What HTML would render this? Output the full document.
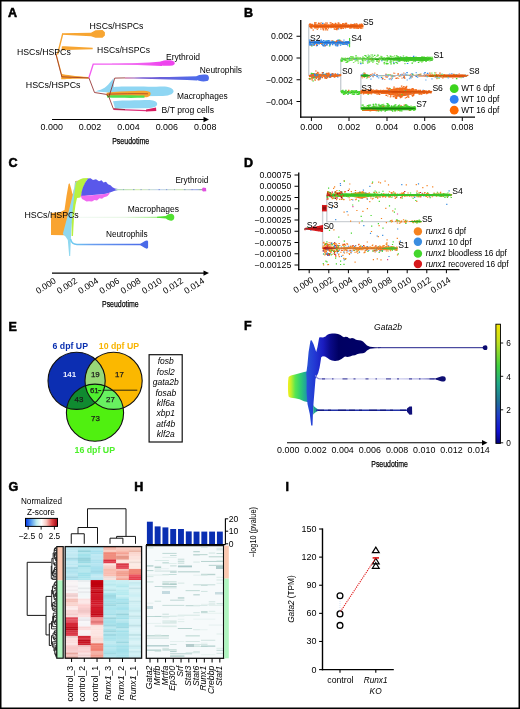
<!DOCTYPE html>
<html><head><meta charset="utf-8"><style>
html,body{margin:0;padding:0;background:#fff;overflow:hidden;}
svg{display:block;font-family:"Liberation Sans", sans-serif;will-change:transform;}
</style></head><body>
<svg width="520" height="709" viewBox="0 0 520 709">
<rect x="0" y="0" width="520" height="709" fill="#fff"/>
<defs><linearGradient id="gNeu" x1="0" x2="1" y1="0" y2="0"><stop offset="0" stop-color="#c0407a"/><stop offset="0.2" stop-color="#7a5ad0"/><stop offset="1" stop-color="#4e6bea"/></linearGradient><linearGradient id="gEry" x1="0" x2="1"><stop offset="0" stop-color="#f48af4"/><stop offset="1" stop-color="#ee44ee"/></linearGradient></defs>
<path d="M57.5,54.5 L62.7,33.8" fill="none" stroke="#f7a531" stroke-width="1.4"/>
<path d="M62,33.2 L91,32.8 L95.5,30.2 L102.5,30 L104.9,32.2 L104.9,35.6 L102.5,37.8 L95.5,37.8 L91,36.2 L62,34.8 Z" fill="#f7a531" stroke="none" stroke-width="1"/>
<path d="M61.8,46.6 C62.5,46.2 63.5,46.2 65,46.3 L92.7,47.8 L92.7,49.2 L65,49.9 C63.5,50.1 62.3,50.3 61.6,50.6 Z" fill="#f7a531" stroke="none" stroke-width="1"/>
<path d="M56,54 L62,76.5 L89,77.8" fill="none" stroke="#f7a531" stroke-width="1.1"/>
<path d="M61.2,73.8 C66,75 75,76.3 88,77.1 L88,78.5 L75,78.7 C68,79 64,79.2 61.2,79.2 Z" fill="#f7a531" stroke="none" stroke-width="1"/>
<path d="M55.5,52.5 L61.8,76.8 L88.9,78" fill="none" stroke="#8b2020" stroke-width="0.7"/>
<path d="M88.9,77.8 L93.2,64.2 L162,64.2" fill="none" stroke="#f25cf2" stroke-width="1.3"/>
<path d="M112,63.6 C130,63.5 145,63 162,61.6 L162,66 C145,65.2 130,64.8 112,64.8 Z" fill="url(#gEry)" stroke="none" stroke-width="1"/>
<path d="M160,62 C163,60.2 169,60.1 172.5,60.7 C175.5,61.4 175.5,64.8 172.5,65.4 C169,66 163,65.9 160,65.2 Z" fill="#ee44ee" stroke="none" stroke-width="1"/>
<path d="M125,77.5 C150,77.3 170,76.9 197,76.2 L197,80.4 C170,79.6 150,79 125,78.6 Z" fill="url(#gNeu)" stroke="none" stroke-width="1"/>
<path d="M196,77 C198,74.6 203,74.2 207,74.8 C209.6,75.5 209.6,80.6 207,81.1 C203,81.8 198,81.2 196,79.6 Z" fill="#4e6bea" stroke="none" stroke-width="1"/>
<path d="M94.5,91.2 C100,90.6 106,88 109.5,83 L113.5,78.3 L114,93 Z" fill="#8fd6f3" stroke="none" stroke-width="1"/>
<path d="M108,90.5 C110,87.2 115,86.6 125,86.6 C140,86.1 150,87.1 160,86.5 C168,86 173.3,88 173.6,91.2 C173.6,94.3 168,96.1 160,96.1 L120,96.6 C115,97 110,95.3 108,93.5 Z" fill="#8fd6f3" stroke="none" stroke-width="1"/>
<path d="M106.5,92.8 C115,91.8 125,91.2 135,91 C142,90.6 148,90.8 150,92 C151.5,94 150.5,96.5 147,97.2 C135,97 120,96.8 106.5,96 Z" fill="#f7a531" stroke="none" stroke-width="1"/>
<path d="M107,95.4 C120,95 130,95.2 144.5,95.6 L144.5,97.8 C130,98.1 120,97.9 107,97.6 Z" fill="#4ee04e" stroke="none" stroke-width="1"/>
<path d="M107,94.2 C120,93.8 135,93.5 148,93.8" fill="none" stroke="#8b2020" stroke-width="0.6"/>
<path d="M113,101.2 C120,100.6 130,100.6 145,100.1 C152,99.7 157.2,101 157.2,104 C157.2,107 152,108.2 145,108.2 L115,108.6 Z" fill="#8fd6f3" stroke="none" stroke-width="1"/>
<path d="M113.3,109.4 L146,110.6 L155.5,109.4" fill="none" stroke="#e0307a" stroke-width="1.3"/>
<path d="M146,109.5 L156,107.4 L156.3,111.1 L146,111.5 Z" fill="#d81b60" stroke="none" stroke-width="1"/>
<path d="M88.9,77.8 L94.5,92.5 L106.4,94.4 L108.9,96.9 L113.25,108.6 L125,109.6" fill="none" stroke="#8b2020" stroke-width="0.8"/>
<path d="M108.9,96.9 L114.75,78.1 L125,77.9" fill="none" stroke="#8b2020" stroke-width="0.8"/>
<text x="8" y="17.05" font-size="12.5" text-anchor="start" fill="#000" font-weight="bold" stroke="#000" stroke-width="0.55">A</text>
<text x="89.5" y="28.8" font-size="8.8" text-anchor="start" fill="#000" textLength="54" lengthAdjust="spacingAndGlyphs">HSCs/HSPCs</text>
<text x="97" y="53" font-size="8.8" text-anchor="start" fill="#000" textLength="53" lengthAdjust="spacingAndGlyphs">HSCs/HSPCs</text>
<text x="17" y="55" font-size="8.8" text-anchor="start" fill="#000" textLength="53.75" lengthAdjust="spacingAndGlyphs">HSCs/HSPCs</text>
<text x="25.75" y="88" font-size="8.8" text-anchor="start" fill="#000" textLength="54.75" lengthAdjust="spacingAndGlyphs">HSCs/HSPCs</text>
<text x="166" y="59.5" font-size="8.5" text-anchor="start" fill="#000" textLength="34" lengthAdjust="spacingAndGlyphs">Erythroid</text>
<text x="199.7" y="72.8" font-size="8.5" text-anchor="start" fill="#000" textLength="42.3" lengthAdjust="spacingAndGlyphs">Neutrophils</text>
<text x="177" y="99.3" font-size="8.5" text-anchor="start" fill="#000" textLength="50.8" lengthAdjust="spacingAndGlyphs">Macrophages</text>
<text x="161.6" y="112.8" font-size="8.5" text-anchor="start" fill="#000" textLength="52.4" lengthAdjust="spacingAndGlyphs">B/T prog cells</text>
<line x1="52" y1="119.5" x2="206" y2="119.5" stroke="#000" stroke-width="1.1"/>
<path d="M209,119.5 L203.5,116.8 L203.5,122.2 Z" fill="#000" stroke="none" stroke-width="1"/>
<text x="51.7" y="130.1" font-size="8.8" text-anchor="middle" fill="#000" textLength="22.3" lengthAdjust="spacingAndGlyphs">0.000</text>
<text x="90" y="130.1" font-size="8.8" text-anchor="middle" fill="#000" textLength="22.3" lengthAdjust="spacingAndGlyphs">0.002</text>
<text x="128.5" y="130.1" font-size="8.8" text-anchor="middle" fill="#000" textLength="22.3" lengthAdjust="spacingAndGlyphs">0.004</text>
<text x="166.8" y="130.1" font-size="8.8" text-anchor="middle" fill="#000" textLength="22.3" lengthAdjust="spacingAndGlyphs">0.006</text>
<text x="205.2" y="130.1" font-size="8.8" text-anchor="middle" fill="#000" textLength="22.3" lengthAdjust="spacingAndGlyphs">0.008</text>
<text x="112.2" y="143.6" font-size="9.6" text-anchor="start" fill="#000" textLength="37" lengthAdjust="spacingAndGlyphs" stroke="#000" stroke-width="0.25">Pseudotime</text>
<line x1="308.8" y1="25" x2="308.8" y2="76" stroke="#aab4bc" stroke-width="0.9"/>
<line x1="340.8" y1="58.9" x2="340.8" y2="92.2" stroke="#aab4bc" stroke-width="0.9"/>
<line x1="360.9" y1="75.5" x2="360.9" y2="108.3" stroke="#aab4bc" stroke-width="0.9"/>
<path d="M309.2,25.3 L311.4,25.0 L313.7,24.7 L315.9,24.6 L318.2,24.6 L320.4,24.6 L322.6,24.6 L324.9,24.6 L327.1,24.6 L329.4,24.6 L331.6,24.6 L333.9,24.6 L336.1,24.6 L338.3,24.5 L340.6,24.5 L342.8,24.5 L345.1,24.5 L347.3,24.5 L349.6,24.5 L351.8,24.5 L354.0,24.5 L356.3,24.5 L358.5,24.7 L360.8,25.1 L363.0,25.6 L363.0,26.6 L360.8,27.1 L358.5,27.6 L356.3,27.8 L354.0,27.8 L351.8,27.8 L349.6,27.8 L347.3,27.8 L345.1,27.8 L342.8,27.8 L340.6,27.8 L338.3,27.8 L336.1,27.8 L333.9,27.7 L331.6,27.7 L329.4,27.7 L327.1,27.7 L324.9,27.7 L322.6,27.7 L320.4,27.7 L318.2,27.7 L315.9,27.7 L313.7,27.6 L311.4,27.2 L309.2,26.9Z" fill="#f26a1b"/>
<path d="M309.2,41.4 L310.9,41.4 L312.6,41.4 L314.2,41.4 L315.9,41.4 L317.6,41.4 L319.3,41.5 L321.0,41.5 L322.6,41.5 L324.3,41.5 L326.0,41.5 L327.7,41.5 L329.4,41.5 L331.0,41.5 L332.7,41.5 L334.4,41.5 L336.1,41.5 L337.7,41.5 L339.4,41.6 L341.1,41.6 L342.8,41.6 L344.5,41.6 L346.1,41.6 L347.8,41.6 L349.5,41.6 L349.5,43.7 L347.8,43.7 L346.1,43.7 L344.5,43.7 L342.8,43.7 L341.1,43.7 L339.4,43.8 L337.7,43.8 L336.1,43.8 L334.4,43.8 L332.7,43.8 L331.0,43.8 L329.4,43.8 L327.7,43.8 L326.0,43.8 L324.3,43.8 L322.6,43.8 L321.0,43.8 L319.3,43.9 L317.6,43.9 L315.9,43.9 L314.2,43.9 L312.6,43.9 L310.9,43.9 L309.2,43.9Z" fill="#2f86e8"/>
<line x1="349.6" y1="38" x2="349.6" y2="47.3" stroke="#44d62c" stroke-width="1.1"/>
<path d="M309.2,75.1 L310.5,74.4 L311.8,73.7 L313.1,73.1 L314.5,73.3 L315.8,73.5 L317.1,73.7 L318.4,73.9 L319.7,74.1 L321.1,74.3 L322.4,74.4 L323.7,74.5 L325.0,74.5 L326.3,74.6 L327.6,74.6 L328.9,74.7 L330.3,74.8 L331.6,74.8 L332.9,74.9 L334.2,74.9 L335.5,75.0 L336.9,75.0 L338.2,75.1 L339.5,75.1 L340.8,75.2 L340.8,76.0 L339.5,76.1 L338.2,76.1 L336.9,76.2 L335.5,76.2 L334.2,76.3 L332.9,76.3 L331.6,76.4 L330.3,76.4 L328.9,76.5 L327.6,76.6 L326.3,76.6 L325.0,76.7 L323.7,76.7 L322.4,76.8 L321.1,76.9 L319.7,77.2 L318.4,77.4 L317.1,77.7 L315.8,77.9 L314.5,78.1 L313.1,78.4 L311.8,77.7 L310.5,76.9 L309.2,76.1Z" fill="#f26a1b"/>
<path d="M341.2,58.6 L345.0,58.6 L348.8,58.5 L352.6,58.5 L356.4,58.5 L360.3,58.5 L364.1,58.4 L367.9,58.4 L371.7,58.4 L375.5,58.4 L379.3,58.4 L383.1,58.3 L386.9,58.3 L390.8,58.1 L394.6,58.0 L398.4,57.8 L402.2,57.7 L406.0,57.7 L409.8,57.7 L413.6,57.7 L417.4,57.6 L421.3,57.6 L425.1,57.6 L428.9,57.6 L432.7,57.6 L432.7,60.7 L428.9,60.7 L425.1,60.7 L421.3,60.7 L417.4,60.7 L413.6,60.7 L409.8,60.7 L406.0,60.7 L402.2,60.7 L398.4,60.6 L394.6,60.4 L390.8,60.3 L386.9,60.1 L383.1,60.0 L379.3,59.9 L375.5,59.9 L371.7,59.8 L367.9,59.7 L364.1,59.6 L360.3,59.6 L356.4,59.5 L352.6,59.4 L348.8,59.4 L345.0,59.3 L341.2,59.2Z" fill="#2aa818"/>
<path d="M380.0,58.2 L382.2,58.1 L384.4,58.1 L386.6,58.0 L388.8,58.0 L391.0,57.9 L393.2,57.8 L395.4,57.8 L397.6,57.7 L399.8,57.6 L402.0,57.6 L404.2,57.5 L406.4,57.5 L408.5,57.4 L410.7,57.3 L412.9,57.3 L415.1,57.2 L417.3,57.1 L419.5,57.1 L421.7,57.0 L423.9,57.0 L426.1,56.9 L428.3,56.8 L430.5,56.8 L432.7,56.7 L432.7,60.3 L430.5,60.3 L428.3,60.2 L426.1,60.2 L423.9,60.2 L421.7,60.1 L419.5,60.1 L417.3,60.1 L415.1,60.0 L412.9,60.0 L410.7,60.0 L408.5,59.9 L406.4,59.9 L404.2,59.9 L402.0,59.8 L399.8,59.8 L397.6,59.8 L395.4,59.7 L393.2,59.7 L391.0,59.7 L388.8,59.6 L386.6,59.6 L384.4,59.6 L382.2,59.5 L380.0,59.5Z" fill="#44d62c"/>
<line x1="360.9" y1="75.5" x2="420" y2="75.5" stroke="#aab4bc" stroke-width="0.7"/>
<path d="M361.0,75.3 L361.5,75.1 L361.9,75.0 L362.4,74.8 L362.8,74.6 L363.3,74.5 L363.8,74.3 L364.2,74.1 L364.7,74.2 L365.1,74.2 L365.6,74.3 L366.0,74.3 L366.5,74.4 L367.0,74.5 L367.4,74.5 L367.9,74.6 L368.3,74.7 L368.8,74.7 L369.2,74.8 L369.7,74.9 L370.2,74.9 L370.6,75.0 L371.1,75.1 L371.5,75.1 L372.0,75.2 L372.0,76.0 L371.5,76.1 L371.1,76.1 L370.6,76.2 L370.2,76.3 L369.7,76.3 L369.2,76.4 L368.8,76.5 L368.3,76.5 L367.9,76.6 L367.4,76.7 L367.0,76.7 L366.5,76.8 L366.0,76.9 L365.6,76.9 L365.1,77.0 L364.7,77.0 L364.2,77.1 L363.8,76.9 L363.3,76.7 L362.8,76.6 L362.4,76.4 L361.9,76.2 L361.5,76.1 L361.0,75.9Z" fill="#2aa818"/>
<path d="M415.0,75.4 L417.2,75.3 L419.4,75.3 L421.6,75.2 L423.8,75.1 L426.0,75.1 L428.2,75.0 L430.4,74.9 L432.6,74.9 L434.8,74.8 L437.0,74.7 L439.2,74.7 L441.4,74.6 L443.5,74.6 L445.7,74.6 L447.9,74.5 L450.1,74.5 L452.3,74.5 L454.5,74.5 L456.7,74.5 L458.9,74.4 L461.1,74.4 L463.3,74.6 L465.5,75.0 L467.7,75.5 L467.7,76.1 L465.5,76.7 L463.3,77.3 L461.1,77.6 L458.9,77.6 L456.7,77.5 L454.5,77.5 L452.3,77.5 L450.1,77.5 L447.9,77.5 L445.7,77.4 L443.5,77.4 L441.4,77.4 L439.2,77.3 L437.0,77.2 L434.8,77.1 L432.6,77.0 L430.4,76.9 L428.2,76.8 L426.0,76.7 L423.8,76.6 L421.6,76.5 L419.4,76.4 L417.2,76.3 L415.0,76.2Z" fill="#e0560c"/>
<path d="M430.0,75.5 L431.0,75.4 L432.1,75.3 L433.1,75.2 L434.2,75.2 L435.2,75.1 L436.2,75.0 L437.3,74.9 L438.3,74.8 L439.4,74.8 L440.4,74.7 L441.5,74.6 L442.5,74.5 L443.5,74.6 L444.6,74.6 L445.6,74.7 L446.7,74.8 L447.7,74.8 L448.8,74.9 L449.8,75.0 L450.8,75.0 L451.9,75.1 L452.9,75.2 L454.0,75.2 L455.0,75.3 L455.0,76.3 L454.0,76.4 L452.9,76.4 L451.9,76.5 L450.8,76.6 L449.8,76.6 L448.8,76.7 L447.7,76.8 L446.7,76.8 L445.6,76.9 L444.6,77.0 L443.5,77.0 L442.5,77.1 L441.5,77.0 L440.4,76.9 L439.4,76.8 L438.3,76.8 L437.3,76.7 L436.2,76.6 L435.2,76.5 L434.2,76.4 L433.1,76.3 L432.1,76.3 L431.0,76.2 L430.0,76.1Z" fill="#2aa818"/>
<path d="M341.0,91.7 L341.8,91.6 L342.6,91.5 L343.4,91.4 L344.2,91.3 L345.0,91.1 L345.8,91.0 L346.6,90.9 L347.4,90.9 L348.2,90.9 L349.0,91.0 L349.8,91.0 L350.6,91.0 L351.4,91.0 L352.2,91.1 L353.0,91.1 L353.8,91.1 L354.6,91.1 L355.4,91.2 L356.2,91.2 L357.0,91.2 L357.8,91.2 L358.6,91.3 L359.4,91.3 L360.2,91.3 L360.2,92.9 L359.4,92.9 L358.6,92.9 L357.8,93.0 L357.0,93.0 L356.2,93.0 L355.4,93.0 L354.6,93.1 L353.8,93.1 L353.0,93.1 L352.2,93.1 L351.4,93.2 L350.6,93.2 L349.8,93.2 L349.0,93.2 L348.2,93.3 L347.4,93.3 L346.6,93.3 L345.8,93.2 L345.0,93.1 L344.2,92.9 L343.4,92.8 L342.6,92.7 L341.8,92.6 L341.0,92.5Z" fill="#2aa818"/>
<path d="M361.0,91.3 L363.9,91.2 L366.9,91.1 L369.8,91.0 L372.8,90.9 L375.7,90.8 L378.6,90.7 L381.6,90.4 L384.5,90.1 L387.4,89.7 L390.4,89.4 L393.3,88.7 L396.2,88.0 L399.2,87.8 L402.1,88.0 L405.1,88.2 L408.0,88.8 L410.9,89.5 L413.9,90.0 L416.8,90.4 L419.8,90.7 L422.7,91.0 L425.6,91.2 L428.6,91.3 L431.5,91.5 L431.5,92.3 L428.6,92.5 L425.6,92.6 L422.7,92.8 L419.8,93.1 L416.8,93.6 L413.9,94.1 L410.9,94.6 L408.0,95.3 L405.1,96.0 L402.1,96.3 L399.2,96.6 L396.2,96.3 L393.3,95.5 L390.4,94.7 L387.4,94.3 L384.5,93.9 L381.6,93.5 L378.6,93.1 L375.7,93.0 L372.8,92.9 L369.8,92.8 L366.9,92.7 L363.9,92.6 L361.0,92.5Z" fill="#f26a1b"/>
<path d="M361.0,91.5 L363.9,91.5 L366.9,91.5 L369.8,91.5 L372.8,91.5 L375.7,91.5 L378.6,91.5 L381.6,91.5 L384.5,91.5 L387.4,91.5 L390.4,91.5 L393.3,91.5 L396.2,91.5 L399.2,91.5 L402.1,91.5 L405.1,91.5 L408.0,91.5 L410.9,91.5 L413.9,91.5 L416.8,91.5 L419.8,91.5 L422.7,91.5 L425.6,91.5 L428.6,91.5 L431.5,91.5 L431.5,92.4 L428.6,92.4 L425.6,92.4 L422.7,92.4 L419.8,92.4 L416.8,92.4 L413.9,92.4 L410.9,92.4 L408.0,92.4 L405.1,92.4 L402.1,92.4 L399.2,92.4 L396.2,92.4 L393.3,92.4 L390.4,92.4 L387.4,92.4 L384.5,92.4 L381.6,92.4 L378.6,92.4 L375.7,92.4 L372.8,92.4 L369.8,92.4 L366.9,92.4 L363.9,92.4 L361.0,92.4Z" fill="#c84a08"/>
<path d="M361.0,91.7 L361.3,91.6 L361.6,91.5 L361.9,91.4 L362.2,91.3 L362.5,91.2 L362.8,91.2 L363.0,91.1 L363.3,91.0 L363.6,90.9 L363.9,90.8 L364.2,90.7 L364.5,90.6 L364.8,90.7 L365.1,90.8 L365.4,90.9 L365.7,90.9 L366.0,91.0 L366.2,91.1 L366.5,91.2 L366.8,91.3 L367.1,91.4 L367.4,91.4 L367.7,91.5 L368.0,91.6 L368.0,92.2 L367.7,92.3 L367.4,92.4 L367.1,92.5 L366.8,92.5 L366.5,92.6 L366.2,92.7 L366.0,92.8 L365.7,92.9 L365.4,93.0 L365.1,93.0 L364.8,93.1 L364.5,93.2 L364.2,93.1 L363.9,93.0 L363.6,92.9 L363.3,92.8 L363.0,92.7 L362.8,92.7 L362.5,92.6 L362.2,92.5 L361.9,92.4 L361.6,92.3 L361.3,92.2 L361.0,92.1Z" fill="#2aa818"/>
<path d="M361.3,107.5 L363.6,107.3 L365.8,107.2 L368.1,107.0 L370.3,106.8 L372.6,106.7 L374.8,106.7 L377.1,106.7 L379.3,106.7 L381.6,106.7 L383.8,106.7 L386.1,106.7 L388.4,106.7 L390.6,106.7 L392.9,106.6 L395.1,106.6 L397.4,106.6 L399.6,106.6 L401.9,106.6 L404.1,106.6 L406.4,106.6 L408.6,106.6 L410.9,106.7 L413.1,107.0 L415.4,107.3 L415.4,109.3 L413.1,109.7 L410.9,110.0 L408.6,110.2 L406.4,110.2 L404.1,110.2 L401.9,110.2 L399.6,110.2 L397.4,110.2 L395.1,110.2 L392.9,110.2 L390.6,110.3 L388.4,110.3 L386.1,110.3 L383.8,110.3 L381.6,110.3 L379.3,110.3 L377.1,110.3 L374.8,110.3 L372.6,110.3 L370.3,110.2 L368.1,110.0 L365.8,109.8 L363.6,109.7 L361.3,109.5Z" fill="#2aa818"/>
<path d="M362.0,109.3 L362.8,109.3 L363.7,109.2 L364.5,109.2 L365.3,109.2 L366.2,109.2 L367.0,109.1 L367.8,109.1 L368.7,109.1 L369.5,109.1 L370.3,109.0 L371.2,109.0 L372.0,109.0 L372.8,109.0 L373.7,109.1 L374.5,109.1 L375.3,109.1 L376.2,109.2 L377.0,109.2 L377.8,109.2 L378.7,109.3 L379.5,109.3 L380.3,109.3 L381.2,109.4 L382.0,109.4 L382.0,109.9 L381.2,110.0 L380.3,110.0 L379.5,110.1 L378.7,110.2 L377.8,110.3 L377.0,110.3 L376.2,110.4 L375.3,110.5 L374.5,110.6 L373.7,110.6 L372.8,110.7 L372.0,110.8 L371.2,110.7 L370.3,110.7 L369.5,110.6 L368.7,110.6 L367.8,110.5 L367.0,110.4 L366.2,110.4 L365.3,110.3 L364.5,110.3 L363.7,110.2 L362.8,110.2 L362.0,110.1Z" fill="#f26a1b"/>
<path d="M339.4,24.7h1.5v1.2h-1.5z" fill="#44d62c"/>
<path d="M344.9,24.6h1.5v1.2h-1.5zM359.5,26.4h1.5v1.2h-1.5zM317.3,25.4h1.5v1.2h-1.5zM337.8,28.3h1.5v1.2h-1.5zM353.4,23.8h1.5v1.2h-1.5zM322.0,22.8h1.5v1.2h-1.5zM352.2,24.3h1.5v1.2h-1.5zM312.2,24.7h1.5v1.2h-1.5z" fill="#2f86e8"/>
<path d="M320.8,25.5h1.5v1.2h-1.5zM361.8,25.0h1.5v1.2h-1.5zM355.9,24.6h1.5v1.2h-1.5zM311.5,25.2h1.5v1.2h-1.5zM311.6,24.1h1.5v1.2h-1.5zM324.9,29.2h1.5v1.2h-1.5zM355.7,27.6h1.5v1.2h-1.5zM324.4,24.0h1.5v1.2h-1.5zM359.8,27.6h1.5v1.2h-1.5zM312.4,25.2h1.5v1.2h-1.5zM344.5,26.1h1.5v1.2h-1.5zM314.0,27.1h1.5v1.2h-1.5zM357.4,26.5h1.5v1.2h-1.5zM351.7,25.7h1.5v1.2h-1.5zM357.2,26.7h1.5v1.2h-1.5zM336.0,25.1h1.5v1.2h-1.5zM345.7,22.8h1.5v1.2h-1.5zM354.5,23.7h1.5v1.2h-1.5zM343.9,25.0h1.5v1.2h-1.5zM315.2,26.0h1.5v1.2h-1.5zM360.8,24.3h1.5v1.2h-1.5zM346.5,24.7h1.5v1.2h-1.5zM320.4,22.2h1.5v1.2h-1.5zM346.5,25.7h1.5v1.2h-1.5zM340.6,26.1h1.5v1.2h-1.5zM340.4,28.0h1.5v1.2h-1.5zM361.9,27.2h1.5v1.2h-1.5zM339.7,26.9h1.5v1.2h-1.5zM315.4,22.3h1.5v1.2h-1.5zM342.7,25.4h1.5v1.2h-1.5zM311.7,25.0h1.5v1.2h-1.5zM327.5,24.6h1.5v1.2h-1.5zM316.6,28.8h1.5v1.2h-1.5zM351.9,26.1h1.5v1.2h-1.5zM337.3,22.6h1.5v1.2h-1.5zM334.3,28.9h1.5v1.2h-1.5zM352.3,24.0h1.5v1.2h-1.5zM323.7,27.4h1.5v1.2h-1.5zM352.5,25.0h1.5v1.2h-1.5zM338.9,24.5h1.5v1.2h-1.5zM322.5,25.7h1.5v1.2h-1.5z" fill="#f58a40"/>
<path d="M315.7,27.4h1.5v1.2h-1.5zM335.1,23.3h1.5v1.2h-1.5zM343.5,25.7h1.5v1.2h-1.5zM353.4,25.0h1.5v1.2h-1.5zM349.5,27.0h1.5v1.2h-1.5zM356.9,25.8h1.5v1.2h-1.5zM359.0,25.5h1.5v1.2h-1.5zM320.1,25.1h1.5v1.2h-1.5zM332.0,25.7h1.5v1.2h-1.5zM321.0,25.7h1.5v1.2h-1.5zM324.0,26.8h1.5v1.2h-1.5zM353.5,23.9h1.5v1.2h-1.5zM315.0,24.1h1.5v1.2h-1.5zM358.8,27.0h1.5v1.2h-1.5zM353.1,25.0h1.5v1.2h-1.5zM335.6,25.1h1.5v1.2h-1.5zM351.4,25.3h1.5v1.2h-1.5zM317.8,23.0h1.5v1.2h-1.5zM328.6,24.7h1.5v1.2h-1.5zM335.8,25.9h1.5v1.2h-1.5zM334.8,23.6h1.5v1.2h-1.5zM310.8,24.1h1.5v1.2h-1.5zM329.6,22.2h1.5v1.2h-1.5zM335.5,28.5h1.5v1.2h-1.5zM354.7,25.3h1.5v1.2h-1.5zM336.1,27.7h1.5v1.2h-1.5zM322.9,24.9h1.5v1.2h-1.5zM359.9,27.4h1.5v1.2h-1.5zM356.1,25.6h1.5v1.2h-1.5zM352.0,23.9h1.5v1.2h-1.5zM339.1,26.1h1.5v1.2h-1.5zM327.6,27.6h1.5v1.2h-1.5zM337.4,24.0h1.5v1.2h-1.5zM310.0,23.8h1.5v1.2h-1.5zM318.0,22.6h1.5v1.2h-1.5zM351.3,24.2h1.5v1.2h-1.5zM322.2,27.0h1.5v1.2h-1.5zM309.3,23.3h1.5v1.2h-1.5zM349.1,25.5h1.5v1.2h-1.5zM327.0,26.4h1.5v1.2h-1.5zM317.0,24.5h1.5v1.2h-1.5zM346.7,25.4h1.5v1.2h-1.5zM325.8,25.1h1.5v1.2h-1.5zM331.1,25.6h1.5v1.2h-1.5zM314.3,27.4h1.5v1.2h-1.5zM341.0,24.5h1.5v1.2h-1.5zM309.6,26.6h1.5v1.2h-1.5zM317.1,25.6h1.5v1.2h-1.5zM351.4,25.3h1.5v1.2h-1.5zM320.5,24.5h1.5v1.2h-1.5zM325.7,24.2h1.5v1.2h-1.5zM325.1,28.3h1.5v1.2h-1.5zM322.0,24.5h1.5v1.2h-1.5zM339.1,26.2h1.5v1.2h-1.5zM355.1,27.3h1.5v1.2h-1.5zM328.8,25.1h1.5v1.2h-1.5zM319.5,24.7h1.5v1.2h-1.5zM314.1,23.9h1.5v1.2h-1.5zM356.9,25.5h1.5v1.2h-1.5zM319.3,23.2h1.5v1.2h-1.5zM326.7,29.2h1.5v1.2h-1.5zM344.7,27.3h1.5v1.2h-1.5zM355.9,23.2h1.5v1.2h-1.5zM334.5,26.8h1.5v1.2h-1.5zM313.0,25.4h1.5v1.2h-1.5zM357.5,25.9h1.5v1.2h-1.5zM353.7,27.5h1.5v1.2h-1.5zM326.8,24.7h1.5v1.2h-1.5zM315.7,24.7h1.5v1.2h-1.5zM350.9,26.1h1.5v1.2h-1.5zM350.5,24.5h1.5v1.2h-1.5zM339.2,25.6h1.5v1.2h-1.5zM356.4,26.0h1.5v1.2h-1.5zM358.2,24.7h1.5v1.2h-1.5zM353.0,25.8h1.5v1.2h-1.5zM310.6,26.0h1.5v1.2h-1.5zM361.6,25.1h1.5v1.2h-1.5zM321.4,25.9h1.5v1.2h-1.5zM357.4,24.9h1.5v1.2h-1.5zM322.1,24.7h1.5v1.2h-1.5zM310.6,25.6h1.5v1.2h-1.5zM361.3,25.1h1.5v1.2h-1.5zM325.3,27.9h1.5v1.2h-1.5zM357.6,27.8h1.5v1.2h-1.5zM320.0,24.7h1.5v1.2h-1.5zM361.2,24.0h1.5v1.2h-1.5zM322.4,24.8h1.5v1.2h-1.5zM325.0,25.5h1.5v1.2h-1.5zM361.4,25.9h1.5v1.2h-1.5zM343.5,23.4h1.5v1.2h-1.5zM325.0,22.4h1.5v1.2h-1.5zM325.5,27.7h1.5v1.2h-1.5zM326.4,22.6h1.5v1.2h-1.5zM339.6,24.6h1.5v1.2h-1.5zM321.6,24.8h1.5v1.2h-1.5zM338.1,26.1h1.5v1.2h-1.5zM324.1,25.8h1.5v1.2h-1.5zM335.0,26.2h1.5v1.2h-1.5zM351.2,25.0h1.5v1.2h-1.5zM352.6,27.4h1.5v1.2h-1.5zM314.2,22.1h1.5v1.2h-1.5zM356.5,25.3h1.5v1.2h-1.5zM353.7,25.5h1.5v1.2h-1.5zM331.7,23.0h1.5v1.2h-1.5zM346.9,25.0h1.5v1.2h-1.5zM360.3,24.8h1.5v1.2h-1.5zM338.0,22.6h1.5v1.2h-1.5zM329.7,24.7h1.5v1.2h-1.5zM322.3,28.2h1.5v1.2h-1.5zM339.1,25.9h1.5v1.2h-1.5zM327.5,26.1h1.5v1.2h-1.5zM353.0,26.0h1.5v1.2h-1.5zM330.0,24.6h1.5v1.2h-1.5zM336.9,24.8h1.5v1.2h-1.5zM343.4,23.5h1.5v1.2h-1.5zM321.3,26.6h1.5v1.2h-1.5zM334.2,25.8h1.5v1.2h-1.5zM323.3,25.2h1.5v1.2h-1.5zM317.0,25.9h1.5v1.2h-1.5zM328.4,24.7h1.5v1.2h-1.5zM360.1,24.9h1.5v1.2h-1.5zM320.2,25.0h1.5v1.2h-1.5zM349.2,27.5h1.5v1.2h-1.5zM327.2,26.4h1.5v1.2h-1.5zM351.9,25.1h1.5v1.2h-1.5zM322.8,29.2h1.5v1.2h-1.5zM350.2,23.8h1.5v1.2h-1.5zM360.7,24.4h1.5v1.2h-1.5zM351.6,24.8h1.5v1.2h-1.5zM360.1,26.6h1.5v1.2h-1.5zM314.8,27.3h1.5v1.2h-1.5zM321.8,25.5h1.5v1.2h-1.5zM332.1,25.4h1.5v1.2h-1.5zM342.2,23.3h1.5v1.2h-1.5zM323.8,23.6h1.5v1.2h-1.5zM323.1,24.4h1.5v1.2h-1.5zM351.0,25.0h1.5v1.2h-1.5zM349.8,25.1h1.5v1.2h-1.5zM329.1,25.3h1.5v1.2h-1.5zM314.8,26.4h1.5v1.2h-1.5zM315.8,24.9h1.5v1.2h-1.5zM339.3,24.8h1.5v1.2h-1.5zM336.9,27.4h1.5v1.2h-1.5zM332.2,24.2h1.5v1.2h-1.5zM350.6,25.9h1.5v1.2h-1.5zM334.9,24.6h1.5v1.2h-1.5zM308.7,24.1h1.5v1.2h-1.5zM340.6,27.7h1.5v1.2h-1.5zM361.6,24.2h1.5v1.2h-1.5zM324.9,27.2h1.5v1.2h-1.5zM341.8,24.2h1.5v1.2h-1.5zM329.4,25.2h1.5v1.2h-1.5zM330.3,27.0h1.5v1.2h-1.5zM356.8,24.4h1.5v1.2h-1.5zM335.0,25.4h1.5v1.2h-1.5zM342.3,23.4h1.5v1.2h-1.5zM342.3,23.2h1.5v1.2h-1.5zM354.0,23.4h1.5v1.2h-1.5zM352.3,24.6h1.5v1.2h-1.5zM337.7,27.3h1.5v1.2h-1.5zM333.6,28.2h1.5v1.2h-1.5zM335.9,25.4h1.5v1.2h-1.5zM343.8,24.0h1.5v1.2h-1.5zM335.7,28.0h1.5v1.2h-1.5zM345.5,24.8h1.5v1.2h-1.5zM319.7,26.5h1.5v1.2h-1.5zM312.5,29.4h1.5v1.2h-1.5zM336.6,24.2h1.5v1.2h-1.5zM317.5,27.2h1.5v1.2h-1.5zM346.8,26.0h1.5v1.2h-1.5zM320.9,24.3h1.5v1.2h-1.5zM317.7,26.5h1.5v1.2h-1.5zM341.9,25.2h1.5v1.2h-1.5zM331.7,25.7h1.5v1.2h-1.5zM342.1,23.0h1.5v1.2h-1.5zM360.8,23.4h1.5v1.2h-1.5zM341.1,26.7h1.5v1.2h-1.5zM336.8,26.1h1.5v1.2h-1.5zM327.9,26.3h1.5v1.2h-1.5zM321.4,25.0h1.5v1.2h-1.5zM314.2,22.8h1.5v1.2h-1.5zM334.9,26.4h1.5v1.2h-1.5zM320.1,28.4h1.5v1.2h-1.5zM360.3,25.9h1.5v1.2h-1.5zM326.9,26.0h1.5v1.2h-1.5zM313.6,24.8h1.5v1.2h-1.5zM335.1,24.8h1.5v1.2h-1.5zM352.6,26.0h1.5v1.2h-1.5zM339.7,26.1h1.5v1.2h-1.5zM325.6,26.4h1.5v1.2h-1.5zM349.3,24.9h1.5v1.2h-1.5zM357.6,26.1h1.5v1.2h-1.5zM311.5,25.6h1.5v1.2h-1.5zM310.4,26.4h1.5v1.2h-1.5zM353.7,26.5h1.5v1.2h-1.5zM313.3,25.9h1.5v1.2h-1.5zM344.1,23.4h1.5v1.2h-1.5zM342.4,27.7h1.5v1.2h-1.5zM340.2,24.3h1.5v1.2h-1.5zM336.5,27.4h1.5v1.2h-1.5zM331.3,26.1h1.5v1.2h-1.5zM346.8,25.4h1.5v1.2h-1.5zM311.3,23.8h1.5v1.2h-1.5zM310.6,25.9h1.5v1.2h-1.5zM332.3,26.7h1.5v1.2h-1.5zM355.9,26.4h1.5v1.2h-1.5zM336.7,28.1h1.5v1.2h-1.5zM310.3,27.4h1.5v1.2h-1.5zM347.9,25.2h1.5v1.2h-1.5zM324.8,24.4h1.5v1.2h-1.5zM326.2,26.1h1.5v1.2h-1.5zM350.6,27.2h1.5v1.2h-1.5zM343.6,25.0h1.5v1.2h-1.5zM361.6,25.1h1.5v1.2h-1.5zM353.2,25.3h1.5v1.2h-1.5zM336.5,26.5h1.5v1.2h-1.5zM327.0,25.1h1.5v1.2h-1.5zM343.5,25.3h1.5v1.2h-1.5zM324.5,24.6h1.5v1.2h-1.5zM335.4,26.7h1.5v1.2h-1.5zM316.5,27.0h1.5v1.2h-1.5zM358.1,25.7h1.5v1.2h-1.5zM350.6,24.9h1.5v1.2h-1.5zM359.1,23.8h1.5v1.2h-1.5zM330.1,22.2h1.5v1.2h-1.5zM317.5,26.7h1.5v1.2h-1.5zM345.4,22.7h1.5v1.2h-1.5zM330.6,24.1h1.5v1.2h-1.5zM311.1,27.5h1.5v1.2h-1.5zM314.2,26.9h1.5v1.2h-1.5zM342.5,24.9h1.5v1.2h-1.5zM354.2,25.4h1.5v1.2h-1.5zM317.8,25.8h1.5v1.2h-1.5zM354.1,25.3h1.5v1.2h-1.5zM356.5,24.5h1.5v1.2h-1.5zM344.8,22.7h1.5v1.2h-1.5zM347.5,24.6h1.5v1.2h-1.5zM362.2,25.5h1.5v1.2h-1.5zM349.9,26.4h1.5v1.2h-1.5zM334.7,22.8h1.5v1.2h-1.5zM339.9,27.4h1.5v1.2h-1.5zM354.2,24.8h1.5v1.2h-1.5zM345.6,25.7h1.5v1.2h-1.5zM314.9,24.3h1.5v1.2h-1.5zM360.7,27.6h1.5v1.2h-1.5zM339.2,23.7h1.5v1.2h-1.5zM330.4,24.5h1.5v1.2h-1.5zM335.7,24.5h1.5v1.2h-1.5zM338.0,26.5h1.5v1.2h-1.5zM362.0,25.4h1.5v1.2h-1.5zM356.6,26.4h1.5v1.2h-1.5zM356.8,27.5h1.5v1.2h-1.5zM333.4,24.1h1.5v1.2h-1.5zM328.5,25.5h1.5v1.2h-1.5zM333.0,23.7h1.5v1.2h-1.5zM327.5,25.2h1.5v1.2h-1.5zM340.2,24.3h1.5v1.2h-1.5zM336.1,29.0h1.5v1.2h-1.5zM345.6,23.3h1.5v1.2h-1.5zM346.9,26.5h1.5v1.2h-1.5zM360.7,25.4h1.5v1.2h-1.5zM360.4,25.1h1.5v1.2h-1.5z" fill="#f26a1b"/>
<path d="M325.8,40.5h1.5v1.2h-1.5zM321.6,43.4h1.5v1.2h-1.5zM328.9,45.3h1.5v1.2h-1.5zM341.4,43.3h1.5v1.2h-1.5zM311.1,45.3h1.5v1.2h-1.5zM338.8,39.6h1.5v1.2h-1.5zM332.5,40.8h1.5v1.2h-1.5zM312.8,43.2h1.5v1.2h-1.5z" fill="#44d62c"/>
<path d="M342.1,42.0h1.5v1.2h-1.5zM335.4,41.5h1.5v1.2h-1.5zM338.8,41.7h1.5v1.2h-1.5zM347.0,45.1h1.5v1.2h-1.5zM341.5,41.4h1.5v1.2h-1.5zM316.9,43.4h1.5v1.2h-1.5zM309.5,41.6h1.5v1.2h-1.5zM315.9,45.2h1.5v1.2h-1.5zM339.3,41.9h1.5v1.2h-1.5zM343.2,39.6h1.5v1.2h-1.5zM312.3,42.3h1.5v1.2h-1.5zM329.4,41.1h1.5v1.2h-1.5zM342.3,41.6h1.5v1.2h-1.5zM311.5,43.7h1.5v1.2h-1.5zM328.1,42.0h1.5v1.2h-1.5zM320.4,42.4h1.5v1.2h-1.5zM313.0,39.6h1.5v1.2h-1.5zM317.5,40.3h1.5v1.2h-1.5zM324.7,40.4h1.5v1.2h-1.5zM335.0,42.2h1.5v1.2h-1.5zM328.7,42.8h1.5v1.2h-1.5zM315.5,42.2h1.5v1.2h-1.5zM344.5,43.6h1.5v1.2h-1.5zM312.5,42.2h1.5v1.2h-1.5zM340.5,42.4h1.5v1.2h-1.5zM348.6,41.0h1.5v1.2h-1.5zM335.4,45.3h1.5v1.2h-1.5zM310.6,42.5h1.5v1.2h-1.5zM339.3,43.2h1.5v1.2h-1.5zM336.6,42.0h1.5v1.2h-1.5zM331.8,41.8h1.5v1.2h-1.5z" fill="#7ab4ee"/>
<path d="M344.5,42.8h1.5v1.2h-1.5zM339.2,40.2h1.5v1.2h-1.5zM327.0,40.7h1.5v1.2h-1.5zM328.6,41.8h1.5v1.2h-1.5zM331.3,40.3h1.5v1.2h-1.5zM315.4,41.9h1.5v1.2h-1.5zM318.6,40.6h1.5v1.2h-1.5zM317.0,42.4h1.5v1.2h-1.5zM311.4,41.8h1.5v1.2h-1.5zM313.4,42.6h1.5v1.2h-1.5zM334.3,42.6h1.5v1.2h-1.5zM336.4,44.4h1.5v1.2h-1.5zM346.9,43.3h1.5v1.2h-1.5zM338.5,40.9h1.5v1.2h-1.5zM337.1,43.8h1.5v1.2h-1.5zM309.1,40.9h1.5v1.2h-1.5zM337.8,40.0h1.5v1.2h-1.5zM312.5,40.4h1.5v1.2h-1.5zM316.2,44.8h1.5v1.2h-1.5zM328.0,42.0h1.5v1.2h-1.5zM340.1,40.6h1.5v1.2h-1.5zM326.3,43.6h1.5v1.2h-1.5zM341.7,41.5h1.5v1.2h-1.5zM329.8,43.4h1.5v1.2h-1.5zM319.6,42.9h1.5v1.2h-1.5zM324.6,45.1h1.5v1.2h-1.5zM336.3,40.1h1.5v1.2h-1.5zM338.4,42.1h1.5v1.2h-1.5zM347.0,41.2h1.5v1.2h-1.5zM316.0,43.6h1.5v1.2h-1.5zM345.4,42.3h1.5v1.2h-1.5zM323.5,44.4h1.5v1.2h-1.5zM329.5,42.9h1.5v1.2h-1.5zM321.2,43.3h1.5v1.2h-1.5zM348.3,41.3h1.5v1.2h-1.5zM313.6,44.5h1.5v1.2h-1.5zM310.5,44.6h1.5v1.2h-1.5zM335.9,41.0h1.5v1.2h-1.5zM343.1,43.6h1.5v1.2h-1.5zM312.7,42.0h1.5v1.2h-1.5zM310.4,40.2h1.5v1.2h-1.5zM334.1,41.3h1.5v1.2h-1.5zM347.9,41.9h1.5v1.2h-1.5zM327.1,41.9h1.5v1.2h-1.5z" fill="#f26a1b"/>
<path d="M347.0,42.6h1.5v1.2h-1.5zM331.9,44.1h1.5v1.2h-1.5zM346.7,43.6h1.5v1.2h-1.5zM326.4,42.1h1.5v1.2h-1.5zM327.2,42.5h1.5v1.2h-1.5zM323.8,43.7h1.5v1.2h-1.5zM318.0,41.1h1.5v1.2h-1.5zM335.6,43.5h1.5v1.2h-1.5zM322.7,45.4h1.5v1.2h-1.5zM322.7,44.7h1.5v1.2h-1.5zM337.6,41.2h1.5v1.2h-1.5zM336.6,42.2h1.5v1.2h-1.5zM345.0,41.8h1.5v1.2h-1.5zM328.8,40.3h1.5v1.2h-1.5zM321.0,41.9h1.5v1.2h-1.5zM329.1,44.2h1.5v1.2h-1.5zM345.0,43.0h1.5v1.2h-1.5zM334.8,44.5h1.5v1.2h-1.5zM317.6,42.7h1.5v1.2h-1.5zM342.9,41.7h1.5v1.2h-1.5zM309.7,41.2h1.5v1.2h-1.5zM309.3,42.0h1.5v1.2h-1.5zM324.0,45.4h1.5v1.2h-1.5zM309.9,43.5h1.5v1.2h-1.5zM333.2,42.1h1.5v1.2h-1.5zM309.7,41.5h1.5v1.2h-1.5zM327.5,42.5h1.5v1.2h-1.5zM312.6,44.6h1.5v1.2h-1.5zM343.7,43.5h1.5v1.2h-1.5zM329.2,43.6h1.5v1.2h-1.5zM347.1,42.0h1.5v1.2h-1.5zM309.2,44.5h1.5v1.2h-1.5zM314.1,42.5h1.5v1.2h-1.5zM317.8,41.8h1.5v1.2h-1.5zM337.0,41.2h1.5v1.2h-1.5zM325.5,42.0h1.5v1.2h-1.5zM324.9,42.1h1.5v1.2h-1.5zM337.6,42.1h1.5v1.2h-1.5zM317.8,42.9h1.5v1.2h-1.5zM347.3,41.9h1.5v1.2h-1.5zM331.9,40.8h1.5v1.2h-1.5zM325.3,41.3h1.5v1.2h-1.5zM340.8,42.0h1.5v1.2h-1.5zM329.4,44.1h1.5v1.2h-1.5zM348.1,41.3h1.5v1.2h-1.5zM309.2,41.9h1.5v1.2h-1.5zM309.1,40.9h1.5v1.2h-1.5zM316.8,42.6h1.5v1.2h-1.5zM316.2,41.0h1.5v1.2h-1.5zM338.8,41.6h1.5v1.2h-1.5zM337.6,42.5h1.5v1.2h-1.5zM322.9,39.9h1.5v1.2h-1.5zM329.7,42.9h1.5v1.2h-1.5zM320.4,39.6h1.5v1.2h-1.5zM345.5,43.7h1.5v1.2h-1.5zM314.4,43.0h1.5v1.2h-1.5zM334.6,43.8h1.5v1.2h-1.5zM326.1,44.5h1.5v1.2h-1.5zM312.3,41.3h1.5v1.2h-1.5zM337.3,42.0h1.5v1.2h-1.5zM336.8,45.2h1.5v1.2h-1.5zM348.6,42.5h1.5v1.2h-1.5zM326.2,40.5h1.5v1.2h-1.5zM332.4,42.8h1.5v1.2h-1.5zM327.9,41.6h1.5v1.2h-1.5zM337.1,44.4h1.5v1.2h-1.5zM347.2,41.3h1.5v1.2h-1.5zM308.9,39.6h1.5v1.2h-1.5zM339.4,42.9h1.5v1.2h-1.5zM314.0,41.1h1.5v1.2h-1.5zM331.3,41.2h1.5v1.2h-1.5zM316.7,42.7h1.5v1.2h-1.5zM321.9,40.7h1.5v1.2h-1.5zM343.3,43.4h1.5v1.2h-1.5zM315.0,41.1h1.5v1.2h-1.5zM308.9,43.4h1.5v1.2h-1.5zM347.4,41.1h1.5v1.2h-1.5zM320.9,41.2h1.5v1.2h-1.5zM345.3,40.9h1.5v1.2h-1.5zM334.8,44.3h1.5v1.2h-1.5zM342.3,43.9h1.5v1.2h-1.5zM340.6,41.4h1.5v1.2h-1.5zM326.9,41.3h1.5v1.2h-1.5zM323.7,41.9h1.5v1.2h-1.5zM321.3,43.7h1.5v1.2h-1.5zM326.3,42.9h1.5v1.2h-1.5zM345.9,41.5h1.5v1.2h-1.5zM323.5,43.2h1.5v1.2h-1.5zM322.2,44.8h1.5v1.2h-1.5zM320.2,40.8h1.5v1.2h-1.5zM324.4,40.8h1.5v1.2h-1.5zM313.6,43.7h1.5v1.2h-1.5zM339.1,40.7h1.5v1.2h-1.5zM342.0,42.8h1.5v1.2h-1.5zM319.9,41.6h1.5v1.2h-1.5zM345.8,41.6h1.5v1.2h-1.5zM314.2,42.5h1.5v1.2h-1.5zM318.5,43.3h1.5v1.2h-1.5zM318.4,42.2h1.5v1.2h-1.5zM310.9,44.2h1.5v1.2h-1.5zM339.8,44.5h1.5v1.2h-1.5zM333.0,41.2h1.5v1.2h-1.5zM326.8,40.8h1.5v1.2h-1.5zM311.6,41.4h1.5v1.2h-1.5zM340.6,42.8h1.5v1.2h-1.5zM315.4,42.1h1.5v1.2h-1.5zM318.2,40.5h1.5v1.2h-1.5zM328.7,42.3h1.5v1.2h-1.5zM316.5,44.9h1.5v1.2h-1.5zM314.1,41.4h1.5v1.2h-1.5zM312.8,42.1h1.5v1.2h-1.5zM337.4,39.6h1.5v1.2h-1.5zM333.7,42.5h1.5v1.2h-1.5zM325.8,43.6h1.5v1.2h-1.5zM324.5,43.0h1.5v1.2h-1.5zM327.5,39.9h1.5v1.2h-1.5zM309.7,41.3h1.5v1.2h-1.5zM333.7,42.0h1.5v1.2h-1.5zM341.6,43.2h1.5v1.2h-1.5zM316.3,40.6h1.5v1.2h-1.5zM336.7,43.1h1.5v1.2h-1.5z" fill="#2f86e8"/>
<path d="M322.5,74.3h1.5v1.2h-1.5zM326.9,76.6h1.5v1.2h-1.5zM335.5,74.3h1.5v1.2h-1.5zM329.7,76.2h1.5v1.2h-1.5zM331.2,73.9h1.5v1.2h-1.5zM324.4,77.5h1.5v1.2h-1.5zM318.4,75.5h1.5v1.2h-1.5zM309.2,78.5h1.5v1.2h-1.5zM308.6,78.0h1.5v1.2h-1.5zM336.3,75.8h1.5v1.2h-1.5zM313.0,76.9h1.5v1.2h-1.5zM331.6,73.0h1.5v1.2h-1.5zM329.8,75.8h1.5v1.2h-1.5z" fill="#e0560c"/>
<path d="M328.5,75.3h1.5v1.2h-1.5zM331.2,75.4h1.5v1.2h-1.5zM331.0,75.9h1.5v1.2h-1.5zM335.4,75.4h1.5v1.2h-1.5zM327.7,75.2h1.5v1.2h-1.5zM333.9,75.8h1.5v1.2h-1.5zM337.0,74.4h1.5v1.2h-1.5zM316.4,73.9h1.5v1.2h-1.5zM325.3,73.8h1.5v1.2h-1.5zM313.9,76.6h1.5v1.2h-1.5zM312.4,80.4h1.5v1.2h-1.5zM310.7,72.8h1.5v1.2h-1.5zM312.3,73.1h1.5v1.2h-1.5zM309.2,78.1h1.5v1.2h-1.5zM312.3,77.3h1.5v1.2h-1.5zM326.3,74.8h1.5v1.2h-1.5zM321.5,74.6h1.5v1.2h-1.5zM323.6,73.7h1.5v1.2h-1.5zM335.6,75.5h1.5v1.2h-1.5zM331.5,75.4h1.5v1.2h-1.5zM317.1,74.5h1.5v1.2h-1.5zM314.1,78.4h1.5v1.2h-1.5z" fill="#44d62c"/>
<path d="M316.0,73.0h1.5v1.2h-1.5zM332.4,73.5h1.5v1.2h-1.5zM319.5,77.2h1.5v1.2h-1.5zM337.0,76.3h1.5v1.2h-1.5zM331.0,75.5h1.5v1.2h-1.5zM328.8,75.9h1.5v1.2h-1.5zM322.1,72.5h1.5v1.2h-1.5zM321.6,74.7h1.5v1.2h-1.5zM330.8,75.3h1.5v1.2h-1.5zM320.1,76.6h1.5v1.2h-1.5zM326.4,76.6h1.5v1.2h-1.5zM335.5,75.4h1.5v1.2h-1.5zM314.3,74.2h1.5v1.2h-1.5zM336.9,73.5h1.5v1.2h-1.5zM329.4,74.3h1.5v1.2h-1.5zM316.9,74.5h1.5v1.2h-1.5zM318.4,74.3h1.5v1.2h-1.5zM314.5,74.4h1.5v1.2h-1.5zM311.0,76.1h1.5v1.2h-1.5zM324.1,73.9h1.5v1.2h-1.5zM325.4,73.6h1.5v1.2h-1.5zM329.4,76.6h1.5v1.2h-1.5zM331.6,73.8h1.5v1.2h-1.5zM338.5,74.2h1.5v1.2h-1.5zM316.1,75.8h1.5v1.2h-1.5zM330.3,76.0h1.5v1.2h-1.5zM329.7,73.7h1.5v1.2h-1.5zM322.5,72.0h1.5v1.2h-1.5zM314.3,74.8h1.5v1.2h-1.5zM330.3,75.9h1.5v1.2h-1.5zM313.9,73.6h1.5v1.2h-1.5zM334.4,74.4h1.5v1.2h-1.5zM323.2,75.1h1.5v1.2h-1.5zM314.4,76.7h1.5v1.2h-1.5zM338.2,74.2h1.5v1.2h-1.5zM317.8,77.6h1.5v1.2h-1.5zM329.1,75.3h1.5v1.2h-1.5zM338.8,74.5h1.5v1.2h-1.5zM331.1,75.8h1.5v1.2h-1.5zM326.3,75.8h1.5v1.2h-1.5zM318.9,78.2h1.5v1.2h-1.5zM310.6,74.2h1.5v1.2h-1.5zM325.6,76.0h1.5v1.2h-1.5zM321.6,74.0h1.5v1.2h-1.5z" fill="#2f86e8"/>
<path d="M328.2,74.7h1.5v1.2h-1.5zM308.9,76.0h1.5v1.2h-1.5zM339.9,74.6h1.5v1.2h-1.5zM334.9,73.8h1.5v1.2h-1.5zM325.0,74.9h1.5v1.2h-1.5zM318.0,79.2h1.5v1.2h-1.5zM336.2,75.4h1.5v1.2h-1.5zM339.0,75.2h1.5v1.2h-1.5zM328.3,74.5h1.5v1.2h-1.5zM317.5,79.0h1.5v1.2h-1.5zM321.4,75.0h1.5v1.2h-1.5zM317.7,75.5h1.5v1.2h-1.5zM327.9,72.5h1.5v1.2h-1.5zM318.2,77.5h1.5v1.2h-1.5zM314.7,76.6h1.5v1.2h-1.5zM336.8,74.4h1.5v1.2h-1.5zM326.1,72.7h1.5v1.2h-1.5zM316.0,73.1h1.5v1.2h-1.5zM325.8,77.7h1.5v1.2h-1.5zM328.4,74.9h1.5v1.2h-1.5zM328.3,73.2h1.5v1.2h-1.5zM316.4,76.3h1.5v1.2h-1.5zM327.2,74.5h1.5v1.2h-1.5zM317.9,72.5h1.5v1.2h-1.5zM318.2,75.6h1.5v1.2h-1.5zM314.4,79.6h1.5v1.2h-1.5zM330.5,75.8h1.5v1.2h-1.5zM334.8,75.5h1.5v1.2h-1.5zM336.4,75.6h1.5v1.2h-1.5zM315.6,77.2h1.5v1.2h-1.5zM333.9,76.6h1.5v1.2h-1.5zM312.5,73.9h1.5v1.2h-1.5zM319.4,78.3h1.5v1.2h-1.5zM321.7,72.0h1.5v1.2h-1.5zM337.8,74.9h1.5v1.2h-1.5zM332.0,75.8h1.5v1.2h-1.5zM317.6,72.4h1.5v1.2h-1.5zM315.6,77.9h1.5v1.2h-1.5zM334.1,75.5h1.5v1.2h-1.5zM308.9,75.0h1.5v1.2h-1.5zM321.5,77.1h1.5v1.2h-1.5zM323.5,75.3h1.5v1.2h-1.5zM334.5,73.2h1.5v1.2h-1.5zM328.3,75.3h1.5v1.2h-1.5zM321.8,72.3h1.5v1.2h-1.5zM310.2,75.8h1.5v1.2h-1.5zM311.2,78.0h1.5v1.2h-1.5zM327.0,76.1h1.5v1.2h-1.5zM331.1,75.5h1.5v1.2h-1.5zM333.2,75.8h1.5v1.2h-1.5zM333.8,74.3h1.5v1.2h-1.5zM321.7,74.4h1.5v1.2h-1.5zM338.0,75.3h1.5v1.2h-1.5zM336.8,75.2h1.5v1.2h-1.5zM311.7,74.8h1.5v1.2h-1.5zM332.9,74.9h1.5v1.2h-1.5zM311.4,79.4h1.5v1.2h-1.5zM333.7,76.5h1.5v1.2h-1.5zM331.0,75.4h1.5v1.2h-1.5zM332.1,75.3h1.5v1.2h-1.5zM332.3,75.7h1.5v1.2h-1.5zM320.1,73.7h1.5v1.2h-1.5zM311.1,76.5h1.5v1.2h-1.5zM339.2,74.1h1.5v1.2h-1.5zM336.8,74.9h1.5v1.2h-1.5zM311.5,74.9h1.5v1.2h-1.5zM318.4,76.4h1.5v1.2h-1.5zM326.9,74.9h1.5v1.2h-1.5zM323.6,76.0h1.5v1.2h-1.5zM323.7,74.5h1.5v1.2h-1.5zM335.4,75.0h1.5v1.2h-1.5zM318.4,74.1h1.5v1.2h-1.5zM317.7,75.5h1.5v1.2h-1.5zM326.8,74.9h1.5v1.2h-1.5zM322.2,74.8h1.5v1.2h-1.5zM315.1,70.4h1.5v1.2h-1.5zM325.7,73.3h1.5v1.2h-1.5zM337.2,74.7h1.5v1.2h-1.5zM325.4,76.2h1.5v1.2h-1.5zM329.2,76.9h1.5v1.2h-1.5zM327.3,73.3h1.5v1.2h-1.5zM318.3,74.0h1.5v1.2h-1.5zM331.8,73.3h1.5v1.2h-1.5zM316.9,71.8h1.5v1.2h-1.5zM324.4,76.9h1.5v1.2h-1.5zM332.7,74.5h1.5v1.2h-1.5zM319.6,75.5h1.5v1.2h-1.5zM311.6,74.0h1.5v1.2h-1.5zM333.1,74.9h1.5v1.2h-1.5z" fill="#f26a1b"/>
<path d="M363.2,58.9h1.5v1.2h-1.5zM346.1,58.6h1.5v1.2h-1.5zM378.2,60.6h1.5v1.2h-1.5zM352.6,58.3h1.5v1.2h-1.5zM370.5,59.0h1.5v1.2h-1.5zM403.0,57.9h1.5v1.2h-1.5z" fill="#f26a1b"/>
<path d="M356.2,59.5h1.5v1.2h-1.5zM422.4,58.4h1.5v1.2h-1.5zM381.1,60.0h1.5v1.2h-1.5zM397.3,60.4h1.5v1.2h-1.5zM393.0,62.2h1.5v1.2h-1.5zM368.2,55.5h1.5v1.2h-1.5zM403.9,57.3h1.5v1.2h-1.5zM348.8,58.3h1.5v1.2h-1.5zM354.1,58.4h1.5v1.2h-1.5zM400.4,56.8h1.5v1.2h-1.5zM342.2,58.5h1.5v1.2h-1.5zM360.1,63.1h1.5v1.2h-1.5zM406.8,62.9h1.5v1.2h-1.5zM391.3,58.6h1.5v1.2h-1.5zM409.9,56.9h1.5v1.2h-1.5zM412.9,55.8h1.5v1.2h-1.5zM399.6,58.5h1.5v1.2h-1.5zM366.7,60.4h1.5v1.2h-1.5zM414.7,60.4h1.5v1.2h-1.5z" fill="#2f86e8"/>
<path d="M362.0,60.3h1.5v1.2h-1.5zM346.5,59.4h1.5v1.2h-1.5zM424.4,59.1h1.5v1.2h-1.5zM389.6,55.6h1.5v1.2h-1.5zM386.7,60.1h1.5v1.2h-1.5zM390.6,61.4h1.5v1.2h-1.5zM387.0,56.8h1.5v1.2h-1.5zM395.3,57.5h1.5v1.2h-1.5zM414.8,58.8h1.5v1.2h-1.5zM383.6,57.3h1.5v1.2h-1.5zM431.7,58.7h1.5v1.2h-1.5zM398.3,60.6h1.5v1.2h-1.5zM423.2,57.4h1.5v1.2h-1.5zM362.2,62.5h1.5v1.2h-1.5zM407.7,58.7h1.5v1.2h-1.5zM367.3,57.3h1.5v1.2h-1.5zM370.8,60.3h1.5v1.2h-1.5zM344.5,59.7h1.5v1.2h-1.5zM367.0,62.4h1.5v1.2h-1.5zM430.3,57.8h1.5v1.2h-1.5zM345.5,58.8h1.5v1.2h-1.5zM351.6,55.9h1.5v1.2h-1.5zM362.6,57.9h1.5v1.2h-1.5zM416.5,58.0h1.5v1.2h-1.5zM362.6,58.3h1.5v1.2h-1.5zM361.6,59.2h1.5v1.2h-1.5zM427.9,57.7h1.5v1.2h-1.5zM429.3,60.0h1.5v1.2h-1.5zM422.7,57.9h1.5v1.2h-1.5zM429.1,58.2h1.5v1.2h-1.5zM408.8,59.8h1.5v1.2h-1.5zM424.8,58.0h1.5v1.2h-1.5zM420.9,59.1h1.5v1.2h-1.5zM383.6,57.9h1.5v1.2h-1.5zM419.6,57.8h1.5v1.2h-1.5zM341.4,59.8h1.5v1.2h-1.5zM390.2,55.7h1.5v1.2h-1.5zM428.9,59.1h1.5v1.2h-1.5zM411.5,62.6h1.5v1.2h-1.5zM356.6,57.4h1.5v1.2h-1.5zM405.5,60.8h1.5v1.2h-1.5zM384.8,57.7h1.5v1.2h-1.5zM380.9,56.0h1.5v1.2h-1.5zM411.0,57.1h1.5v1.2h-1.5zM348.0,60.4h1.5v1.2h-1.5zM414.5,60.4h1.5v1.2h-1.5zM393.2,63.1h1.5v1.2h-1.5zM370.3,58.2h1.5v1.2h-1.5zM413.8,60.3h1.5v1.2h-1.5zM368.8,55.8h1.5v1.2h-1.5zM377.1,54.6h1.5v1.2h-1.5zM415.3,58.0h1.5v1.2h-1.5zM397.5,57.3h1.5v1.2h-1.5zM395.7,57.5h1.5v1.2h-1.5zM402.7,55.4h1.5v1.2h-1.5zM388.4,57.1h1.5v1.2h-1.5zM349.3,59.9h1.5v1.2h-1.5zM346.7,61.1h1.5v1.2h-1.5zM419.3,60.2h1.5v1.2h-1.5zM350.3,56.1h1.5v1.2h-1.5zM395.4,61.7h1.5v1.2h-1.5zM368.6,61.3h1.5v1.2h-1.5zM395.2,58.3h1.5v1.2h-1.5zM387.1,63.0h1.5v1.2h-1.5zM417.7,57.2h1.5v1.2h-1.5zM407.5,57.0h1.5v1.2h-1.5zM367.7,56.2h1.5v1.2h-1.5zM425.7,58.5h1.5v1.2h-1.5zM363.9,57.8h1.5v1.2h-1.5zM355.6,57.6h1.5v1.2h-1.5zM386.1,57.3h1.5v1.2h-1.5zM371.6,54.4h1.5v1.2h-1.5zM357.0,58.5h1.5v1.2h-1.5zM396.0,55.2h1.5v1.2h-1.5zM427.5,57.3h1.5v1.2h-1.5zM401.6,58.9h1.5v1.2h-1.5zM343.9,59.0h1.5v1.2h-1.5zM393.0,59.7h1.5v1.2h-1.5zM426.9,59.4h1.5v1.2h-1.5zM372.3,60.2h1.5v1.2h-1.5zM407.4,60.8h1.5v1.2h-1.5zM373.0,60.3h1.5v1.2h-1.5zM378.7,59.2h1.5v1.2h-1.5zM406.8,57.1h1.5v1.2h-1.5zM380.4,58.7h1.5v1.2h-1.5zM357.2,57.5h1.5v1.2h-1.5zM380.3,57.3h1.5v1.2h-1.5zM390.3,63.3h1.5v1.2h-1.5zM390.2,56.1h1.5v1.2h-1.5zM383.6,62.1h1.5v1.2h-1.5zM421.3,56.2h1.5v1.2h-1.5zM345.2,59.8h1.5v1.2h-1.5zM395.8,57.1h1.5v1.2h-1.5zM347.0,57.8h1.5v1.2h-1.5zM424.0,58.6h1.5v1.2h-1.5zM417.8,61.8h1.5v1.2h-1.5zM431.8,58.4h1.5v1.2h-1.5zM387.8,58.3h1.5v1.2h-1.5zM403.6,60.6h1.5v1.2h-1.5zM390.3,58.0h1.5v1.2h-1.5zM389.5,61.6h1.5v1.2h-1.5zM381.8,57.6h1.5v1.2h-1.5zM367.9,60.3h1.5v1.2h-1.5zM359.6,56.9h1.5v1.2h-1.5zM401.2,58.5h1.5v1.2h-1.5zM356.6,56.9h1.5v1.2h-1.5zM376.5,60.3h1.5v1.2h-1.5zM380.8,58.1h1.5v1.2h-1.5zM412.8,57.3h1.5v1.2h-1.5zM345.5,61.8h1.5v1.2h-1.5zM340.5,59.5h1.5v1.2h-1.5zM376.4,60.6h1.5v1.2h-1.5zM342.9,59.1h1.5v1.2h-1.5zM421.3,59.1h1.5v1.2h-1.5zM366.5,57.1h1.5v1.2h-1.5zM362.2,56.5h1.5v1.2h-1.5zM384.3,60.0h1.5v1.2h-1.5zM408.3,58.2h1.5v1.2h-1.5zM422.8,58.2h1.5v1.2h-1.5zM397.3,56.0h1.5v1.2h-1.5zM420.0,58.6h1.5v1.2h-1.5zM344.6,59.5h1.5v1.2h-1.5zM393.0,58.2h1.5v1.2h-1.5zM398.8,59.0h1.5v1.2h-1.5zM396.6,62.6h1.5v1.2h-1.5zM340.9,59.2h1.5v1.2h-1.5zM424.2,57.7h1.5v1.2h-1.5zM398.6,59.7h1.5v1.2h-1.5zM419.3,59.3h1.5v1.2h-1.5zM405.5,60.0h1.5v1.2h-1.5zM406.8,59.9h1.5v1.2h-1.5zM350.3,59.0h1.5v1.2h-1.5zM418.7,57.3h1.5v1.2h-1.5zM399.0,60.6h1.5v1.2h-1.5zM389.9,60.2h1.5v1.2h-1.5zM382.6,59.3h1.5v1.2h-1.5zM393.7,57.9h1.5v1.2h-1.5zM355.3,55.2h1.5v1.2h-1.5zM405.3,58.6h1.5v1.2h-1.5zM371.0,58.0h1.5v1.2h-1.5zM352.2,56.7h1.5v1.2h-1.5zM373.9,54.8h1.5v1.2h-1.5zM364.3,54.9h1.5v1.2h-1.5zM354.9,57.4h1.5v1.2h-1.5zM356.8,58.2h1.5v1.2h-1.5zM401.7,59.2h1.5v1.2h-1.5zM365.3,55.6h1.5v1.2h-1.5zM402.0,59.7h1.5v1.2h-1.5zM421.9,59.4h1.5v1.2h-1.5zM385.6,62.7h1.5v1.2h-1.5zM411.5,58.5h1.5v1.2h-1.5zM407.3,57.6h1.5v1.2h-1.5zM376.0,60.4h1.5v1.2h-1.5zM425.3,58.2h1.5v1.2h-1.5zM416.1,57.9h1.5v1.2h-1.5zM340.7,60.8h1.5v1.2h-1.5zM386.1,63.4h1.5v1.2h-1.5zM352.9,57.9h1.5v1.2h-1.5zM425.3,60.7h1.5v1.2h-1.5zM342.5,57.9h1.5v1.2h-1.5z" fill="#44d62c"/>
<path d="M416.3,59.2h1.5v1.2h-1.5zM413.7,59.0h1.5v1.2h-1.5zM407.4,60.2h1.5v1.2h-1.5zM421.0,60.3h1.5v1.2h-1.5zM383.8,63.4h1.5v1.2h-1.5zM423.6,56.5h1.5v1.2h-1.5zM344.7,57.6h1.5v1.2h-1.5zM373.0,58.3h1.5v1.2h-1.5zM346.1,58.7h1.5v1.2h-1.5zM356.7,57.8h1.5v1.2h-1.5zM428.8,58.3h1.5v1.2h-1.5zM378.0,61.7h1.5v1.2h-1.5zM402.4,58.7h1.5v1.2h-1.5zM430.8,58.1h1.5v1.2h-1.5zM363.2,58.7h1.5v1.2h-1.5zM425.4,57.9h1.5v1.2h-1.5zM431.1,56.9h1.5v1.2h-1.5zM412.8,61.1h1.5v1.2h-1.5zM385.7,59.8h1.5v1.2h-1.5zM422.8,58.9h1.5v1.2h-1.5zM371.2,56.4h1.5v1.2h-1.5zM415.0,56.5h1.5v1.2h-1.5zM400.4,57.8h1.5v1.2h-1.5zM398.6,57.8h1.5v1.2h-1.5zM420.6,60.7h1.5v1.2h-1.5zM420.8,60.4h1.5v1.2h-1.5zM422.0,60.7h1.5v1.2h-1.5zM394.8,58.2h1.5v1.2h-1.5zM410.7,57.9h1.5v1.2h-1.5zM412.5,58.0h1.5v1.2h-1.5zM350.9,56.2h1.5v1.2h-1.5zM380.2,55.7h1.5v1.2h-1.5zM368.1,60.6h1.5v1.2h-1.5zM379.1,58.8h1.5v1.2h-1.5zM385.7,57.2h1.5v1.2h-1.5zM369.0,56.1h1.5v1.2h-1.5zM362.9,59.7h1.5v1.2h-1.5zM430.7,57.7h1.5v1.2h-1.5zM402.4,57.3h1.5v1.2h-1.5zM383.2,57.3h1.5v1.2h-1.5zM368.4,61.5h1.5v1.2h-1.5zM356.9,59.6h1.5v1.2h-1.5zM427.3,58.6h1.5v1.2h-1.5zM393.9,55.2h1.5v1.2h-1.5zM351.1,57.4h1.5v1.2h-1.5zM402.2,58.2h1.5v1.2h-1.5zM377.6,55.1h1.5v1.2h-1.5zM370.3,54.4h1.5v1.2h-1.5zM357.3,60.6h1.5v1.2h-1.5zM346.6,61.9h1.5v1.2h-1.5zM422.1,59.5h1.5v1.2h-1.5zM355.4,60.1h1.5v1.2h-1.5zM366.9,61.5h1.5v1.2h-1.5zM420.8,58.0h1.5v1.2h-1.5zM406.7,56.6h1.5v1.2h-1.5zM386.4,61.1h1.5v1.2h-1.5zM420.5,58.3h1.5v1.2h-1.5zM375.8,57.9h1.5v1.2h-1.5zM354.4,60.6h1.5v1.2h-1.5zM361.7,62.3h1.5v1.2h-1.5zM384.1,58.1h1.5v1.2h-1.5zM431.6,57.8h1.5v1.2h-1.5zM424.7,59.6h1.5v1.2h-1.5zM416.7,57.9h1.5v1.2h-1.5zM399.6,56.1h1.5v1.2h-1.5zM419.0,58.9h1.5v1.2h-1.5zM416.8,57.3h1.5v1.2h-1.5zM422.2,60.1h1.5v1.2h-1.5zM395.8,56.8h1.5v1.2h-1.5zM430.8,58.1h1.5v1.2h-1.5zM386.0,59.1h1.5v1.2h-1.5zM412.0,59.8h1.5v1.2h-1.5zM404.2,63.0h1.5v1.2h-1.5zM384.2,59.8h1.5v1.2h-1.5zM408.9,60.0h1.5v1.2h-1.5zM409.4,59.6h1.5v1.2h-1.5zM412.6,57.5h1.5v1.2h-1.5zM380.5,58.5h1.5v1.2h-1.5zM409.6,56.8h1.5v1.2h-1.5zM369.8,60.4h1.5v1.2h-1.5zM366.7,58.3h1.5v1.2h-1.5zM359.8,61.5h1.5v1.2h-1.5zM362.8,60.4h1.5v1.2h-1.5zM350.9,59.9h1.5v1.2h-1.5zM400.9,58.1h1.5v1.2h-1.5zM347.4,59.0h1.5v1.2h-1.5zM342.9,57.7h1.5v1.2h-1.5zM423.1,56.3h1.5v1.2h-1.5zM353.1,57.7h1.5v1.2h-1.5zM390.4,56.8h1.5v1.2h-1.5zM417.2,58.0h1.5v1.2h-1.5zM397.6,57.5h1.5v1.2h-1.5zM357.9,58.2h1.5v1.2h-1.5zM368.5,57.4h1.5v1.2h-1.5zM376.4,59.9h1.5v1.2h-1.5zM352.9,61.9h1.5v1.2h-1.5zM367.5,54.4h1.5v1.2h-1.5zM429.5,57.7h1.5v1.2h-1.5zM357.0,56.7h1.5v1.2h-1.5zM372.1,61.8h1.5v1.2h-1.5zM371.1,57.1h1.5v1.2h-1.5zM405.5,56.0h1.5v1.2h-1.5zM426.6,56.6h1.5v1.2h-1.5zM384.0,57.9h1.5v1.2h-1.5zM359.6,56.9h1.5v1.2h-1.5zM428.3,58.5h1.5v1.2h-1.5zM366.8,58.2h1.5v1.2h-1.5zM418.6,58.4h1.5v1.2h-1.5zM424.5,57.8h1.5v1.2h-1.5zM348.9,57.1h1.5v1.2h-1.5zM387.2,56.4h1.5v1.2h-1.5zM350.0,59.1h1.5v1.2h-1.5zM370.1,57.5h1.5v1.2h-1.5zM351.3,59.7h1.5v1.2h-1.5zM346.9,59.3h1.5v1.2h-1.5zM368.3,56.2h1.5v1.2h-1.5zM397.6,59.6h1.5v1.2h-1.5zM390.2,60.8h1.5v1.2h-1.5zM392.6,60.5h1.5v1.2h-1.5zM419.4,58.8h1.5v1.2h-1.5zM431.5,58.4h1.5v1.2h-1.5zM340.7,58.3h1.5v1.2h-1.5zM407.9,58.5h1.5v1.2h-1.5zM429.6,57.9h1.5v1.2h-1.5zM380.0,57.4h1.5v1.2h-1.5zM352.0,56.1h1.5v1.2h-1.5zM401.7,60.1h1.5v1.2h-1.5zM349.9,57.4h1.5v1.2h-1.5zM421.1,61.6h1.5v1.2h-1.5zM380.3,57.9h1.5v1.2h-1.5zM420.8,57.0h1.5v1.2h-1.5zM343.7,60.0h1.5v1.2h-1.5zM378.7,57.1h1.5v1.2h-1.5zM351.8,58.5h1.5v1.2h-1.5zM410.3,58.2h1.5v1.2h-1.5zM364.7,59.7h1.5v1.2h-1.5zM392.1,56.0h1.5v1.2h-1.5zM425.4,58.3h1.5v1.2h-1.5zM409.6,57.1h1.5v1.2h-1.5zM415.2,56.4h1.5v1.2h-1.5zM380.8,59.2h1.5v1.2h-1.5zM341.7,60.9h1.5v1.2h-1.5zM372.4,56.0h1.5v1.2h-1.5zM363.1,57.0h1.5v1.2h-1.5zM375.9,63.0h1.5v1.2h-1.5zM420.2,59.8h1.5v1.2h-1.5zM415.4,56.6h1.5v1.2h-1.5zM419.5,59.2h1.5v1.2h-1.5zM341.1,57.2h1.5v1.2h-1.5zM428.5,60.1h1.5v1.2h-1.5zM376.2,55.7h1.5v1.2h-1.5zM357.8,57.7h1.5v1.2h-1.5zM388.9,57.7h1.5v1.2h-1.5zM357.6,62.5h1.5v1.2h-1.5zM377.0,63.6h1.5v1.2h-1.5zM429.7,59.0h1.5v1.2h-1.5zM359.7,58.0h1.5v1.2h-1.5zM370.5,58.0h1.5v1.2h-1.5zM403.6,58.5h1.5v1.2h-1.5zM400.6,58.3h1.5v1.2h-1.5zM386.5,54.9h1.5v1.2h-1.5zM428.7,59.3h1.5v1.2h-1.5zM395.5,59.5h1.5v1.2h-1.5zM397.8,57.6h1.5v1.2h-1.5zM374.6,57.3h1.5v1.2h-1.5zM383.6,62.7h1.5v1.2h-1.5zM373.6,58.6h1.5v1.2h-1.5zM354.0,57.6h1.5v1.2h-1.5zM387.5,58.4h1.5v1.2h-1.5zM414.0,59.0h1.5v1.2h-1.5zM415.5,56.8h1.5v1.2h-1.5zM398.5,58.2h1.5v1.2h-1.5zM345.9,59.4h1.5v1.2h-1.5zM379.6,58.2h1.5v1.2h-1.5zM349.5,59.2h1.5v1.2h-1.5z" fill="#8ae66a"/>
<path d="M363.2,72.5h1.5v1.2h-1.5zM417.7,74.1h1.5v1.2h-1.5zM462.7,75.9h1.5v1.2h-1.5zM444.7,75.6h1.5v1.2h-1.5zM391.4,76.0h1.5v1.2h-1.5zM419.4,73.7h1.5v1.2h-1.5zM436.3,77.5h1.5v1.2h-1.5zM433.6,74.4h1.5v1.2h-1.5zM410.5,76.0h1.5v1.2h-1.5zM391.2,74.8h1.5v1.2h-1.5zM412.1,73.7h1.5v1.2h-1.5zM455.9,78.1h1.5v1.2h-1.5zM367.2,75.7h1.5v1.2h-1.5zM465.1,75.8h1.5v1.2h-1.5z" fill="#44d62c"/>
<path d="M455.6,74.3h1.5v1.2h-1.5zM360.5,74.5h1.5v1.2h-1.5zM459.4,76.3h1.5v1.2h-1.5zM411.3,75.7h1.5v1.2h-1.5zM380.8,77.1h1.5v1.2h-1.5zM462.4,76.5h1.5v1.2h-1.5zM400.3,74.1h1.5v1.2h-1.5zM464.0,75.3h1.5v1.2h-1.5zM373.2,74.0h1.5v1.2h-1.5zM388.7,78.4h1.5v1.2h-1.5zM441.4,73.7h1.5v1.2h-1.5zM409.7,76.6h1.5v1.2h-1.5zM401.3,73.8h1.5v1.2h-1.5zM411.2,73.3h1.5v1.2h-1.5zM426.6,76.0h1.5v1.2h-1.5zM406.3,72.1h1.5v1.2h-1.5zM424.3,72.1h1.5v1.2h-1.5zM426.9,72.7h1.5v1.2h-1.5zM385.3,74.1h1.5v1.2h-1.5zM376.7,76.0h1.5v1.2h-1.5zM387.3,74.9h1.5v1.2h-1.5zM403.0,77.0h1.5v1.2h-1.5zM415.6,75.8h1.5v1.2h-1.5zM403.1,74.4h1.5v1.2h-1.5zM372.5,76.1h1.5v1.2h-1.5zM369.5,75.5h1.5v1.2h-1.5zM435.0,76.4h1.5v1.2h-1.5zM374.0,74.9h1.5v1.2h-1.5zM406.0,74.4h1.5v1.2h-1.5z" fill="#2f86e8"/>
<path d="M440.2,75.2h1.5v1.2h-1.5zM381.1,75.4h1.5v1.2h-1.5zM416.2,74.5h1.5v1.2h-1.5zM438.3,77.8h1.5v1.2h-1.5zM464.4,74.2h1.5v1.2h-1.5zM398.7,75.8h1.5v1.2h-1.5zM431.1,72.6h1.5v1.2h-1.5zM442.4,74.0h1.5v1.2h-1.5zM386.9,74.3h1.5v1.2h-1.5zM429.3,73.6h1.5v1.2h-1.5zM434.0,72.2h1.5v1.2h-1.5zM426.8,75.5h1.5v1.2h-1.5zM407.3,74.4h1.5v1.2h-1.5zM455.0,74.8h1.5v1.2h-1.5zM434.3,74.0h1.5v1.2h-1.5zM446.9,76.4h1.5v1.2h-1.5zM366.1,75.3h1.5v1.2h-1.5zM388.3,74.0h1.5v1.2h-1.5zM453.8,73.9h1.5v1.2h-1.5zM363.3,75.2h1.5v1.2h-1.5zM365.9,77.6h1.5v1.2h-1.5zM366.7,77.1h1.5v1.2h-1.5zM441.3,73.7h1.5v1.2h-1.5zM437.9,74.7h1.5v1.2h-1.5zM460.4,77.0h1.5v1.2h-1.5z" fill="#8ae66a"/>
<path d="M426.7,74.9h1.5v1.2h-1.5zM439.2,72.6h1.5v1.2h-1.5zM426.1,75.1h1.5v1.2h-1.5zM465.1,75.4h1.5v1.2h-1.5zM382.0,77.8h1.5v1.2h-1.5zM361.1,76.1h1.5v1.2h-1.5zM371.7,75.0h1.5v1.2h-1.5zM364.1,72.7h1.5v1.2h-1.5zM369.9,74.0h1.5v1.2h-1.5zM396.5,77.4h1.5v1.2h-1.5zM403.5,75.2h1.5v1.2h-1.5zM466.9,74.7h1.5v1.2h-1.5zM403.3,76.3h1.5v1.2h-1.5zM443.7,75.8h1.5v1.2h-1.5zM397.3,73.6h1.5v1.2h-1.5zM397.5,73.2h1.5v1.2h-1.5zM453.1,73.7h1.5v1.2h-1.5zM418.4,74.0h1.5v1.2h-1.5zM427.4,74.2h1.5v1.2h-1.5zM443.6,74.0h1.5v1.2h-1.5zM361.6,74.0h1.5v1.2h-1.5zM408.8,74.8h1.5v1.2h-1.5zM435.8,73.9h1.5v1.2h-1.5zM451.1,75.6h1.5v1.2h-1.5zM367.2,76.4h1.5v1.2h-1.5zM362.9,74.4h1.5v1.2h-1.5zM450.1,75.6h1.5v1.2h-1.5zM376.3,73.9h1.5v1.2h-1.5zM363.6,76.5h1.5v1.2h-1.5zM431.9,74.2h1.5v1.2h-1.5zM404.0,77.6h1.5v1.2h-1.5zM392.8,75.5h1.5v1.2h-1.5zM437.6,74.4h1.5v1.2h-1.5zM430.2,74.3h1.5v1.2h-1.5zM395.4,77.7h1.5v1.2h-1.5zM442.1,77.4h1.5v1.2h-1.5zM447.1,74.6h1.5v1.2h-1.5z" fill="#f26a1b"/>
<path d="M410.2,75.1h1.5v1.2h-1.5zM392.3,76.0h1.5v1.2h-1.5zM447.6,73.9h1.5v1.2h-1.5zM399.3,74.8h1.5v1.2h-1.5zM465.5,75.0h1.5v1.2h-1.5zM408.8,78.0h1.5v1.2h-1.5zM366.1,75.4h1.5v1.2h-1.5zM371.5,74.4h1.5v1.2h-1.5zM376.1,75.9h1.5v1.2h-1.5zM399.0,74.7h1.5v1.2h-1.5zM391.5,77.8h1.5v1.2h-1.5zM361.4,74.4h1.5v1.2h-1.5zM415.5,72.0h1.5v1.2h-1.5zM377.9,77.3h1.5v1.2h-1.5zM438.2,76.7h1.5v1.2h-1.5zM431.2,78.3h1.5v1.2h-1.5zM425.5,75.5h1.5v1.2h-1.5zM385.6,75.1h1.5v1.2h-1.5zM389.9,75.0h1.5v1.2h-1.5zM447.6,77.3h1.5v1.2h-1.5zM423.8,73.9h1.5v1.2h-1.5zM464.9,74.6h1.5v1.2h-1.5zM404.5,73.2h1.5v1.2h-1.5zM390.7,79.1h1.5v1.2h-1.5zM425.1,79.4h1.5v1.2h-1.5zM417.1,74.4h1.5v1.2h-1.5zM405.8,74.9h1.5v1.2h-1.5zM376.5,74.5h1.5v1.2h-1.5zM448.9,73.6h1.5v1.2h-1.5zM451.1,73.1h1.5v1.2h-1.5zM423.4,72.9h1.5v1.2h-1.5zM381.8,78.9h1.5v1.2h-1.5zM410.4,77.4h1.5v1.2h-1.5zM385.3,76.2h1.5v1.2h-1.5zM370.2,78.6h1.5v1.2h-1.5zM387.4,75.6h1.5v1.2h-1.5zM379.3,75.2h1.5v1.2h-1.5zM371.7,74.9h1.5v1.2h-1.5zM362.0,73.6h1.5v1.2h-1.5zM386.3,76.8h1.5v1.2h-1.5zM405.1,74.0h1.5v1.2h-1.5zM416.8,76.7h1.5v1.2h-1.5zM372.8,73.8h1.5v1.2h-1.5zM406.5,79.4h1.5v1.2h-1.5zM363.7,75.3h1.5v1.2h-1.5z" fill="#7ab4ee"/>
<path d="M456.4,76.0h1.5v1.2h-1.5zM361.6,77.2h1.5v1.2h-1.5zM390.0,78.0h1.5v1.2h-1.5zM445.3,73.9h1.5v1.2h-1.5zM382.5,75.1h1.5v1.2h-1.5zM398.7,75.6h1.5v1.2h-1.5zM393.9,72.8h1.5v1.2h-1.5zM464.3,75.2h1.5v1.2h-1.5zM418.4,74.5h1.5v1.2h-1.5zM368.5,76.5h1.5v1.2h-1.5zM433.8,76.3h1.5v1.2h-1.5zM449.7,74.8h1.5v1.2h-1.5zM413.5,74.7h1.5v1.2h-1.5zM363.1,73.2h1.5v1.2h-1.5zM427.5,74.2h1.5v1.2h-1.5zM410.5,75.1h1.5v1.2h-1.5zM394.0,75.7h1.5v1.2h-1.5zM372.4,75.9h1.5v1.2h-1.5zM425.7,73.8h1.5v1.2h-1.5zM447.0,74.2h1.5v1.2h-1.5zM455.6,74.7h1.5v1.2h-1.5zM371.7,73.3h1.5v1.2h-1.5zM462.8,76.2h1.5v1.2h-1.5zM443.7,74.8h1.5v1.2h-1.5zM429.0,73.2h1.5v1.2h-1.5zM439.7,74.7h1.5v1.2h-1.5zM457.4,75.6h1.5v1.2h-1.5zM435.0,72.3h1.5v1.2h-1.5zM436.2,78.0h1.5v1.2h-1.5zM404.4,74.6h1.5v1.2h-1.5zM367.8,75.2h1.5v1.2h-1.5zM421.6,74.9h1.5v1.2h-1.5zM415.4,74.6h1.5v1.2h-1.5zM385.2,73.5h1.5v1.2h-1.5zM369.3,74.7h1.5v1.2h-1.5zM423.6,74.5h1.5v1.2h-1.5zM384.0,78.9h1.5v1.2h-1.5zM464.0,74.3h1.5v1.2h-1.5zM401.3,77.6h1.5v1.2h-1.5zM370.5,74.1h1.5v1.2h-1.5zM441.4,76.1h1.5v1.2h-1.5zM409.9,73.7h1.5v1.2h-1.5zM454.2,76.6h1.5v1.2h-1.5zM438.0,75.7h1.5v1.2h-1.5zM384.8,76.1h1.5v1.2h-1.5zM410.1,74.8h1.5v1.2h-1.5zM438.4,74.8h1.5v1.2h-1.5zM429.1,72.2h1.5v1.2h-1.5zM460.1,76.4h1.5v1.2h-1.5zM386.2,76.9h1.5v1.2h-1.5zM458.5,73.2h1.5v1.2h-1.5zM393.0,72.5h1.5v1.2h-1.5zM374.0,72.6h1.5v1.2h-1.5zM386.4,76.1h1.5v1.2h-1.5zM400.1,75.4h1.5v1.2h-1.5zM401.0,73.9h1.5v1.2h-1.5zM390.6,76.4h1.5v1.2h-1.5zM441.7,74.7h1.5v1.2h-1.5zM452.0,77.6h1.5v1.2h-1.5zM437.8,75.2h1.5v1.2h-1.5zM423.8,74.3h1.5v1.2h-1.5zM411.6,76.6h1.5v1.2h-1.5zM389.7,74.1h1.5v1.2h-1.5zM420.2,73.5h1.5v1.2h-1.5zM397.7,77.7h1.5v1.2h-1.5zM403.0,72.6h1.5v1.2h-1.5z" fill="#f8a070"/>
<path d="M342.7,92.5h1.5v1.2h-1.5zM343.9,90.7h1.5v1.2h-1.5zM347.9,92.5h1.5v1.2h-1.5z" fill="#2f86e8"/>
<path d="M344.3,92.7h1.5v1.2h-1.5zM346.6,91.7h1.5v1.2h-1.5zM359.1,92.9h1.5v1.2h-1.5zM348.9,91.0h1.5v1.2h-1.5zM347.9,89.7h1.5v1.2h-1.5zM349.1,91.8h1.5v1.2h-1.5z" fill="#f26a1b"/>
<path d="M340.3,90.5h1.5v1.2h-1.5zM349.3,91.6h1.5v1.2h-1.5zM345.5,90.5h1.5v1.2h-1.5zM354.3,90.4h1.5v1.2h-1.5zM355.7,91.3h1.5v1.2h-1.5zM344.1,93.8h1.5v1.2h-1.5zM352.6,90.5h1.5v1.2h-1.5zM342.5,92.7h1.5v1.2h-1.5zM348.8,90.5h1.5v1.2h-1.5zM355.5,90.3h1.5v1.2h-1.5zM354.6,91.4h1.5v1.2h-1.5zM348.9,91.8h1.5v1.2h-1.5zM342.4,91.6h1.5v1.2h-1.5zM352.0,89.9h1.5v1.2h-1.5zM352.3,92.0h1.5v1.2h-1.5zM352.3,91.3h1.5v1.2h-1.5zM353.6,90.3h1.5v1.2h-1.5zM345.6,91.4h1.5v1.2h-1.5zM358.0,92.0h1.5v1.2h-1.5zM359.3,92.6h1.5v1.2h-1.5zM350.8,90.6h1.5v1.2h-1.5zM341.0,91.5h1.5v1.2h-1.5z" fill="#8ae66a"/>
<path d="M355.5,92.1h1.5v1.2h-1.5zM344.0,92.2h1.5v1.2h-1.5zM356.5,93.7h1.5v1.2h-1.5zM342.0,92.1h1.5v1.2h-1.5zM342.1,89.8h1.5v1.2h-1.5zM352.4,90.8h1.5v1.2h-1.5zM347.2,93.8h1.5v1.2h-1.5zM355.7,91.8h1.5v1.2h-1.5zM351.8,91.5h1.5v1.2h-1.5zM351.6,93.6h1.5v1.2h-1.5zM346.2,91.9h1.5v1.2h-1.5zM353.7,93.6h1.5v1.2h-1.5zM352.2,91.1h1.5v1.2h-1.5zM341.3,90.0h1.5v1.2h-1.5zM359.1,92.5h1.5v1.2h-1.5zM348.1,91.4h1.5v1.2h-1.5zM343.6,92.8h1.5v1.2h-1.5zM342.6,90.7h1.5v1.2h-1.5zM345.1,89.7h1.5v1.2h-1.5zM345.4,92.7h1.5v1.2h-1.5zM349.4,92.2h1.5v1.2h-1.5zM355.7,92.4h1.5v1.2h-1.5zM352.9,93.9h1.5v1.2h-1.5zM351.8,91.1h1.5v1.2h-1.5zM345.8,91.7h1.5v1.2h-1.5zM347.2,93.6h1.5v1.2h-1.5zM349.7,92.5h1.5v1.2h-1.5zM342.2,91.1h1.5v1.2h-1.5zM351.9,92.0h1.5v1.2h-1.5zM341.9,91.0h1.5v1.2h-1.5zM357.7,93.7h1.5v1.2h-1.5zM342.9,93.7h1.5v1.2h-1.5zM355.2,90.7h1.5v1.2h-1.5zM359.0,91.1h1.5v1.2h-1.5zM358.3,93.6h1.5v1.2h-1.5zM358.8,92.7h1.5v1.2h-1.5zM352.5,91.6h1.5v1.2h-1.5zM340.9,92.0h1.5v1.2h-1.5zM358.5,91.2h1.5v1.2h-1.5zM354.3,90.6h1.5v1.2h-1.5zM350.8,90.3h1.5v1.2h-1.5zM341.7,91.8h1.5v1.2h-1.5zM340.8,90.9h1.5v1.2h-1.5zM343.1,91.4h1.5v1.2h-1.5zM347.7,91.6h1.5v1.2h-1.5zM357.7,92.4h1.5v1.2h-1.5zM343.4,91.2h1.5v1.2h-1.5zM355.3,92.3h1.5v1.2h-1.5zM343.9,91.0h1.5v1.2h-1.5zM355.7,90.0h1.5v1.2h-1.5zM353.0,92.2h1.5v1.2h-1.5zM347.6,91.4h1.5v1.2h-1.5zM342.2,91.0h1.5v1.2h-1.5z" fill="#44d62c"/>
<path d="M420.1,92.3h1.5v1.2h-1.5zM398.5,95.1h1.5v1.2h-1.5zM383.5,91.8h1.5v1.2h-1.5zM422.5,89.7h1.5v1.2h-1.5zM404.2,90.3h1.5v1.2h-1.5zM415.8,91.3h1.5v1.2h-1.5zM411.7,92.3h1.5v1.2h-1.5zM418.1,91.2h1.5v1.2h-1.5zM375.3,91.1h1.5v1.2h-1.5zM383.2,91.5h1.5v1.2h-1.5zM388.2,89.5h1.5v1.2h-1.5zM421.2,90.9h1.5v1.2h-1.5zM367.9,89.3h1.5v1.2h-1.5zM373.9,91.3h1.5v1.2h-1.5zM405.3,93.0h1.5v1.2h-1.5zM404.7,89.9h1.5v1.2h-1.5zM368.9,90.3h1.5v1.2h-1.5zM408.4,93.5h1.5v1.2h-1.5z" fill="#2f86e8"/>
<path d="M404.5,90.0h1.5v1.2h-1.5zM418.7,91.5h1.5v1.2h-1.5zM428.8,90.8h1.5v1.2h-1.5zM428.7,90.8h1.5v1.2h-1.5zM401.4,94.0h1.5v1.2h-1.5zM370.8,90.2h1.5v1.2h-1.5zM399.2,88.9h1.5v1.2h-1.5zM377.5,90.5h1.5v1.2h-1.5zM391.9,91.1h1.5v1.2h-1.5zM367.4,91.8h1.5v1.2h-1.5zM396.3,92.5h1.5v1.2h-1.5zM387.9,91.8h1.5v1.2h-1.5zM376.6,91.2h1.5v1.2h-1.5zM373.3,91.3h1.5v1.2h-1.5zM363.7,90.3h1.5v1.2h-1.5zM427.7,91.4h1.5v1.2h-1.5zM381.9,90.0h1.5v1.2h-1.5zM397.0,91.3h1.5v1.2h-1.5zM415.8,90.3h1.5v1.2h-1.5zM417.8,92.3h1.5v1.2h-1.5zM371.6,91.6h1.5v1.2h-1.5zM412.7,91.5h1.5v1.2h-1.5zM378.6,91.3h1.5v1.2h-1.5zM367.4,93.5h1.5v1.2h-1.5zM389.2,88.1h1.5v1.2h-1.5zM404.9,91.8h1.5v1.2h-1.5z" fill="#44d62c"/>
<path d="M370.4,92.0h1.5v1.2h-1.5zM397.3,89.2h1.5v1.2h-1.5zM389.7,96.2h1.5v1.2h-1.5zM364.4,91.5h1.5v1.2h-1.5zM369.4,91.3h1.5v1.2h-1.5zM399.0,95.7h1.5v1.2h-1.5zM407.9,96.8h1.5v1.2h-1.5zM421.9,92.1h1.5v1.2h-1.5zM367.4,91.1h1.5v1.2h-1.5zM378.7,90.8h1.5v1.2h-1.5zM397.8,92.7h1.5v1.2h-1.5zM420.4,93.5h1.5v1.2h-1.5zM374.1,91.8h1.5v1.2h-1.5zM424.4,90.9h1.5v1.2h-1.5zM413.1,90.1h1.5v1.2h-1.5zM383.7,91.4h1.5v1.2h-1.5zM369.2,92.7h1.5v1.2h-1.5zM370.6,93.3h1.5v1.2h-1.5zM390.8,88.9h1.5v1.2h-1.5zM378.5,90.7h1.5v1.2h-1.5zM360.5,91.4h1.5v1.2h-1.5zM414.7,89.1h1.5v1.2h-1.5zM394.0,95.7h1.5v1.2h-1.5zM415.5,91.9h1.5v1.2h-1.5zM430.0,91.1h1.5v1.2h-1.5zM367.6,91.3h1.5v1.2h-1.5zM365.4,92.7h1.5v1.2h-1.5zM366.2,90.7h1.5v1.2h-1.5zM418.0,89.8h1.5v1.2h-1.5zM408.7,93.7h1.5v1.2h-1.5zM378.3,91.6h1.5v1.2h-1.5zM413.2,89.6h1.5v1.2h-1.5zM363.3,92.6h1.5v1.2h-1.5zM423.1,90.1h1.5v1.2h-1.5zM395.8,94.3h1.5v1.2h-1.5zM401.4,86.9h1.5v1.2h-1.5zM422.8,91.1h1.5v1.2h-1.5zM382.5,91.3h1.5v1.2h-1.5zM422.6,92.3h1.5v1.2h-1.5zM372.0,91.7h1.5v1.2h-1.5zM400.4,92.6h1.5v1.2h-1.5zM405.9,85.8h1.5v1.2h-1.5zM392.5,90.6h1.5v1.2h-1.5zM375.9,93.3h1.5v1.2h-1.5zM423.6,91.4h1.5v1.2h-1.5zM428.2,91.5h1.5v1.2h-1.5zM423.5,92.3h1.5v1.2h-1.5zM412.9,93.0h1.5v1.2h-1.5zM382.6,91.3h1.5v1.2h-1.5zM416.8,91.1h1.5v1.2h-1.5zM374.2,92.9h1.5v1.2h-1.5zM393.7,93.7h1.5v1.2h-1.5zM421.3,90.4h1.5v1.2h-1.5zM360.7,92.8h1.5v1.2h-1.5zM390.1,92.4h1.5v1.2h-1.5zM361.3,89.9h1.5v1.2h-1.5zM411.4,92.1h1.5v1.2h-1.5zM394.8,91.8h1.5v1.2h-1.5zM412.0,92.1h1.5v1.2h-1.5zM420.7,93.3h1.5v1.2h-1.5zM408.2,92.6h1.5v1.2h-1.5zM401.1,96.2h1.5v1.2h-1.5zM430.1,90.8h1.5v1.2h-1.5zM403.7,88.2h1.5v1.2h-1.5zM382.1,91.2h1.5v1.2h-1.5zM377.1,93.5h1.5v1.2h-1.5zM393.3,87.5h1.5v1.2h-1.5zM375.2,91.0h1.5v1.2h-1.5zM385.9,92.7h1.5v1.2h-1.5zM364.9,89.5h1.5v1.2h-1.5zM420.0,92.0h1.5v1.2h-1.5zM394.9,91.3h1.5v1.2h-1.5zM373.3,90.2h1.5v1.2h-1.5zM366.0,91.7h1.5v1.2h-1.5zM387.0,95.4h1.5v1.2h-1.5zM376.7,89.9h1.5v1.2h-1.5zM384.8,90.8h1.5v1.2h-1.5zM409.8,92.9h1.5v1.2h-1.5zM367.4,89.1h1.5v1.2h-1.5zM411.2,89.1h1.5v1.2h-1.5zM371.6,91.2h1.5v1.2h-1.5zM375.1,90.8h1.5v1.2h-1.5zM426.5,90.7h1.5v1.2h-1.5zM418.0,91.0h1.5v1.2h-1.5zM425.7,90.3h1.5v1.2h-1.5zM364.3,92.4h1.5v1.2h-1.5zM370.1,89.2h1.5v1.2h-1.5zM367.4,91.8h1.5v1.2h-1.5zM424.0,91.5h1.5v1.2h-1.5zM403.1,89.6h1.5v1.2h-1.5zM407.4,95.2h1.5v1.2h-1.5zM397.7,91.1h1.5v1.2h-1.5zM394.9,87.7h1.5v1.2h-1.5zM360.7,91.3h1.5v1.2h-1.5zM393.2,87.6h1.5v1.2h-1.5z" fill="#f58a40"/>
<path d="M383.1,92.6h1.5v1.2h-1.5zM398.0,95.1h1.5v1.2h-1.5zM364.3,91.0h1.5v1.2h-1.5zM365.2,91.3h1.5v1.2h-1.5zM390.2,91.9h1.5v1.2h-1.5zM400.9,85.6h1.5v1.2h-1.5zM420.8,93.3h1.5v1.2h-1.5zM373.0,92.0h1.5v1.2h-1.5zM405.3,88.9h1.5v1.2h-1.5zM364.5,92.3h1.5v1.2h-1.5zM408.2,89.4h1.5v1.2h-1.5zM392.2,92.4h1.5v1.2h-1.5zM416.3,90.9h1.5v1.2h-1.5zM411.7,89.9h1.5v1.2h-1.5zM371.0,91.0h1.5v1.2h-1.5zM414.2,91.3h1.5v1.2h-1.5zM422.0,90.6h1.5v1.2h-1.5zM401.1,95.7h1.5v1.2h-1.5zM419.5,92.7h1.5v1.2h-1.5zM364.5,90.9h1.5v1.2h-1.5zM405.9,96.9h1.5v1.2h-1.5zM387.4,91.1h1.5v1.2h-1.5zM361.8,90.7h1.5v1.2h-1.5zM365.9,92.4h1.5v1.2h-1.5zM379.9,89.8h1.5v1.2h-1.5zM385.5,94.8h1.5v1.2h-1.5zM372.7,89.4h1.5v1.2h-1.5zM376.7,89.7h1.5v1.2h-1.5zM360.5,91.4h1.5v1.2h-1.5zM386.3,87.6h1.5v1.2h-1.5zM396.6,88.3h1.5v1.2h-1.5zM387.9,90.5h1.5v1.2h-1.5zM364.6,91.6h1.5v1.2h-1.5zM375.0,91.9h1.5v1.2h-1.5zM360.3,92.1h1.5v1.2h-1.5zM403.5,91.8h1.5v1.2h-1.5zM378.0,90.6h1.5v1.2h-1.5zM393.1,90.2h1.5v1.2h-1.5zM384.4,91.4h1.5v1.2h-1.5zM397.5,91.9h1.5v1.2h-1.5zM421.1,91.5h1.5v1.2h-1.5zM417.9,91.2h1.5v1.2h-1.5zM385.3,90.1h1.5v1.2h-1.5zM362.2,91.2h1.5v1.2h-1.5zM427.7,91.8h1.5v1.2h-1.5zM426.3,92.9h1.5v1.2h-1.5zM375.8,91.1h1.5v1.2h-1.5zM419.5,93.0h1.5v1.2h-1.5zM406.3,91.7h1.5v1.2h-1.5zM411.3,92.7h1.5v1.2h-1.5zM429.4,91.0h1.5v1.2h-1.5zM369.5,90.4h1.5v1.2h-1.5zM418.5,91.6h1.5v1.2h-1.5zM377.2,92.2h1.5v1.2h-1.5zM385.2,91.8h1.5v1.2h-1.5zM395.6,89.5h1.5v1.2h-1.5zM397.2,94.7h1.5v1.2h-1.5zM372.4,89.5h1.5v1.2h-1.5zM383.2,91.7h1.5v1.2h-1.5zM399.4,91.6h1.5v1.2h-1.5zM377.8,90.7h1.5v1.2h-1.5zM424.6,91.2h1.5v1.2h-1.5zM403.4,87.9h1.5v1.2h-1.5zM392.1,91.2h1.5v1.2h-1.5zM426.7,90.9h1.5v1.2h-1.5zM399.7,97.0h1.5v1.2h-1.5zM368.8,90.6h1.5v1.2h-1.5zM365.4,91.3h1.5v1.2h-1.5zM371.1,90.9h1.5v1.2h-1.5zM375.7,92.4h1.5v1.2h-1.5zM371.6,90.1h1.5v1.2h-1.5zM374.0,91.9h1.5v1.2h-1.5zM411.2,94.2h1.5v1.2h-1.5zM361.5,91.5h1.5v1.2h-1.5zM379.3,91.6h1.5v1.2h-1.5zM390.0,95.2h1.5v1.2h-1.5zM400.5,90.9h1.5v1.2h-1.5zM408.8,90.3h1.5v1.2h-1.5zM364.9,92.1h1.5v1.2h-1.5zM379.1,92.3h1.5v1.2h-1.5zM368.0,92.3h1.5v1.2h-1.5zM363.8,91.6h1.5v1.2h-1.5zM413.8,92.9h1.5v1.2h-1.5zM395.5,92.6h1.5v1.2h-1.5zM377.9,92.3h1.5v1.2h-1.5zM411.9,90.0h1.5v1.2h-1.5zM426.1,91.1h1.5v1.2h-1.5zM388.0,92.4h1.5v1.2h-1.5zM410.1,91.1h1.5v1.2h-1.5zM388.8,90.9h1.5v1.2h-1.5zM365.2,91.6h1.5v1.2h-1.5zM421.6,91.7h1.5v1.2h-1.5zM380.1,91.4h1.5v1.2h-1.5zM371.4,92.2h1.5v1.2h-1.5zM378.8,93.7h1.5v1.2h-1.5zM382.1,91.3h1.5v1.2h-1.5zM393.7,91.4h1.5v1.2h-1.5zM374.4,91.2h1.5v1.2h-1.5zM366.6,91.3h1.5v1.2h-1.5zM363.2,92.2h1.5v1.2h-1.5zM401.5,91.7h1.5v1.2h-1.5zM387.7,88.6h1.5v1.2h-1.5zM429.7,91.8h1.5v1.2h-1.5zM370.1,90.0h1.5v1.2h-1.5zM408.4,90.7h1.5v1.2h-1.5zM369.6,90.5h1.5v1.2h-1.5zM367.6,92.0h1.5v1.2h-1.5zM404.4,88.2h1.5v1.2h-1.5zM394.7,96.9h1.5v1.2h-1.5zM395.7,91.4h1.5v1.2h-1.5zM406.7,95.6h1.5v1.2h-1.5zM365.5,92.0h1.5v1.2h-1.5zM395.1,96.3h1.5v1.2h-1.5zM394.0,89.4h1.5v1.2h-1.5zM405.6,87.0h1.5v1.2h-1.5zM370.6,91.3h1.5v1.2h-1.5zM400.3,96.5h1.5v1.2h-1.5zM364.5,91.1h1.5v1.2h-1.5zM407.9,95.4h1.5v1.2h-1.5zM396.7,88.1h1.5v1.2h-1.5zM423.3,91.6h1.5v1.2h-1.5zM429.2,91.4h1.5v1.2h-1.5zM375.1,92.1h1.5v1.2h-1.5zM370.2,89.1h1.5v1.2h-1.5zM418.1,90.8h1.5v1.2h-1.5zM394.5,89.3h1.5v1.2h-1.5zM360.5,90.2h1.5v1.2h-1.5zM370.2,91.4h1.5v1.2h-1.5zM419.4,91.2h1.5v1.2h-1.5zM425.6,90.9h1.5v1.2h-1.5zM386.5,87.5h1.5v1.2h-1.5zM430.7,90.9h1.5v1.2h-1.5zM379.6,90.7h1.5v1.2h-1.5zM377.8,90.4h1.5v1.2h-1.5zM404.7,97.4h1.5v1.2h-1.5zM411.0,88.6h1.5v1.2h-1.5zM411.9,88.0h1.5v1.2h-1.5zM380.4,91.9h1.5v1.2h-1.5zM425.6,92.0h1.5v1.2h-1.5zM381.2,92.3h1.5v1.2h-1.5zM429.1,91.2h1.5v1.2h-1.5zM399.5,95.9h1.5v1.2h-1.5zM395.3,93.2h1.5v1.2h-1.5zM424.1,92.4h1.5v1.2h-1.5zM373.8,91.3h1.5v1.2h-1.5zM384.4,92.3h1.5v1.2h-1.5zM413.1,89.6h1.5v1.2h-1.5zM386.8,92.4h1.5v1.2h-1.5zM364.6,90.8h1.5v1.2h-1.5zM395.7,97.8h1.5v1.2h-1.5zM421.1,91.5h1.5v1.2h-1.5zM388.4,93.0h1.5v1.2h-1.5zM427.5,92.2h1.5v1.2h-1.5zM362.5,89.6h1.5v1.2h-1.5zM423.4,90.0h1.5v1.2h-1.5zM418.5,93.6h1.5v1.2h-1.5zM367.9,89.1h1.5v1.2h-1.5zM397.1,88.4h1.5v1.2h-1.5zM405.8,90.8h1.5v1.2h-1.5zM405.1,92.8h1.5v1.2h-1.5zM368.2,92.5h1.5v1.2h-1.5zM387.6,92.4h1.5v1.2h-1.5zM402.6,93.9h1.5v1.2h-1.5zM427.9,91.3h1.5v1.2h-1.5zM422.6,90.5h1.5v1.2h-1.5zM428.0,91.4h1.5v1.2h-1.5zM381.9,92.8h1.5v1.2h-1.5zM389.9,91.7h1.5v1.2h-1.5zM407.3,93.1h1.5v1.2h-1.5zM384.1,90.8h1.5v1.2h-1.5zM408.4,92.8h1.5v1.2h-1.5zM395.8,96.8h1.5v1.2h-1.5zM428.6,90.8h1.5v1.2h-1.5zM381.0,92.7h1.5v1.2h-1.5zM376.0,90.9h1.5v1.2h-1.5zM407.2,92.8h1.5v1.2h-1.5zM370.3,91.7h1.5v1.2h-1.5zM411.9,95.6h1.5v1.2h-1.5zM412.9,94.2h1.5v1.2h-1.5zM386.6,91.9h1.5v1.2h-1.5zM372.2,92.2h1.5v1.2h-1.5zM427.6,91.3h1.5v1.2h-1.5zM418.2,92.6h1.5v1.2h-1.5zM373.9,91.5h1.5v1.2h-1.5zM414.3,91.7h1.5v1.2h-1.5zM362.7,93.4h1.5v1.2h-1.5zM384.2,90.7h1.5v1.2h-1.5zM378.7,93.7h1.5v1.2h-1.5zM424.9,91.4h1.5v1.2h-1.5zM426.7,91.9h1.5v1.2h-1.5zM387.5,91.3h1.5v1.2h-1.5zM425.7,92.2h1.5v1.2h-1.5zM403.1,86.1h1.5v1.2h-1.5zM382.8,89.7h1.5v1.2h-1.5zM377.7,91.6h1.5v1.2h-1.5zM422.5,92.1h1.5v1.2h-1.5zM367.0,91.2h1.5v1.2h-1.5zM410.3,89.7h1.5v1.2h-1.5zM404.0,92.0h1.5v1.2h-1.5zM413.0,93.0h1.5v1.2h-1.5zM419.5,89.7h1.5v1.2h-1.5zM400.2,88.0h1.5v1.2h-1.5zM377.7,92.7h1.5v1.2h-1.5zM371.1,92.4h1.5v1.2h-1.5zM396.0,92.0h1.5v1.2h-1.5zM430.1,92.3h1.5v1.2h-1.5zM363.1,89.5h1.5v1.2h-1.5zM368.7,92.4h1.5v1.2h-1.5zM425.8,93.0h1.5v1.2h-1.5zM426.9,91.5h1.5v1.2h-1.5zM402.3,89.8h1.5v1.2h-1.5zM370.2,90.8h1.5v1.2h-1.5zM378.2,89.9h1.5v1.2h-1.5zM361.1,90.4h1.5v1.2h-1.5zM408.1,92.2h1.5v1.2h-1.5zM416.3,92.5h1.5v1.2h-1.5zM364.7,92.1h1.5v1.2h-1.5zM405.3,93.1h1.5v1.2h-1.5zM371.8,90.9h1.5v1.2h-1.5zM382.3,90.1h1.5v1.2h-1.5zM385.9,92.3h1.5v1.2h-1.5zM392.7,88.8h1.5v1.2h-1.5zM366.5,90.8h1.5v1.2h-1.5zM386.4,90.3h1.5v1.2h-1.5zM374.2,91.4h1.5v1.2h-1.5zM426.7,92.2h1.5v1.2h-1.5zM425.5,91.1h1.5v1.2h-1.5zM424.0,90.0h1.5v1.2h-1.5zM415.7,89.2h1.5v1.2h-1.5zM388.8,93.8h1.5v1.2h-1.5zM375.6,89.5h1.5v1.2h-1.5zM396.8,90.2h1.5v1.2h-1.5zM363.1,89.7h1.5v1.2h-1.5zM419.3,90.5h1.5v1.2h-1.5zM402.5,87.5h1.5v1.2h-1.5zM389.9,90.3h1.5v1.2h-1.5zM390.3,89.9h1.5v1.2h-1.5zM361.9,90.4h1.5v1.2h-1.5zM392.6,96.1h1.5v1.2h-1.5zM393.6,92.5h1.5v1.2h-1.5zM366.7,91.7h1.5v1.2h-1.5zM396.2,95.7h1.5v1.2h-1.5zM396.3,94.9h1.5v1.2h-1.5zM427.3,91.6h1.5v1.2h-1.5zM394.9,97.6h1.5v1.2h-1.5zM364.9,90.3h1.5v1.2h-1.5zM423.5,92.7h1.5v1.2h-1.5zM374.9,92.4h1.5v1.2h-1.5zM395.9,91.0h1.5v1.2h-1.5zM368.4,90.9h1.5v1.2h-1.5zM405.1,87.7h1.5v1.2h-1.5zM367.6,92.8h1.5v1.2h-1.5zM416.5,91.2h1.5v1.2h-1.5zM391.4,90.2h1.5v1.2h-1.5zM412.7,94.9h1.5v1.2h-1.5zM401.6,90.0h1.5v1.2h-1.5zM362.6,90.5h1.5v1.2h-1.5zM369.6,91.8h1.5v1.2h-1.5zM406.3,91.5h1.5v1.2h-1.5zM367.7,91.3h1.5v1.2h-1.5zM376.1,89.9h1.5v1.2h-1.5zM404.2,89.4h1.5v1.2h-1.5zM369.7,92.1h1.5v1.2h-1.5zM367.0,91.0h1.5v1.2h-1.5zM421.7,91.5h1.5v1.2h-1.5zM361.1,90.3h1.5v1.2h-1.5zM399.9,88.8h1.5v1.2h-1.5zM426.3,92.2h1.5v1.2h-1.5zM377.8,91.6h1.5v1.2h-1.5zM388.9,90.9h1.5v1.2h-1.5zM364.4,91.3h1.5v1.2h-1.5zM426.6,91.2h1.5v1.2h-1.5zM374.3,90.2h1.5v1.2h-1.5zM417.6,90.2h1.5v1.2h-1.5zM415.4,91.8h1.5v1.2h-1.5zM360.7,92.2h1.5v1.2h-1.5zM412.5,88.6h1.5v1.2h-1.5zM376.2,92.0h1.5v1.2h-1.5zM383.9,92.0h1.5v1.2h-1.5zM409.3,93.6h1.5v1.2h-1.5zM399.3,87.5h1.5v1.2h-1.5zM415.8,90.1h1.5v1.2h-1.5zM428.3,91.2h1.5v1.2h-1.5zM422.3,92.2h1.5v1.2h-1.5zM412.9,89.4h1.5v1.2h-1.5zM409.4,93.0h1.5v1.2h-1.5zM400.5,88.9h1.5v1.2h-1.5zM370.4,91.0h1.5v1.2h-1.5zM367.8,92.2h1.5v1.2h-1.5zM362.3,90.9h1.5v1.2h-1.5zM409.1,88.8h1.5v1.2h-1.5zM364.9,90.1h1.5v1.2h-1.5zM424.7,91.7h1.5v1.2h-1.5zM368.1,91.1h1.5v1.2h-1.5zM404.8,87.7h1.5v1.2h-1.5zM367.3,92.8h1.5v1.2h-1.5zM382.7,92.7h1.5v1.2h-1.5zM361.7,91.3h1.5v1.2h-1.5zM386.2,92.9h1.5v1.2h-1.5zM428.2,90.0h1.5v1.2h-1.5zM362.4,91.3h1.5v1.2h-1.5zM391.0,91.6h1.5v1.2h-1.5zM398.2,88.6h1.5v1.2h-1.5zM421.0,93.2h1.5v1.2h-1.5zM360.3,92.3h1.5v1.2h-1.5zM414.0,91.5h1.5v1.2h-1.5zM380.3,91.7h1.5v1.2h-1.5zM368.0,93.0h1.5v1.2h-1.5zM404.5,87.1h1.5v1.2h-1.5zM388.5,87.8h1.5v1.2h-1.5zM422.9,92.7h1.5v1.2h-1.5zM374.8,91.1h1.5v1.2h-1.5zM413.3,91.9h1.5v1.2h-1.5zM406.9,92.8h1.5v1.2h-1.5zM372.2,89.5h1.5v1.2h-1.5zM369.1,92.0h1.5v1.2h-1.5zM422.7,91.4h1.5v1.2h-1.5zM371.1,91.8h1.5v1.2h-1.5zM397.1,93.3h1.5v1.2h-1.5zM383.4,92.8h1.5v1.2h-1.5zM411.9,95.4h1.5v1.2h-1.5zM374.1,90.9h1.5v1.2h-1.5zM387.6,90.6h1.5v1.2h-1.5zM388.4,92.2h1.5v1.2h-1.5zM404.8,87.2h1.5v1.2h-1.5zM370.2,90.4h1.5v1.2h-1.5zM424.3,90.7h1.5v1.2h-1.5zM400.7,91.3h1.5v1.2h-1.5zM414.8,90.3h1.5v1.2h-1.5zM405.5,86.2h1.5v1.2h-1.5zM382.3,90.9h1.5v1.2h-1.5zM415.4,90.8h1.5v1.2h-1.5zM404.6,91.3h1.5v1.2h-1.5zM404.1,94.5h1.5v1.2h-1.5zM407.9,92.9h1.5v1.2h-1.5zM415.1,90.8h1.5v1.2h-1.5zM394.8,92.2h1.5v1.2h-1.5zM426.6,90.9h1.5v1.2h-1.5zM398.4,91.1h1.5v1.2h-1.5zM396.4,87.7h1.5v1.2h-1.5zM385.3,92.7h1.5v1.2h-1.5zM361.2,91.6h1.5v1.2h-1.5zM389.9,90.6h1.5v1.2h-1.5zM376.1,90.3h1.5v1.2h-1.5zM387.9,91.1h1.5v1.2h-1.5zM369.4,91.6h1.5v1.2h-1.5zM393.3,86.4h1.5v1.2h-1.5zM376.2,92.4h1.5v1.2h-1.5zM393.3,90.4h1.5v1.2h-1.5zM419.0,92.9h1.5v1.2h-1.5zM420.2,91.2h1.5v1.2h-1.5zM390.3,93.7h1.5v1.2h-1.5zM360.4,91.2h1.5v1.2h-1.5zM381.5,90.3h1.5v1.2h-1.5zM390.5,89.0h1.5v1.2h-1.5zM406.5,91.3h1.5v1.2h-1.5zM384.7,92.3h1.5v1.2h-1.5zM374.2,90.0h1.5v1.2h-1.5zM399.4,88.2h1.5v1.2h-1.5zM376.8,92.2h1.5v1.2h-1.5zM393.2,93.9h1.5v1.2h-1.5zM386.7,90.2h1.5v1.2h-1.5zM428.0,92.2h1.5v1.2h-1.5zM362.3,92.0h1.5v1.2h-1.5zM396.2,90.2h1.5v1.2h-1.5z" fill="#f26a1b"/>
<path d="M374.5,106.6h1.5v1.2h-1.5zM411.7,106.8h1.5v1.2h-1.5zM365.8,106.7h1.5v1.2h-1.5zM364.4,109.0h1.5v1.2h-1.5zM382.0,108.8h1.5v1.2h-1.5zM414.1,107.0h1.5v1.2h-1.5zM409.7,107.6h1.5v1.2h-1.5zM390.2,109.1h1.5v1.2h-1.5zM375.6,110.1h1.5v1.2h-1.5zM381.5,105.5h1.5v1.2h-1.5zM400.4,105.3h1.5v1.2h-1.5zM414.5,107.9h1.5v1.2h-1.5zM409.1,109.2h1.5v1.2h-1.5zM381.9,109.1h1.5v1.2h-1.5zM383.0,105.8h1.5v1.2h-1.5zM386.6,107.6h1.5v1.2h-1.5zM397.5,109.9h1.5v1.2h-1.5zM403.6,104.5h1.5v1.2h-1.5zM408.7,109.9h1.5v1.2h-1.5zM406.9,105.9h1.5v1.2h-1.5zM400.1,105.7h1.5v1.2h-1.5zM399.8,105.8h1.5v1.2h-1.5zM390.1,108.2h1.5v1.2h-1.5zM394.1,110.1h1.5v1.2h-1.5zM379.3,108.9h1.5v1.2h-1.5zM398.1,107.9h1.5v1.2h-1.5zM378.6,107.2h1.5v1.2h-1.5zM376.0,107.6h1.5v1.2h-1.5z" fill="#f26a1b"/>
<path d="M408.2,107.4h1.5v1.2h-1.5zM367.9,108.9h1.5v1.2h-1.5zM375.0,105.9h1.5v1.2h-1.5zM371.5,109.4h1.5v1.2h-1.5zM380.0,108.0h1.5v1.2h-1.5zM412.8,109.7h1.5v1.2h-1.5zM366.9,106.3h1.5v1.2h-1.5zM382.8,103.8h1.5v1.2h-1.5zM402.8,105.8h1.5v1.2h-1.5zM410.3,105.6h1.5v1.2h-1.5zM385.6,105.3h1.5v1.2h-1.5zM377.9,110.5h1.5v1.2h-1.5zM372.6,107.4h1.5v1.2h-1.5zM378.2,103.7h1.5v1.2h-1.5zM372.3,104.4h1.5v1.2h-1.5zM395.6,109.0h1.5v1.2h-1.5zM368.5,106.9h1.5v1.2h-1.5zM361.1,108.1h1.5v1.2h-1.5zM404.2,105.8h1.5v1.2h-1.5zM387.9,106.9h1.5v1.2h-1.5zM406.0,108.7h1.5v1.2h-1.5zM408.4,108.4h1.5v1.2h-1.5zM366.0,109.1h1.5v1.2h-1.5zM368.0,107.9h1.5v1.2h-1.5zM394.3,110.3h1.5v1.2h-1.5zM414.2,107.0h1.5v1.2h-1.5zM405.2,104.3h1.5v1.2h-1.5zM399.6,108.2h1.5v1.2h-1.5zM365.7,106.6h1.5v1.2h-1.5zM396.6,110.1h1.5v1.2h-1.5zM396.6,106.6h1.5v1.2h-1.5zM375.0,105.5h1.5v1.2h-1.5zM405.2,108.4h1.5v1.2h-1.5zM382.7,109.2h1.5v1.2h-1.5z" fill="#8ae66a"/>
<path d="M372.8,108.4h1.5v1.2h-1.5zM365.2,107.5h1.5v1.2h-1.5zM414.6,108.1h1.5v1.2h-1.5zM385.1,109.7h1.5v1.2h-1.5zM370.9,108.0h1.5v1.2h-1.5zM361.6,107.1h1.5v1.2h-1.5zM382.6,108.9h1.5v1.2h-1.5zM364.0,106.5h1.5v1.2h-1.5zM378.9,106.2h1.5v1.2h-1.5zM387.5,104.5h1.5v1.2h-1.5zM368.2,104.6h1.5v1.2h-1.5zM391.9,107.8h1.5v1.2h-1.5zM406.2,105.3h1.5v1.2h-1.5zM371.2,108.7h1.5v1.2h-1.5zM388.0,107.2h1.5v1.2h-1.5zM361.2,106.7h1.5v1.2h-1.5zM408.8,108.2h1.5v1.2h-1.5zM376.8,110.1h1.5v1.2h-1.5zM369.8,107.9h1.5v1.2h-1.5zM373.1,105.9h1.5v1.2h-1.5zM392.4,108.5h1.5v1.2h-1.5zM365.7,108.2h1.5v1.2h-1.5zM387.9,105.9h1.5v1.2h-1.5zM361.5,104.6h1.5v1.2h-1.5zM381.5,104.3h1.5v1.2h-1.5zM412.8,106.7h1.5v1.2h-1.5zM405.8,108.3h1.5v1.2h-1.5zM384.4,107.0h1.5v1.2h-1.5zM393.3,105.2h1.5v1.2h-1.5zM367.2,107.7h1.5v1.2h-1.5zM385.0,108.8h1.5v1.2h-1.5zM399.3,108.7h1.5v1.2h-1.5zM381.9,106.7h1.5v1.2h-1.5zM384.7,108.5h1.5v1.2h-1.5zM399.8,107.0h1.5v1.2h-1.5zM380.2,104.7h1.5v1.2h-1.5zM365.6,109.8h1.5v1.2h-1.5zM398.7,107.0h1.5v1.2h-1.5zM373.0,104.5h1.5v1.2h-1.5zM360.9,107.3h1.5v1.2h-1.5zM372.7,103.8h1.5v1.2h-1.5zM406.6,107.5h1.5v1.2h-1.5zM394.4,110.0h1.5v1.2h-1.5zM406.3,106.9h1.5v1.2h-1.5zM380.6,110.4h1.5v1.2h-1.5zM376.3,106.7h1.5v1.2h-1.5zM406.1,106.2h1.5v1.2h-1.5zM405.0,104.3h1.5v1.2h-1.5zM380.1,105.4h1.5v1.2h-1.5zM405.9,108.3h1.5v1.2h-1.5zM364.3,107.6h1.5v1.2h-1.5zM375.4,106.7h1.5v1.2h-1.5zM401.0,110.2h1.5v1.2h-1.5zM404.5,105.0h1.5v1.2h-1.5zM368.0,105.6h1.5v1.2h-1.5zM409.5,108.1h1.5v1.2h-1.5zM407.3,107.4h1.5v1.2h-1.5zM395.9,108.4h1.5v1.2h-1.5zM405.4,108.4h1.5v1.2h-1.5zM377.8,104.5h1.5v1.2h-1.5zM379.9,106.5h1.5v1.2h-1.5zM399.6,109.1h1.5v1.2h-1.5zM369.2,107.6h1.5v1.2h-1.5zM402.9,108.9h1.5v1.2h-1.5zM366.4,108.5h1.5v1.2h-1.5zM390.6,107.3h1.5v1.2h-1.5zM367.7,106.9h1.5v1.2h-1.5zM401.8,108.8h1.5v1.2h-1.5zM408.6,105.9h1.5v1.2h-1.5zM411.2,106.7h1.5v1.2h-1.5zM387.0,105.9h1.5v1.2h-1.5zM406.2,106.3h1.5v1.2h-1.5zM386.3,107.3h1.5v1.2h-1.5zM405.9,104.4h1.5v1.2h-1.5zM411.2,107.7h1.5v1.2h-1.5zM395.6,107.1h1.5v1.2h-1.5zM379.3,108.0h1.5v1.2h-1.5zM394.2,109.0h1.5v1.2h-1.5zM370.5,109.3h1.5v1.2h-1.5zM367.4,109.0h1.5v1.2h-1.5zM412.8,107.4h1.5v1.2h-1.5zM414.6,109.0h1.5v1.2h-1.5zM413.9,108.0h1.5v1.2h-1.5zM411.8,106.8h1.5v1.2h-1.5zM373.3,105.9h1.5v1.2h-1.5zM379.3,104.9h1.5v1.2h-1.5zM394.6,109.5h1.5v1.2h-1.5zM368.2,106.8h1.5v1.2h-1.5zM362.3,104.6h1.5v1.2h-1.5zM380.1,105.8h1.5v1.2h-1.5zM402.9,107.6h1.5v1.2h-1.5zM406.1,105.5h1.5v1.2h-1.5zM407.1,105.6h1.5v1.2h-1.5zM395.9,108.3h1.5v1.2h-1.5zM391.8,107.5h1.5v1.2h-1.5zM385.2,105.4h1.5v1.2h-1.5zM381.3,104.3h1.5v1.2h-1.5zM365.3,108.3h1.5v1.2h-1.5zM395.0,104.2h1.5v1.2h-1.5zM408.2,107.9h1.5v1.2h-1.5zM399.4,108.3h1.5v1.2h-1.5zM377.6,110.0h1.5v1.2h-1.5zM391.7,107.2h1.5v1.2h-1.5zM360.6,108.3h1.5v1.2h-1.5zM399.3,110.3h1.5v1.2h-1.5zM368.5,107.3h1.5v1.2h-1.5zM398.9,109.5h1.5v1.2h-1.5zM392.9,106.7h1.5v1.2h-1.5zM374.2,107.2h1.5v1.2h-1.5zM364.0,106.7h1.5v1.2h-1.5zM398.2,107.9h1.5v1.2h-1.5zM374.8,109.1h1.5v1.2h-1.5zM393.2,106.4h1.5v1.2h-1.5zM398.5,108.2h1.5v1.2h-1.5zM387.3,103.6h1.5v1.2h-1.5zM377.6,107.2h1.5v1.2h-1.5zM394.0,105.3h1.5v1.2h-1.5zM385.9,108.2h1.5v1.2h-1.5zM369.3,110.0h1.5v1.2h-1.5zM372.5,107.3h1.5v1.2h-1.5zM397.7,105.0h1.5v1.2h-1.5zM375.0,103.6h1.5v1.2h-1.5zM373.4,109.2h1.5v1.2h-1.5zM367.0,106.9h1.5v1.2h-1.5zM406.9,106.8h1.5v1.2h-1.5zM386.9,105.4h1.5v1.2h-1.5zM411.7,107.6h1.5v1.2h-1.5zM387.6,105.7h1.5v1.2h-1.5zM393.6,108.8h1.5v1.2h-1.5zM414.6,107.4h1.5v1.2h-1.5zM394.7,109.4h1.5v1.2h-1.5zM378.7,106.3h1.5v1.2h-1.5zM369.1,108.5h1.5v1.2h-1.5zM386.4,103.0h1.5v1.2h-1.5zM401.8,108.8h1.5v1.2h-1.5zM397.9,106.0h1.5v1.2h-1.5zM388.0,105.5h1.5v1.2h-1.5zM404.0,108.5h1.5v1.2h-1.5zM366.9,109.1h1.5v1.2h-1.5zM410.1,106.9h1.5v1.2h-1.5zM391.2,109.6h1.5v1.2h-1.5zM370.4,106.9h1.5v1.2h-1.5zM403.4,108.6h1.5v1.2h-1.5zM397.3,106.5h1.5v1.2h-1.5zM375.4,109.2h1.5v1.2h-1.5zM397.8,106.3h1.5v1.2h-1.5zM398.5,108.3h1.5v1.2h-1.5zM394.6,109.3h1.5v1.2h-1.5zM370.4,108.3h1.5v1.2h-1.5zM386.8,108.2h1.5v1.2h-1.5zM398.7,104.6h1.5v1.2h-1.5zM379.4,108.6h1.5v1.2h-1.5zM388.5,104.8h1.5v1.2h-1.5zM380.5,106.4h1.5v1.2h-1.5zM366.3,108.2h1.5v1.2h-1.5zM362.1,108.7h1.5v1.2h-1.5zM388.7,108.8h1.5v1.2h-1.5zM392.7,108.0h1.5v1.2h-1.5zM383.2,105.1h1.5v1.2h-1.5zM364.6,108.3h1.5v1.2h-1.5zM390.9,109.1h1.5v1.2h-1.5zM410.3,109.3h1.5v1.2h-1.5zM380.3,108.2h1.5v1.2h-1.5zM376.8,108.3h1.5v1.2h-1.5zM409.3,109.9h1.5v1.2h-1.5zM406.5,108.0h1.5v1.2h-1.5zM410.7,108.2h1.5v1.2h-1.5zM384.4,107.5h1.5v1.2h-1.5zM387.4,108.3h1.5v1.2h-1.5zM391.9,110.5h1.5v1.2h-1.5zM390.8,105.2h1.5v1.2h-1.5zM398.5,109.5h1.5v1.2h-1.5zM363.4,109.7h1.5v1.2h-1.5zM380.1,109.6h1.5v1.2h-1.5zM380.0,105.0h1.5v1.2h-1.5zM413.4,109.3h1.5v1.2h-1.5zM375.7,104.4h1.5v1.2h-1.5zM383.2,108.0h1.5v1.2h-1.5zM368.6,108.3h1.5v1.2h-1.5zM413.4,109.6h1.5v1.2h-1.5zM401.8,106.1h1.5v1.2h-1.5zM394.5,107.1h1.5v1.2h-1.5zM361.7,107.3h1.5v1.2h-1.5zM376.5,109.6h1.5v1.2h-1.5zM362.0,109.7h1.5v1.2h-1.5zM399.6,107.7h1.5v1.2h-1.5zM399.7,106.7h1.5v1.2h-1.5zM367.9,107.4h1.5v1.2h-1.5zM394.5,104.3h1.5v1.2h-1.5zM360.6,107.0h1.5v1.2h-1.5zM408.4,107.8h1.5v1.2h-1.5zM412.6,106.2h1.5v1.2h-1.5zM406.5,105.9h1.5v1.2h-1.5zM367.5,107.3h1.5v1.2h-1.5zM372.5,105.9h1.5v1.2h-1.5zM385.1,109.0h1.5v1.2h-1.5zM387.1,104.5h1.5v1.2h-1.5zM387.5,108.6h1.5v1.2h-1.5zM390.9,106.1h1.5v1.2h-1.5zM378.8,108.5h1.5v1.2h-1.5zM407.2,107.8h1.5v1.2h-1.5zM386.6,109.2h1.5v1.2h-1.5zM394.2,109.6h1.5v1.2h-1.5zM369.7,104.6h1.5v1.2h-1.5zM401.4,107.9h1.5v1.2h-1.5zM381.1,108.2h1.5v1.2h-1.5zM391.1,108.3h1.5v1.2h-1.5zM362.4,107.2h1.5v1.2h-1.5zM364.8,108.8h1.5v1.2h-1.5zM366.7,104.9h1.5v1.2h-1.5zM363.2,106.2h1.5v1.2h-1.5zM408.5,106.9h1.5v1.2h-1.5zM408.0,107.1h1.5v1.2h-1.5zM361.9,107.0h1.5v1.2h-1.5zM414.1,106.1h1.5v1.2h-1.5zM397.1,108.8h1.5v1.2h-1.5zM410.0,106.7h1.5v1.2h-1.5zM364.6,108.2h1.5v1.2h-1.5zM400.5,106.0h1.5v1.2h-1.5zM395.8,107.7h1.5v1.2h-1.5zM366.2,108.1h1.5v1.2h-1.5zM392.8,107.1h1.5v1.2h-1.5zM384.4,110.6h1.5v1.2h-1.5zM362.2,104.6h1.5v1.2h-1.5zM363.3,108.2h1.5v1.2h-1.5zM406.9,107.4h1.5v1.2h-1.5z" fill="#44d62c"/>
<path d="M309.2,25.8 L311.4,25.6 L313.7,25.5 L315.9,25.4 L318.2,25.4 L320.4,25.4 L322.6,25.4 L324.9,25.4 L327.1,25.4 L329.4,25.4 L331.6,25.4 L333.9,25.4 L336.1,25.4 L338.3,25.3 L340.6,25.3 L342.8,25.3 L345.1,25.3 L347.3,25.3 L349.6,25.3 L351.8,25.3 L354.0,25.3 L356.3,25.3 L358.5,25.4 L360.8,25.6 L363.0,25.8 L363.0,26.4 L360.8,26.6 L358.5,26.8 L356.3,26.9 L354.0,26.9 L351.8,26.9 L349.6,26.9 L347.3,26.9 L345.1,26.9 L342.8,26.9 L340.6,26.9 L338.3,26.9 L336.1,26.9 L333.9,26.9 L331.6,26.9 L329.4,26.9 L327.1,26.9 L324.9,26.9 L322.6,26.9 L320.4,26.9 L318.2,26.9 L315.9,26.9 L313.7,26.8 L311.4,26.6 L309.2,26.4Z" fill="#e0560c"/>
<path d="M309.2,42.1 L310.9,42.1 L312.6,42.1 L314.2,42.1 L315.9,42.1 L317.6,42.1 L319.3,42.1 L321.0,42.1 L322.6,42.1 L324.3,42.1 L326.0,42.1 L327.7,42.1 L329.4,42.1 L331.0,42.2 L332.7,42.2 L334.4,42.2 L336.1,42.2 L337.7,42.2 L339.4,42.2 L341.1,42.2 L342.8,42.2 L344.5,42.2 L346.1,42.2 L347.8,42.2 L349.5,42.2 L349.5,43.0 L347.8,43.0 L346.1,43.0 L344.5,43.0 L342.8,43.0 L341.1,43.0 L339.4,43.0 L337.7,43.0 L336.1,43.0 L334.4,43.0 L332.7,43.0 L331.0,43.0 L329.4,43.1 L327.7,43.1 L326.0,43.1 L324.3,43.1 L322.6,43.1 L321.0,43.1 L319.3,43.1 L317.6,43.1 L315.9,43.1 L314.2,43.1 L312.6,43.1 L310.9,43.1 L309.2,43.1Z" fill="#1e6fd0"/>
<path d="M385.0,58.4 L387.0,58.2 L389.0,58.1 L391.0,57.9 L393.0,57.7 L395.0,57.6 L397.0,57.4 L399.0,57.2 L401.0,57.2 L403.0,57.2 L405.0,57.2 L407.0,57.1 L409.0,57.1 L411.0,57.1 L413.0,57.1 L415.0,57.1 L417.0,57.1 L419.0,57.1 L421.0,57.0 L423.0,57.0 L425.0,57.0 L427.0,57.2 L429.0,57.7 L431.0,58.1 L433.0,58.5 L433.0,59.1 L431.0,59.6 L429.0,60.1 L427.0,60.6 L425.0,60.9 L423.0,60.9 L421.0,60.9 L419.0,60.8 L417.0,60.8 L415.0,60.8 L413.0,60.8 L411.0,60.8 L409.0,60.8 L407.0,60.8 L405.0,60.7 L403.0,60.7 L401.0,60.7 L399.0,60.7 L397.0,60.5 L395.0,60.3 L393.0,60.1 L391.0,59.9 L389.0,59.8 L387.0,59.6 L385.0,59.4Z" fill="#3cc424"/>
<path d="M341.2,58.7 L343.6,58.7 L346.1,58.7 L348.6,58.7 L351.0,58.7 L353.4,58.7 L355.9,58.7 L358.4,58.7 L360.8,58.7 L363.2,58.7 L365.7,58.7 L368.1,58.7 L370.6,58.6 L373.1,58.6 L375.5,58.6 L377.9,58.6 L380.4,58.6 L382.9,58.6 L385.3,58.6 L387.8,58.6 L390.2,58.6 L392.6,58.6 L395.1,58.6 L397.6,58.6 L400.0,58.6 L400.0,59.2 L397.6,59.2 L395.1,59.2 L392.6,59.2 L390.2,59.2 L387.8,59.2 L385.3,59.2 L382.9,59.2 L380.4,59.2 L377.9,59.2 L375.5,59.2 L373.1,59.2 L370.6,59.1 L368.1,59.1 L365.7,59.1 L363.2,59.1 L360.8,59.1 L358.4,59.1 L355.9,59.1 L353.4,59.1 L351.0,59.1 L348.6,59.1 L346.1,59.1 L343.6,59.1 L341.2,59.1Z" fill="#2a9a1a"/>
<path d="M361.0,91.5 L363.9,91.5 L366.9,91.4 L369.8,91.4 L372.8,91.4 L375.7,91.3 L378.6,91.3 L381.6,91.3 L384.5,91.2 L387.4,91.2 L390.4,91.2 L393.3,91.1 L396.2,91.1 L399.2,91.1 L402.1,91.2 L405.1,91.2 L408.0,91.2 L410.9,91.2 L413.9,91.2 L416.8,91.3 L419.8,91.3 L422.7,91.3 L425.6,91.4 L428.6,91.4 L431.5,91.4 L431.5,92.4 L428.6,92.4 L425.6,92.5 L422.7,92.5 L419.8,92.5 L416.8,92.5 L413.9,92.6 L410.9,92.6 L408.0,92.6 L405.1,92.6 L402.1,92.7 L399.2,92.7 L396.2,92.7 L393.3,92.7 L390.4,92.6 L387.4,92.6 L384.5,92.6 L381.6,92.5 L378.6,92.5 L375.7,92.5 L372.8,92.4 L369.8,92.4 L366.9,92.4 L363.9,92.3 L361.0,92.3Z" fill="#d24a06"/>
<path d="M361.3,107.4 L363.6,107.3 L365.8,107.2 L368.1,107.0 L370.3,106.9 L372.6,106.8 L374.8,106.8 L377.1,106.8 L379.3,106.8 L381.6,106.8 L383.8,106.8 L386.1,106.8 L388.4,106.8 L390.6,106.8 L392.9,106.8 L395.1,106.8 L397.4,106.8 L399.6,106.8 L401.9,106.8 L404.1,106.8 L406.4,106.8 L408.6,106.8 L410.9,106.9 L413.1,107.3 L415.4,107.6 L415.4,109.2 L413.1,109.6 L410.9,110.0 L408.6,110.1 L406.4,110.1 L404.1,110.1 L401.9,110.1 L399.6,110.1 L397.4,110.1 L395.1,110.1 L392.9,110.1 L390.6,110.2 L388.4,110.2 L386.1,110.2 L383.8,110.2 L381.6,110.2 L379.3,110.2 L377.1,110.2 L374.8,110.2 L372.6,110.2 L370.3,110.1 L368.1,109.9 L365.8,109.8 L363.6,109.6 L361.3,109.5Z" fill="#2eb01c"/>
<path d="M361.3,108.2 L363.6,108.1 L365.8,108.1 L368.1,108.0 L370.3,108.0 L372.6,107.9 L374.8,107.9 L377.1,107.9 L379.3,107.9 L381.6,107.9 L383.8,107.9 L386.1,107.9 L388.4,107.9 L390.6,107.9 L392.9,107.9 L395.1,107.9 L397.4,107.9 L399.6,107.9 L401.9,107.9 L404.1,107.9 L406.4,107.9 L408.6,107.9 L410.9,108.0 L413.1,108.1 L415.4,108.2 L415.4,108.8 L413.1,108.9 L410.9,109.0 L408.6,109.1 L406.4,109.1 L404.1,109.1 L401.9,109.1 L399.6,109.1 L397.4,109.1 L395.1,109.1 L392.9,109.1 L390.6,109.1 L388.4,109.1 L386.1,109.1 L383.8,109.1 L381.6,109.1 L379.3,109.1 L377.1,109.1 L374.8,109.1 L372.6,109.1 L370.3,109.0 L368.1,109.0 L365.8,108.9 L363.6,108.9 L361.3,108.8Z" fill="#1a8010"/>
<path d="M362.0,110.0 L362.8,110.0 L363.5,109.9 L364.2,109.9 L365.0,109.9 L365.8,109.8 L366.5,109.8 L367.2,109.8 L368.0,109.7 L368.8,109.7 L369.5,109.7 L370.2,109.6 L371.0,109.6 L371.8,109.6 L372.5,109.7 L373.2,109.7 L374.0,109.7 L374.8,109.8 L375.5,109.8 L376.2,109.8 L377.0,109.9 L377.8,109.9 L378.5,109.9 L379.2,110.0 L380.0,110.0 L380.0,110.5 L379.2,110.6 L378.5,110.6 L377.8,110.7 L377.0,110.7 L376.2,110.8 L375.5,110.9 L374.8,110.9 L374.0,111.0 L373.2,111.0 L372.5,111.1 L371.8,111.1 L371.0,111.2 L370.2,111.2 L369.5,111.1 L368.8,111.1 L368.0,111.0 L367.2,111.0 L366.5,111.0 L365.8,110.9 L365.0,110.9 L364.2,110.8 L363.5,110.8 L362.8,110.7 L362.0,110.7Z" fill="#f26a1b"/>
<path d="M430.0,75.5 L431.6,75.4 L433.1,75.4 L434.7,75.3 L436.3,75.3 L437.9,75.2 L439.4,75.1 L441.0,75.1 L442.6,75.0 L444.1,75.0 L445.7,74.9 L447.3,74.9 L448.9,74.8 L450.4,74.8 L452.0,74.8 L453.6,74.8 L455.1,74.8 L456.7,74.8 L458.3,74.8 L459.8,74.8 L461.4,74.8 L463.0,74.8 L464.6,74.9 L466.1,75.3 L467.7,75.6 L467.7,76.0 L466.1,76.4 L464.6,76.8 L463.0,76.9 L461.4,76.9 L459.8,76.9 L458.3,76.9 L456.7,76.9 L455.1,76.9 L453.6,76.9 L452.0,76.9 L450.4,76.9 L448.9,76.9 L447.3,76.8 L445.7,76.8 L444.1,76.7 L442.6,76.6 L441.0,76.6 L439.4,76.5 L437.9,76.4 L436.3,76.4 L434.7,76.3 L433.1,76.2 L431.6,76.2 L430.0,76.1Z" fill="#e2540a"/>
<path d="M361.0,75.3 L361.4,75.2 L361.8,75.0 L362.1,74.9 L362.5,74.7 L362.9,74.6 L363.2,74.4 L363.6,74.3 L364.0,74.2 L364.4,74.1 L364.8,74.2 L365.1,74.3 L365.5,74.4 L365.9,74.5 L366.2,74.5 L366.6,74.6 L367.0,74.7 L367.4,74.8 L367.8,74.8 L368.1,74.9 L368.5,75.0 L368.9,75.1 L369.2,75.1 L369.6,75.2 L370.0,75.3 L370.0,75.9 L369.6,76.0 L369.2,76.1 L368.9,76.1 L368.5,76.2 L368.1,76.3 L367.8,76.4 L367.4,76.4 L367.0,76.5 L366.6,76.6 L366.2,76.7 L365.9,76.7 L365.5,76.8 L365.1,76.9 L364.8,77.0 L364.4,77.1 L364.0,77.0 L363.6,76.9 L363.2,76.8 L362.9,76.6 L362.5,76.5 L362.1,76.3 L361.8,76.2 L361.4,76.0 L361.0,75.9Z" fill="#2aa818"/>
<line x1="370" y1="75.5" x2="425" y2="75.5" stroke="#9ab0c0" stroke-width="0.6"/>
<text x="363" y="24.6" font-size="8.6" text-anchor="start" fill="#000">S5</text>
<text x="310" y="41.2" font-size="8.6" text-anchor="start" fill="#000">S2</text>
<text x="351.2" y="41.2" font-size="8.6" text-anchor="start" fill="#000">S4</text>
<text x="433.4" y="58.4" font-size="8.6" text-anchor="start" fill="#000">S1</text>
<text x="342" y="74.3" font-size="8.6" text-anchor="start" fill="#000">S0</text>
<text x="469" y="74.2" font-size="8.6" text-anchor="start" fill="#000">S8</text>
<text x="361.3" y="91.1" font-size="8.6" text-anchor="start" fill="#000">S3</text>
<text x="432.4" y="91" font-size="8.6" text-anchor="start" fill="#000">S6</text>
<text x="416.2" y="107.2" font-size="8.6" text-anchor="start" fill="#000">S7</text>
<text x="244" y="17.25" font-size="12.5" text-anchor="start" fill="#000" font-weight="bold" stroke="#000" stroke-width="0.55">B</text>
<line x1="300.75" y1="20" x2="300.75" y2="117.7" stroke="#000" stroke-width="1.3"/>
<line x1="300.1" y1="117.2" x2="475" y2="117.2" stroke="#000" stroke-width="1.3"/>
<line x1="296.5" y1="36.25" x2="300.5" y2="36.25" stroke="#000" stroke-width="1"/>
<text x="293" y="39.25" font-size="8.8" text-anchor="end" fill="#000">0.002</text>
<line x1="296.5" y1="58" x2="300.5" y2="58" stroke="#000" stroke-width="1"/>
<text x="293" y="61" font-size="8.8" text-anchor="end" fill="#000">0.000</text>
<line x1="296.5" y1="79.75" x2="300.5" y2="79.75" stroke="#000" stroke-width="1"/>
<text x="293" y="82.75" font-size="8.8" text-anchor="end" fill="#000">−0.002</text>
<line x1="296.5" y1="101.5" x2="300.5" y2="101.5" stroke="#000" stroke-width="1"/>
<text x="293" y="104.5" font-size="8.8" text-anchor="end" fill="#000">−0.004</text>
<line x1="311.4" y1="117.2" x2="311.4" y2="121" stroke="#000" stroke-width="1"/>
<text x="311.4" y="130" font-size="8.8" text-anchor="middle" fill="#000" textLength="22.3" lengthAdjust="spacingAndGlyphs">0.000</text>
<line x1="349" y1="117.2" x2="349" y2="121" stroke="#000" stroke-width="1"/>
<text x="349" y="130" font-size="8.8" text-anchor="middle" fill="#000" textLength="22.3" lengthAdjust="spacingAndGlyphs">0.002</text>
<line x1="387" y1="117.2" x2="387" y2="121" stroke="#000" stroke-width="1"/>
<text x="387" y="130" font-size="8.8" text-anchor="middle" fill="#000" textLength="22.3" lengthAdjust="spacingAndGlyphs">0.004</text>
<line x1="424.7" y1="117.2" x2="424.7" y2="121" stroke="#000" stroke-width="1"/>
<text x="424.7" y="130" font-size="8.8" text-anchor="middle" fill="#000" textLength="22.3" lengthAdjust="spacingAndGlyphs">0.006</text>
<line x1="462.3" y1="117.2" x2="462.3" y2="121" stroke="#000" stroke-width="1"/>
<text x="462.3" y="130" font-size="8.8" text-anchor="middle" fill="#000" textLength="22.3" lengthAdjust="spacingAndGlyphs">0.008</text>
<circle cx="454.2" cy="88.65" r="4.4" fill="#3cd41e"/>
<text x="461.2" y="91.25" font-size="8.3" text-anchor="start" fill="#000">WT 6 dpf</text>
<circle cx="454.2" cy="99.4" r="4.4" fill="#2f80f0"/>
<text x="461.2" y="102.0" font-size="8.3" text-anchor="start" fill="#000">WT 10 dpf</text>
<circle cx="454.2" cy="110.2" r="4.4" fill="#ff6a00"/>
<text x="461.2" y="112.8" font-size="8.3" text-anchor="start" fill="#000">WT 16 dpf</text>
<path d="M51,213 L60,212.2 L64.5,210 L66.5,196 L68.6,184 L69.6,183.3 L71,188 L72.6,194.5 L74,189 L75.2,181 L80.5,180.5 L80.5,182 L75,184 L72.5,200 L69.5,220 L66.5,235.3 L51,235 Z" fill="#f9a431" stroke="none" stroke-width="1"/>
<path d="M62.8,234 L66.5,220 L69.5,208 L72.5,196 L74.2,188 L75.5,181.5 L79,181.2 L80.8,181.4 L80.5,190 L77,196 L74.5,206 L72.5,216 L71.5,228 L70.8,240 L70.2,256 L69.2,256 L67.8,240 L65.5,236.5 Z" fill="#8fd8f0" stroke="none" stroke-width="1"/>
<path d="M71.6,236 L71.8,222 L72.6,210 L73.8,200 C74.5,193 75,187 76,183 C77.5,180.5 80,179 83,178.3 L88.5,178.1 C86,181 84,185 83.2,189 C82.2,192 81,195 80.5,197.5 L77,198 L75.5,205 L74.2,215 L73.4,228 L73,236 Z" fill="#b8f040" stroke="none" stroke-width="1"/>
<path d="M81,196.5 C81.5,190 83.5,184 88,178.5 L90.5,178.2 L93,180 L96,179.2 L99,181.2 L101.5,180.3 L103.5,182.4 L106,181.8 L108,184.2 L110.5,185.2 L112.5,187.2 L115,188.5 L118,189.1 L118,190 L114,191 L110,192.5 L106,193.8 L100,194.5 L92,195 Z" fill="#5a58ea" stroke="none" stroke-width="1"/>
<path d="M80.5,195.8 L92,195.2 L100,194.6 L106,193.8 L110,192.5 C109,194.5 108,196 106.5,196.5 L104,197.2 L102,198.8 L99.5,198.3 L97,200.6 L94.5,200 L92,201.6 L89,201.2 L86.5,201.4 L84,200 L82,199 Z" fill="#f068f0" stroke="none" stroke-width="1"/>
<defs><linearGradient id="gEryC" gradientUnits="userSpaceOnUse" x1="115" x2="204" y1="0" y2="0"><stop offset="0" stop-color="#b0d8c0"/><stop offset="0.25" stop-color="#d8f0b8"/><stop offset="0.5" stop-color="#c8d8f0"/><stop offset="0.75" stop-color="#d0e8b8"/><stop offset="0.92" stop-color="#a8b0f0"/><stop offset="1" stop-color="#80e040"/></linearGradient><linearGradient id="gMacC" gradientUnits="userSpaceOnUse" x1="72" x2="160" y1="0" y2="0"><stop offset="0" stop-color="#f0f8f4"/><stop offset="0.6" stop-color="#e0f4dc"/><stop offset="1" stop-color="#80e860"/></linearGradient><linearGradient id="gNeuC" gradientUnits="userSpaceOnUse" x1="70" x2="145" y1="0" y2="0"><stop offset="0" stop-color="#70d0f0"/><stop offset="0.3" stop-color="#6a9ef0"/><stop offset="1" stop-color="#4a6ae8"/></linearGradient></defs>
<path d="M115,189.6 L203,189.6" fill="none" stroke="url(#gEryC)" stroke-width="1.2"/>
<path d="M115,189.6 L203,189.6" fill="none" stroke="#7080e0" stroke-width="1.0" stroke-dasharray="1.2 7 0.8 9 1.5 6" stroke-opacity="0.7"/>
<path d="M201.5,189.6 L203,187.6 L206,188 L206.3,191.2 L203,191.6 Z" fill="#e050e0" stroke="none" stroke-width="1"/>
<path d="M72,217.3 L160,217.3" fill="none" stroke="url(#gMacC)" stroke-width="0.9"/>
<path d="M157,216.8 L166,216 C167.5,214.5 169.5,213.6 171.5,213.7 C173.5,213.9 174.3,215.5 174.3,217.3 C174.3,219.1 173.5,220.6 171.5,220.8 C169.5,220.9 167.5,220 166,218.6 L157,217.8 Z" fill="#50e030" stroke="none" stroke-width="1"/>
<path d="M70.5,239 C71.5,243 73,244.3 77,244.4 L144,244.4" fill="none" stroke="url(#gNeuC)" stroke-width="1.5"/>
<path d="M140.5,243.8 L144.5,241.2 C146,240.2 147.9,240.1 148.1,241.6 L148.1,247.6 C147.9,249 146,248.9 144.5,247.8 L140.5,245.2 Z" fill="#4a6ae8" stroke="none" stroke-width="1"/>
<text x="8.5" y="167.25" font-size="12.5" text-anchor="start" fill="#000" font-weight="bold" stroke="#000" stroke-width="0.55">C</text>
<text x="24.5" y="218.2" font-size="8.8" text-anchor="start" fill="#000" textLength="54.25" lengthAdjust="spacingAndGlyphs">HSCs/HSPCs</text>
<text x="175.4" y="183.3" font-size="8.5" text-anchor="start" fill="#000" textLength="32.9" lengthAdjust="spacingAndGlyphs">Erythroid</text>
<text x="127.7" y="211.8" font-size="8.5" text-anchor="start" fill="#000" textLength="51.3" lengthAdjust="spacingAndGlyphs">Macrophages</text>
<text x="106" y="237.3" font-size="8.5" text-anchor="start" fill="#000" textLength="41.7" lengthAdjust="spacingAndGlyphs">Neutrophils</text>
<line x1="52" y1="273.1" x2="206" y2="273.1" stroke="#000" stroke-width="1.1"/>
<path d="M209,273.1 L203.5,270.4 L203.5,275.8 Z" fill="#000" stroke="none" stroke-width="1"/>
<text x="56.6" y="282.3" font-size="8.8" text-anchor="end" fill="#000" transform="rotate(-33 56.6 282.3)">0.000</text>
<text x="77.8" y="282.3" font-size="8.8" text-anchor="end" fill="#000" transform="rotate(-33 77.8 282.3)">0.002</text>
<text x="99.0" y="282.3" font-size="8.8" text-anchor="end" fill="#000" transform="rotate(-33 99.0 282.3)">0.004</text>
<text x="120.19999999999999" y="282.3" font-size="8.8" text-anchor="end" fill="#000" transform="rotate(-33 120.19999999999999 282.3)">0.006</text>
<text x="141.4" y="282.3" font-size="8.8" text-anchor="end" fill="#000" transform="rotate(-33 141.4 282.3)">0.008</text>
<text x="162.6" y="282.3" font-size="8.8" text-anchor="end" fill="#000" transform="rotate(-33 162.6 282.3)">0.010</text>
<text x="183.79999999999998" y="282.3" font-size="8.8" text-anchor="end" fill="#000" transform="rotate(-33 183.79999999999998 282.3)">0.012</text>
<text x="205.0" y="282.3" font-size="8.8" text-anchor="end" fill="#000" transform="rotate(-33 205.0 282.3)">0.014</text>
<text x="102" y="306.6" font-size="9.6" text-anchor="start" fill="#000" textLength="36.75" lengthAdjust="spacingAndGlyphs" stroke="#000" stroke-width="0.25">Pseudotime</text>
<line x1="322.6" y1="204.7" x2="322.6" y2="249" stroke="#cdd1d5" stroke-width="1.4"/>
<line x1="326.8" y1="195" x2="326.8" y2="222.4" stroke="#cdd1d5" stroke-width="1.4"/>
<line x1="326.8" y1="221.6" x2="412" y2="221.6" stroke="#cdd1d5" stroke-width="1.4"/>
<line x1="322.6" y1="248.2" x2="390" y2="248.2" stroke="#cdd1d5" stroke-width="1.2"/>
<line x1="326.8" y1="195" x2="440" y2="195" stroke="#cdd1d5" stroke-width="0.8"/>
<path d="M385.8,222.0h1.2v1.2h-1.2zM343.5,180.3h1.2v1.2h-1.2zM343.2,199.1h1.2v1.2h-1.2zM371.6,182.8h1.2v1.2h-1.2zM335.2,256.1h1.2v1.2h-1.2zM366.8,208.1h1.2v1.2h-1.2zM343.4,244.0h1.2v1.2h-1.2zM356.3,209.9h1.2v1.2h-1.2zM354.5,261.6h1.2v1.2h-1.2zM399.5,220.7h1.2v1.2h-1.2zM366.7,241.4h1.2v1.2h-1.2zM339.4,193.9h1.2v1.2h-1.2zM348.7,188.5h1.2v1.2h-1.2zM386.2,243.7h1.2v1.2h-1.2zM362.3,210.8h1.2v1.2h-1.2zM390.8,193.3h1.2v1.2h-1.2zM385.6,243.5h1.2v1.2h-1.2zM387.9,184.3h1.2v1.2h-1.2zM347.5,214.4h1.2v1.2h-1.2zM398.8,241.2h1.2v1.2h-1.2zM379.9,182.3h1.2v1.2h-1.2zM346.4,243.0h1.2v1.2h-1.2zM376.7,258.2h1.2v1.2h-1.2zM369.2,201.1h1.2v1.2h-1.2zM396.9,254.3h1.2v1.2h-1.2zM333.0,187.7h1.2v1.2h-1.2zM350.0,220.5h1.2v1.2h-1.2zM338.3,195.1h1.2v1.2h-1.2zM378.5,225.1h1.2v1.2h-1.2zM384.5,180.6h1.2v1.2h-1.2zM330.7,242.6h1.2v1.2h-1.2zM349.2,183.4h1.2v1.2h-1.2zM348.9,253.9h1.2v1.2h-1.2zM333.3,229.3h1.2v1.2h-1.2zM380.4,259.3h1.2v1.2h-1.2zM334.0,186.2h1.2v1.2h-1.2zM386.3,242.3h1.2v1.2h-1.2zM358.8,222.4h1.2v1.2h-1.2zM355.7,198.5h1.2v1.2h-1.2zM386.5,239.3h1.2v1.2h-1.2zM343.5,211.6h1.2v1.2h-1.2zM372.8,259.0h1.2v1.2h-1.2zM377.7,236.0h1.2v1.2h-1.2zM326.5,205.6h1.2v1.2h-1.2zM380.9,217.9h1.2v1.2h-1.2zM396.7,237.7h1.2v1.2h-1.2zM345.3,258.0h1.2v1.2h-1.2zM344.8,249.3h1.2v1.2h-1.2zM346.8,194.3h1.2v1.2h-1.2zM378.1,181.6h1.2v1.2h-1.2zM333.0,205.3h1.2v1.2h-1.2zM392.2,210.3h1.2v1.2h-1.2zM329.6,195.4h1.2v1.2h-1.2zM327.3,227.7h1.2v1.2h-1.2zM370.9,230.9h1.2v1.2h-1.2zM385.2,207.7h1.2v1.2h-1.2z" fill="#f5821f"/>
<path d="M338.2,236.6h1.2v1.2h-1.2zM397.7,253.3h1.2v1.2h-1.2zM382.4,227.6h1.2v1.2h-1.2zM328.0,187.6h1.2v1.2h-1.2zM371.1,225.6h1.2v1.2h-1.2zM394.6,208.4h1.2v1.2h-1.2zM344.7,258.6h1.2v1.2h-1.2zM370.5,214.9h1.2v1.2h-1.2zM388.9,205.3h1.2v1.2h-1.2zM374.5,190.4h1.2v1.2h-1.2zM378.6,251.7h1.2v1.2h-1.2zM378.7,200.7h1.2v1.2h-1.2zM377.8,223.1h1.2v1.2h-1.2zM372.0,181.6h1.2v1.2h-1.2zM358.1,200.3h1.2v1.2h-1.2zM361.5,220.3h1.2v1.2h-1.2zM391.9,243.9h1.2v1.2h-1.2zM393.8,211.6h1.2v1.2h-1.2zM355.0,191.9h1.2v1.2h-1.2zM350.8,232.6h1.2v1.2h-1.2zM376.4,196.4h1.2v1.2h-1.2zM360.6,215.8h1.2v1.2h-1.2zM328.9,229.8h1.2v1.2h-1.2zM343.8,180.6h1.2v1.2h-1.2zM384.6,247.4h1.2v1.2h-1.2zM392.6,241.2h1.2v1.2h-1.2zM352.1,204.4h1.2v1.2h-1.2z" fill="#44d62c"/>
<path d="M361.5,197.7h1.2v1.2h-1.2zM369.3,185.7h1.2v1.2h-1.2zM399.8,240.6h1.2v1.2h-1.2zM362.8,189.5h1.2v1.2h-1.2zM353.3,192.7h1.2v1.2h-1.2zM339.8,183.0h1.2v1.2h-1.2zM335.1,219.1h1.2v1.2h-1.2zM340.9,255.7h1.2v1.2h-1.2zM376.6,235.4h1.2v1.2h-1.2zM397.1,228.4h1.2v1.2h-1.2zM331.1,207.7h1.2v1.2h-1.2zM388.0,245.2h1.2v1.2h-1.2zM369.9,232.8h1.2v1.2h-1.2zM359.1,191.5h1.2v1.2h-1.2zM363.2,225.0h1.2v1.2h-1.2zM382.1,234.8h1.2v1.2h-1.2zM331.9,204.8h1.2v1.2h-1.2zM346.5,211.1h1.2v1.2h-1.2zM328.5,246.5h1.2v1.2h-1.2zM366.8,198.5h1.2v1.2h-1.2zM388.4,255.9h1.2v1.2h-1.2zM339.9,184.9h1.2v1.2h-1.2z" fill="#3a8de0"/>
<path d="M396.9,213.4h1.2v1.2h-1.2zM330.7,246.8h1.2v1.2h-1.2zM352.3,206.1h1.2v1.2h-1.2zM387.0,259.0h1.2v1.2h-1.2zM346.2,195.5h1.2v1.2h-1.2z" fill="#e0409a"/>
<path d="M344.0,243.5h1.2v1.2h-1.2zM345.0,244.6h1.2v1.2h-1.2zM327.3,264.0h1.2v1.2h-1.2zM343.2,257.7h1.2v1.2h-1.2zM342.3,254.7h1.2v1.2h-1.2zM327.9,263.9h1.2v1.2h-1.2zM343.1,247.7h1.2v1.2h-1.2zM330.2,250.8h1.2v1.2h-1.2zM325.9,253.7h1.2v1.2h-1.2zM329.6,248.9h1.2v1.2h-1.2zM344.8,258.6h1.2v1.2h-1.2zM338.7,256.1h1.2v1.2h-1.2zM336.6,248.5h1.2v1.2h-1.2zM337.9,250.9h1.2v1.2h-1.2zM323.0,264.2h1.2v1.2h-1.2zM324.7,245.4h1.2v1.2h-1.2zM341.9,244.5h1.2v1.2h-1.2zM324.2,251.7h1.2v1.2h-1.2z" fill="#f5821f"/>
<path d="M335.8,263.3h1.2v1.2h-1.2zM326.4,261.2h1.2v1.2h-1.2zM335.0,257.5h1.2v1.2h-1.2zM340.0,263.9h1.2v1.2h-1.2zM325.3,260.6h1.2v1.2h-1.2zM326.3,241.2h1.2v1.2h-1.2zM322.7,263.1h1.2v1.2h-1.2zM333.9,250.2h1.2v1.2h-1.2zM335.4,247.4h1.2v1.2h-1.2zM334.5,250.8h1.2v1.2h-1.2zM343.4,263.8h1.2v1.2h-1.2zM336.9,245.0h1.2v1.2h-1.2zM333.5,253.1h1.2v1.2h-1.2zM340.0,260.5h1.2v1.2h-1.2zM343.7,240.5h1.2v1.2h-1.2z" fill="#44d62c"/>
<path d="M337.0,248.6h1.2v1.2h-1.2zM343.6,259.3h1.2v1.2h-1.2zM334.1,242.2h1.2v1.2h-1.2zM331.2,242.4h1.2v1.2h-1.2zM322.9,253.4h1.2v1.2h-1.2zM323.2,250.3h1.2v1.2h-1.2zM343.2,251.5h1.2v1.2h-1.2z" fill="#3a8de0"/>
<path d="M404.2,195.6h1.2v1.2h-1.2zM426.5,185.0h1.2v1.2h-1.2zM422.2,187.1h1.2v1.2h-1.2zM415.7,184.0h1.2v1.2h-1.2zM435.9,195.6h1.2v1.2h-1.2zM432.1,186.2h1.2v1.2h-1.2zM416.2,200.8h1.2v1.2h-1.2zM405.7,184.3h1.2v1.2h-1.2zM416.5,190.5h1.2v1.2h-1.2z" fill="#f5821f"/>
<path d="M429.5,197.1h1.2v1.2h-1.2zM418.4,195.2h1.2v1.2h-1.2zM415.2,199.9h1.2v1.2h-1.2z" fill="#44d62c"/>
<path d="M446.2,203.8h1.2v1.2h-1.2zM401.2,184.0h1.2v1.2h-1.2zM421.1,193.8h1.2v1.2h-1.2zM417.9,183.3h1.2v1.2h-1.2zM448.5,190.3h1.2v1.2h-1.2zM413.8,195.2h1.2v1.2h-1.2z" fill="#3a8de0"/>
<path d="M304.1,228.7h1.3v1.0h-1.3zM307.7,228.5h1.3v1.0h-1.3zM309.4,228.8h1.3v1.0h-1.3zM307.3,229.1h1.3v1.0h-1.3zM306.0,228.5h1.3v1.0h-1.3zM319.3,229.4h1.3v1.0h-1.3zM314.9,227.4h1.3v1.0h-1.3zM307.2,227.3h1.3v1.0h-1.3z" fill="#44d62c"/>
<path d="M308.0,228.3h1.3v1.0h-1.3zM313.5,227.3h1.3v1.0h-1.3zM310.5,228.6h1.3v1.0h-1.3zM321.1,230.2h1.3v1.0h-1.3zM310.3,228.8h1.3v1.0h-1.3zM304.4,229.3h1.3v1.0h-1.3zM319.6,227.7h1.3v1.0h-1.3zM315.6,229.8h1.3v1.0h-1.3zM321.8,225.3h1.3v1.0h-1.3zM312.1,226.4h1.3v1.0h-1.3zM305.6,227.6h1.3v1.0h-1.3zM304.5,228.5h1.3v1.0h-1.3zM316.4,228.7h1.3v1.0h-1.3zM317.7,228.2h1.3v1.0h-1.3zM306.1,228.7h1.3v1.0h-1.3z" fill="#d7191c"/>
<path d="M306.4,228.7h1.3v1.0h-1.3zM315.8,227.6h1.3v1.0h-1.3zM305.5,228.5h1.3v1.0h-1.3zM320.9,227.5h1.3v1.0h-1.3zM317.1,227.6h1.3v1.0h-1.3zM315.5,228.4h1.3v1.0h-1.3zM309.9,228.5h1.3v1.0h-1.3zM316.1,229.8h1.3v1.0h-1.3zM305.6,227.9h1.3v1.0h-1.3zM320.3,225.7h1.3v1.0h-1.3zM311.9,228.6h1.3v1.0h-1.3zM312.9,228.5h1.3v1.0h-1.3zM310.2,229.7h1.3v1.0h-1.3zM310.6,228.2h1.3v1.0h-1.3zM304.8,228.0h1.3v1.0h-1.3zM318.7,227.7h1.3v1.0h-1.3zM319.4,228.9h1.3v1.0h-1.3z" fill="#3a8de0"/>
<path d="M304.7,228.5 L305.5,228.4 L306.2,228.2 L307.0,228.1 L307.8,228.0 L308.5,227.8 L309.3,227.7 L310.0,227.6 L310.8,227.4 L311.6,227.3 L312.3,227.1 L313.1,227.0 L313.9,226.8 L314.6,226.7 L315.4,226.5 L316.1,226.4 L316.9,226.2 L317.7,226.1 L318.4,225.9 L319.2,225.8 L319.9,225.6 L320.7,225.5 L321.5,225.3 L322.2,225.2 L323.0,225.0 L323.0,232.1 L322.2,232.0 L321.5,231.9 L320.7,231.7 L319.9,231.6 L319.2,231.5 L318.4,231.4 L317.7,231.3 L316.9,231.2 L316.1,231.0 L315.4,230.9 L314.6,230.8 L313.9,230.7 L313.1,230.6 L312.3,230.4 L311.6,230.3 L310.8,230.2 L310.0,230.0 L309.3,229.9 L308.5,229.8 L307.8,229.6 L307.0,229.5 L306.2,229.4 L305.5,229.2 L304.7,229.1Z" fill="#d7191c"/>
<path d="M304.7,228.6 L305.5,228.6 L306.2,228.6 L307.0,228.5 L307.8,228.5 L308.5,228.5 L309.3,228.5 L310.0,228.4 L310.8,228.4 L311.6,228.4 L312.3,228.4 L313.1,228.3 L313.9,228.3 L314.6,228.3 L315.4,228.2 L316.1,228.2 L316.9,228.2 L317.7,228.2 L318.4,228.2 L319.2,228.1 L319.9,228.1 L320.7,228.1 L321.5,228.1 L322.2,228.0 L323.0,228.0 L323.0,229.6 L322.2,229.6 L321.5,229.6 L320.7,229.5 L319.9,229.5 L319.2,229.5 L318.4,229.5 L317.7,229.4 L316.9,229.4 L316.1,229.4 L315.4,229.4 L314.6,229.3 L313.9,229.3 L313.1,229.3 L312.3,229.2 L311.6,229.2 L310.8,229.2 L310.0,229.2 L309.3,229.2 L308.5,229.1 L307.8,229.1 L307.0,229.1 L306.2,229.1 L305.5,229.0 L304.7,229.0Z" fill="#a01010"/>
<rect x="322" y="205" width="4.8" height="6.4" fill="#d7191c"/>
<rect x="322.6" y="206.5" width="3.4" height="3.2" fill="#901010"/>
<path d="M348.0,194.5 L349.1,194.2 L350.2,194.0 L351.2,193.7 L352.3,193.5 L353.4,193.2 L354.5,192.9 L355.6,192.7 L356.7,192.4 L357.8,192.2 L358.8,191.9 L359.9,191.7 L361.0,191.4 L362.1,191.7 L363.2,191.9 L364.2,192.2 L365.3,192.4 L366.4,192.7 L367.5,192.9 L368.6,193.2 L369.7,193.4 L370.8,193.7 L371.8,193.9 L372.9,194.2 L374.0,194.4 L374.0,195.6 L372.9,195.9 L371.8,196.1 L370.8,196.4 L369.7,196.7 L368.6,196.9 L367.5,197.2 L366.4,197.5 L365.3,197.7 L364.2,198.0 L363.2,198.3 L362.1,198.5 L361.0,198.8 L359.9,198.5 L358.8,198.2 L357.8,198.0 L356.7,197.7 L355.6,197.4 L354.5,197.2 L353.4,196.9 L352.3,196.6 L351.2,196.3 L350.2,196.1 L349.1,195.8 L348.0,195.5Z" fill="#f5821f"/>
<path d="M335.8,194.9h1.3v1.0h-1.3zM444.2,194.4h1.3v1.0h-1.3zM447.6,195.8h1.3v1.0h-1.3zM353.6,195.5h1.3v1.0h-1.3zM336.4,196.2h1.3v1.0h-1.3zM352.1,199.4h1.3v1.0h-1.3zM344.7,194.6h1.3v1.0h-1.3zM353.3,194.1h1.3v1.0h-1.3zM414.0,196.9h1.3v1.0h-1.3zM370.9,195.1h1.3v1.0h-1.3zM432.7,193.7h1.3v1.0h-1.3zM426.8,193.7h1.3v1.0h-1.3zM421.8,192.7h1.3v1.0h-1.3zM353.9,195.8h1.3v1.0h-1.3zM429.1,196.1h1.3v1.0h-1.3zM391.4,193.6h1.3v1.0h-1.3zM379.6,194.2h1.3v1.0h-1.3zM365.0,192.5h1.3v1.0h-1.3zM428.0,195.0h1.3v1.0h-1.3zM351.8,195.5h1.3v1.0h-1.3zM422.2,193.8h1.3v1.0h-1.3zM351.6,194.2h1.3v1.0h-1.3zM403.4,192.8h1.3v1.0h-1.3zM365.3,194.4h1.3v1.0h-1.3zM423.1,195.5h1.3v1.0h-1.3zM420.7,194.5h1.3v1.0h-1.3z" fill="#3a8de0"/>
<path d="M370.3,195.4h1.3v1.0h-1.3zM367.3,194.6h1.3v1.0h-1.3zM327.0,197.4h1.3v1.0h-1.3zM387.6,193.7h1.3v1.0h-1.3zM329.6,195.7h1.3v1.0h-1.3zM447.0,194.1h1.3v1.0h-1.3zM340.5,192.1h1.3v1.0h-1.3zM420.2,196.3h1.3v1.0h-1.3zM416.7,193.5h1.3v1.0h-1.3zM358.1,196.2h1.3v1.0h-1.3zM336.8,197.6h1.3v1.0h-1.3zM395.8,196.8h1.3v1.0h-1.3zM378.4,195.6h1.3v1.0h-1.3zM344.5,191.3h1.3v1.0h-1.3zM437.9,195.1h1.3v1.0h-1.3zM384.8,195.2h1.3v1.0h-1.3zM400.1,197.1h1.3v1.0h-1.3zM414.5,194.6h1.3v1.0h-1.3zM412.5,194.7h1.3v1.0h-1.3zM347.7,189.9h1.3v1.0h-1.3zM419.8,191.9h1.3v1.0h-1.3zM346.0,196.1h1.3v1.0h-1.3zM399.3,193.7h1.3v1.0h-1.3zM416.7,194.8h1.3v1.0h-1.3zM326.8,193.1h1.3v1.0h-1.3zM365.4,193.8h1.3v1.0h-1.3zM335.2,192.5h1.3v1.0h-1.3zM404.1,191.1h1.3v1.0h-1.3zM329.7,196.2h1.3v1.0h-1.3zM424.0,192.4h1.3v1.0h-1.3zM440.2,195.5h1.3v1.0h-1.3z" fill="#d7191c"/>
<path d="M388.2,196.0h1.3v1.0h-1.3zM338.7,190.2h1.3v1.0h-1.3zM327.3,194.5h1.3v1.0h-1.3zM347.1,196.3h1.3v1.0h-1.3zM418.4,192.7h1.3v1.0h-1.3zM385.7,195.3h1.3v1.0h-1.3zM434.0,193.2h1.3v1.0h-1.3zM416.5,195.5h1.3v1.0h-1.3zM401.7,197.6h1.3v1.0h-1.3zM415.3,195.6h1.3v1.0h-1.3zM326.6,196.9h1.3v1.0h-1.3zM382.5,194.7h1.3v1.0h-1.3zM357.8,194.4h1.3v1.0h-1.3zM342.3,198.7h1.3v1.0h-1.3zM366.0,194.1h1.3v1.0h-1.3zM389.6,196.6h1.3v1.0h-1.3zM373.3,191.7h1.3v1.0h-1.3zM345.4,193.5h1.3v1.0h-1.3zM385.4,193.6h1.3v1.0h-1.3zM375.3,197.0h1.3v1.0h-1.3zM339.2,192.7h1.3v1.0h-1.3zM417.9,196.2h1.3v1.0h-1.3zM409.9,192.5h1.3v1.0h-1.3zM378.2,194.0h1.3v1.0h-1.3zM432.6,194.1h1.3v1.0h-1.3zM382.0,193.7h1.3v1.0h-1.3zM341.2,191.3h1.3v1.0h-1.3zM432.8,194.1h1.3v1.0h-1.3zM396.3,196.3h1.3v1.0h-1.3zM379.4,196.4h1.3v1.0h-1.3zM334.2,191.7h1.3v1.0h-1.3zM382.3,190.7h1.3v1.0h-1.3zM444.3,197.1h1.3v1.0h-1.3zM444.1,193.5h1.3v1.0h-1.3zM366.8,196.1h1.3v1.0h-1.3zM444.7,194.7h1.3v1.0h-1.3zM351.2,193.2h1.3v1.0h-1.3zM337.0,194.2h1.3v1.0h-1.3zM431.9,195.1h1.3v1.0h-1.3zM327.2,191.1h1.3v1.0h-1.3zM393.2,192.4h1.3v1.0h-1.3zM386.3,195.7h1.3v1.0h-1.3zM362.9,192.4h1.3v1.0h-1.3zM334.8,195.1h1.3v1.0h-1.3zM439.3,194.4h1.3v1.0h-1.3zM402.7,194.5h1.3v1.0h-1.3zM347.8,196.0h1.3v1.0h-1.3zM412.5,197.7h1.3v1.0h-1.3zM438.8,194.3h1.3v1.0h-1.3zM367.9,196.0h1.3v1.0h-1.3zM380.9,193.2h1.3v1.0h-1.3zM378.5,191.8h1.3v1.0h-1.3zM380.8,194.9h1.3v1.0h-1.3zM427.6,193.4h1.3v1.0h-1.3zM450.5,194.3h1.3v1.0h-1.3zM447.3,192.4h1.3v1.0h-1.3zM375.0,193.5h1.3v1.0h-1.3zM355.2,195.0h1.3v1.0h-1.3zM444.3,194.8h1.3v1.0h-1.3zM393.7,193.4h1.3v1.0h-1.3zM336.7,192.6h1.3v1.0h-1.3zM433.8,194.4h1.3v1.0h-1.3zM388.1,195.7h1.3v1.0h-1.3zM423.2,194.4h1.3v1.0h-1.3zM365.5,194.5h1.3v1.0h-1.3zM373.1,195.8h1.3v1.0h-1.3zM387.7,193.4h1.3v1.0h-1.3zM359.4,192.0h1.3v1.0h-1.3zM379.4,195.0h1.3v1.0h-1.3zM411.1,194.8h1.3v1.0h-1.3zM331.7,195.6h1.3v1.0h-1.3zM407.1,195.3h1.3v1.0h-1.3zM406.3,194.4h1.3v1.0h-1.3zM425.1,195.5h1.3v1.0h-1.3zM427.0,192.3h1.3v1.0h-1.3zM328.9,195.6h1.3v1.0h-1.3zM446.8,197.1h1.3v1.0h-1.3zM375.6,191.6h1.3v1.0h-1.3zM373.8,192.7h1.3v1.0h-1.3zM436.8,191.7h1.3v1.0h-1.3zM436.5,194.8h1.3v1.0h-1.3zM450.6,197.0h1.3v1.0h-1.3zM433.5,193.3h1.3v1.0h-1.3zM409.0,194.9h1.3v1.0h-1.3zM367.2,194.5h1.3v1.0h-1.3zM442.1,194.9h1.3v1.0h-1.3zM326.4,195.8h1.3v1.0h-1.3zM364.8,194.1h1.3v1.0h-1.3zM327.3,196.2h1.3v1.0h-1.3zM416.0,192.4h1.3v1.0h-1.3zM391.2,196.8h1.3v1.0h-1.3zM414.2,194.4h1.3v1.0h-1.3zM397.1,193.5h1.3v1.0h-1.3zM340.9,196.8h1.3v1.0h-1.3zM439.4,195.7h1.3v1.0h-1.3z" fill="#44d62c"/>
<path d="M372.5,197.8h1.3v1.0h-1.3zM431.5,196.3h1.3v1.0h-1.3zM336.3,190.1h1.3v1.0h-1.3zM448.4,195.1h1.3v1.0h-1.3zM332.3,195.3h1.3v1.0h-1.3zM399.5,193.6h1.3v1.0h-1.3zM379.5,196.4h1.3v1.0h-1.3zM337.5,192.3h1.3v1.0h-1.3zM408.9,195.8h1.3v1.0h-1.3zM350.3,195.1h1.3v1.0h-1.3zM354.3,192.5h1.3v1.0h-1.3zM406.9,195.3h1.3v1.0h-1.3zM400.3,197.4h1.3v1.0h-1.3zM383.2,195.9h1.3v1.0h-1.3zM371.8,195.4h1.3v1.0h-1.3zM399.2,194.3h1.3v1.0h-1.3zM439.6,192.7h1.3v1.0h-1.3zM446.8,196.2h1.3v1.0h-1.3zM421.9,192.9h1.3v1.0h-1.3zM354.9,199.3h1.3v1.0h-1.3zM389.0,195.6h1.3v1.0h-1.3zM349.2,199.4h1.3v1.0h-1.3zM371.8,198.5h1.3v1.0h-1.3zM389.9,194.5h1.3v1.0h-1.3zM342.2,195.1h1.3v1.0h-1.3zM351.9,194.8h1.3v1.0h-1.3zM366.4,198.2h1.3v1.0h-1.3zM421.1,194.3h1.3v1.0h-1.3zM412.2,193.9h1.3v1.0h-1.3zM382.1,196.5h1.3v1.0h-1.3zM426.1,193.0h1.3v1.0h-1.3zM449.0,193.5h1.3v1.0h-1.3zM391.6,192.5h1.3v1.0h-1.3zM437.8,194.6h1.3v1.0h-1.3zM439.6,192.4h1.3v1.0h-1.3zM401.3,193.4h1.3v1.0h-1.3zM394.5,192.5h1.3v1.0h-1.3zM335.2,191.3h1.3v1.0h-1.3zM411.3,196.2h1.3v1.0h-1.3zM403.3,192.6h1.3v1.0h-1.3zM443.4,193.8h1.3v1.0h-1.3zM336.1,192.3h1.3v1.0h-1.3zM450.9,194.0h1.3v1.0h-1.3zM449.9,195.2h1.3v1.0h-1.3zM340.9,196.4h1.3v1.0h-1.3zM410.0,195.2h1.3v1.0h-1.3zM377.5,195.4h1.3v1.0h-1.3zM420.9,195.0h1.3v1.0h-1.3zM350.9,192.8h1.3v1.0h-1.3zM418.2,194.7h1.3v1.0h-1.3zM382.1,195.7h1.3v1.0h-1.3zM329.9,194.2h1.3v1.0h-1.3zM359.8,196.5h1.3v1.0h-1.3zM333.7,194.9h1.3v1.0h-1.3zM376.1,195.8h1.3v1.0h-1.3zM332.3,194.2h1.3v1.0h-1.3zM326.8,194.2h1.3v1.0h-1.3zM335.7,193.8h1.3v1.0h-1.3zM337.2,195.2h1.3v1.0h-1.3zM405.5,195.4h1.3v1.0h-1.3zM380.2,193.9h1.3v1.0h-1.3zM402.8,191.9h1.3v1.0h-1.3zM424.4,194.3h1.3v1.0h-1.3zM416.1,194.9h1.3v1.0h-1.3zM384.7,195.4h1.3v1.0h-1.3zM396.3,194.9h1.3v1.0h-1.3zM424.2,191.9h1.3v1.0h-1.3zM378.9,194.8h1.3v1.0h-1.3zM382.9,196.1h1.3v1.0h-1.3zM373.6,192.0h1.3v1.0h-1.3zM389.8,196.0h1.3v1.0h-1.3zM418.5,192.3h1.3v1.0h-1.3zM344.3,191.2h1.3v1.0h-1.3zM350.7,191.0h1.3v1.0h-1.3zM390.6,193.9h1.3v1.0h-1.3zM401.8,196.1h1.3v1.0h-1.3zM362.2,190.9h1.3v1.0h-1.3zM388.8,191.3h1.3v1.0h-1.3zM366.8,193.2h1.3v1.0h-1.3zM445.7,194.4h1.3v1.0h-1.3zM407.4,192.5h1.3v1.0h-1.3zM367.1,194.1h1.3v1.0h-1.3zM371.0,194.2h1.3v1.0h-1.3zM432.4,195.2h1.3v1.0h-1.3zM353.4,195.5h1.3v1.0h-1.3zM363.9,194.9h1.3v1.0h-1.3zM442.6,195.9h1.3v1.0h-1.3zM403.4,193.8h1.3v1.0h-1.3zM391.5,193.7h1.3v1.0h-1.3zM410.7,193.9h1.3v1.0h-1.3zM391.0,192.1h1.3v1.0h-1.3zM377.2,197.1h1.3v1.0h-1.3zM380.0,195.0h1.3v1.0h-1.3zM391.7,195.5h1.3v1.0h-1.3zM390.5,192.3h1.3v1.0h-1.3zM427.0,193.5h1.3v1.0h-1.3zM343.9,191.5h1.3v1.0h-1.3zM413.3,195.7h1.3v1.0h-1.3zM403.9,195.4h1.3v1.0h-1.3zM437.5,193.5h1.3v1.0h-1.3zM440.6,193.7h1.3v1.0h-1.3zM401.1,192.4h1.3v1.0h-1.3zM348.5,197.2h1.3v1.0h-1.3zM432.7,193.9h1.3v1.0h-1.3zM436.3,194.9h1.3v1.0h-1.3zM401.9,194.8h1.3v1.0h-1.3zM334.7,191.6h1.3v1.0h-1.3zM343.4,195.0h1.3v1.0h-1.3zM359.0,193.6h1.3v1.0h-1.3zM361.7,194.3h1.3v1.0h-1.3zM444.5,195.0h1.3v1.0h-1.3zM392.4,194.9h1.3v1.0h-1.3zM363.0,193.9h1.3v1.0h-1.3zM433.4,192.6h1.3v1.0h-1.3zM376.8,193.4h1.3v1.0h-1.3zM442.7,193.1h1.3v1.0h-1.3zM416.6,196.2h1.3v1.0h-1.3zM374.7,196.5h1.3v1.0h-1.3zM368.6,192.2h1.3v1.0h-1.3zM370.1,194.1h1.3v1.0h-1.3zM417.9,194.6h1.3v1.0h-1.3zM327.7,191.7h1.3v1.0h-1.3zM397.6,194.4h1.3v1.0h-1.3zM373.5,194.7h1.3v1.0h-1.3zM425.8,195.9h1.3v1.0h-1.3zM351.1,198.9h1.3v1.0h-1.3zM375.9,192.0h1.3v1.0h-1.3zM393.7,195.8h1.3v1.0h-1.3zM433.4,195.0h1.3v1.0h-1.3zM427.0,196.8h1.3v1.0h-1.3zM402.4,193.0h1.3v1.0h-1.3zM371.8,194.2h1.3v1.0h-1.3zM388.4,196.7h1.3v1.0h-1.3zM426.7,192.9h1.3v1.0h-1.3zM388.8,195.1h1.3v1.0h-1.3zM384.9,196.7h1.3v1.0h-1.3zM375.1,194.8h1.3v1.0h-1.3zM336.4,192.5h1.3v1.0h-1.3zM440.8,195.9h1.3v1.0h-1.3zM381.5,195.4h1.3v1.0h-1.3zM388.2,195.0h1.3v1.0h-1.3zM383.2,192.9h1.3v1.0h-1.3zM415.3,194.3h1.3v1.0h-1.3zM353.8,194.4h1.3v1.0h-1.3zM446.4,193.7h1.3v1.0h-1.3zM395.1,193.2h1.3v1.0h-1.3zM450.2,195.1h1.3v1.0h-1.3zM341.6,195.6h1.3v1.0h-1.3zM440.0,191.8h1.3v1.0h-1.3zM357.5,194.3h1.3v1.0h-1.3zM437.4,192.7h1.3v1.0h-1.3zM377.0,197.7h1.3v1.0h-1.3zM422.8,194.7h1.3v1.0h-1.3zM435.6,193.2h1.3v1.0h-1.3zM362.5,192.9h1.3v1.0h-1.3zM367.6,193.7h1.3v1.0h-1.3zM426.9,194.3h1.3v1.0h-1.3zM341.5,194.4h1.3v1.0h-1.3zM370.2,197.4h1.3v1.0h-1.3zM428.1,193.5h1.3v1.0h-1.3zM370.2,196.0h1.3v1.0h-1.3zM375.7,195.9h1.3v1.0h-1.3zM343.1,199.1h1.3v1.0h-1.3zM417.8,194.3h1.3v1.0h-1.3zM357.5,194.8h1.3v1.0h-1.3zM414.8,194.7h1.3v1.0h-1.3zM407.3,194.9h1.3v1.0h-1.3zM343.6,194.7h1.3v1.0h-1.3zM419.7,196.2h1.3v1.0h-1.3zM400.7,195.4h1.3v1.0h-1.3zM418.8,196.3h1.3v1.0h-1.3zM354.8,189.9h1.3v1.0h-1.3zM424.6,195.3h1.3v1.0h-1.3zM428.5,195.7h1.3v1.0h-1.3zM349.8,195.7h1.3v1.0h-1.3zM394.6,198.0h1.3v1.0h-1.3zM392.9,191.3h1.3v1.0h-1.3zM394.8,196.4h1.3v1.0h-1.3z" fill="#f5821f"/>
<path d="M326.8,194.2 L332.0,193.4 L337.2,193.2 L342.4,193.3 L347.6,193.3 L352.8,193.4 L358.1,193.4 L363.3,193.4 L368.5,193.5 L373.7,193.6 L378.9,193.8 L384.1,194.0 L389.3,194.0 L394.5,194.0 L399.7,194.0 L404.9,194.0 L410.1,194.0 L415.3,194.0 L420.6,194.0 L425.8,194.0 L431.0,194.0 L436.2,193.8 L441.4,193.6 L446.6,193.6 L451.8,194.5 L451.8,195.5 L446.6,196.4 L441.4,196.4 L436.2,196.2 L431.0,196.1 L425.8,196.1 L420.6,196.1 L415.3,196.1 L410.1,196.1 L404.9,196.1 L399.7,196.1 L394.5,196.1 L389.3,196.1 L384.1,196.1 L378.9,196.3 L373.7,196.5 L368.5,196.6 L363.3,196.7 L358.1,196.7 L352.8,196.8 L347.6,196.8 L342.4,196.9 L337.2,197.0 L332.0,196.8 L326.8,195.8Z" fill="#44d62c"/>
<path d="M326.8,194.7 L332.0,194.7 L337.2,194.7 L342.4,194.7 L347.6,194.7 L352.8,194.7 L358.1,194.7 L363.3,194.7 L368.5,194.7 L373.7,194.7 L378.9,194.7 L384.1,194.7 L389.3,194.7 L394.5,194.7 L399.7,194.7 L404.9,194.7 L410.1,194.7 L415.3,194.7 L420.6,194.7 L425.8,194.7 L431.0,194.7 L436.2,194.7 L441.4,194.7 L446.6,194.7 L451.8,194.7 L451.8,195.3 L446.6,195.3 L441.4,195.3 L436.2,195.3 L431.0,195.3 L425.8,195.3 L420.6,195.3 L415.3,195.3 L410.1,195.3 L404.9,195.3 L399.7,195.3 L394.5,195.3 L389.3,195.3 L384.1,195.3 L378.9,195.3 L373.7,195.3 L368.5,195.3 L363.3,195.3 L358.1,195.3 L352.8,195.3 L347.6,195.3 L342.4,195.3 L337.2,195.3 L332.0,195.3 L326.8,195.3Z" fill="#1f8a14"/>
<path d="M337.0,193.4h1.2v1.2h-1.2zM338.9,192.0h1.2v1.2h-1.2zM330.5,193.2h1.2v1.2h-1.2zM335.2,193.4h1.2v1.2h-1.2zM329.6,191.9h1.2v1.2h-1.2zM328.5,192.2h1.2v1.2h-1.2zM331.7,191.5h1.2v1.2h-1.2zM334.1,194.8h1.2v1.2h-1.2zM335.4,197.3h1.2v1.2h-1.2zM327.7,194.8h1.2v1.2h-1.2zM326.7,195.3h1.2v1.2h-1.2zM338.5,194.7h1.2v1.2h-1.2zM342.4,194.9h1.2v1.2h-1.2zM333.1,197.4h1.2v1.2h-1.2zM338.4,192.8h1.2v1.2h-1.2zM326.6,198.5h1.2v1.2h-1.2zM341.6,197.5h1.2v1.2h-1.2zM339.6,192.8h1.2v1.2h-1.2zM340.3,191.1h1.2v1.2h-1.2zM340.7,195.9h1.2v1.2h-1.2zM328.6,193.7h1.2v1.2h-1.2zM334.7,194.6h1.2v1.2h-1.2zM327.9,192.6h1.2v1.2h-1.2zM328.2,194.3h1.2v1.2h-1.2zM339.7,195.4h1.2v1.2h-1.2zM337.0,192.9h1.2v1.2h-1.2zM327.8,193.7h1.2v1.2h-1.2zM326.6,194.6h1.2v1.2h-1.2zM331.2,196.8h1.2v1.2h-1.2z" fill="#d7191c"/>
<path d="M341.5,192.5h1.2v1.2h-1.2zM334.7,191.4h1.2v1.2h-1.2zM340.9,197.0h1.2v1.2h-1.2zM329.8,192.5h1.2v1.2h-1.2zM329.2,195.0h1.2v1.2h-1.2zM327.1,191.7h1.2v1.2h-1.2zM336.8,193.3h1.2v1.2h-1.2zM340.8,197.0h1.2v1.2h-1.2zM334.9,197.8h1.2v1.2h-1.2zM331.0,195.7h1.2v1.2h-1.2z" fill="#a01010"/>
<path d="M335.9,196.1h1.2v1.2h-1.2zM331.1,196.2h1.2v1.2h-1.2zM338.6,194.4h1.2v1.2h-1.2zM341.8,195.4h1.2v1.2h-1.2zM331.2,192.7h1.2v1.2h-1.2zM339.4,191.9h1.2v1.2h-1.2zM331.7,198.1h1.2v1.2h-1.2zM334.9,193.1h1.2v1.2h-1.2zM328.2,192.5h1.2v1.2h-1.2zM339.1,198.7h1.2v1.2h-1.2zM327.7,198.4h1.2v1.2h-1.2zM336.0,199.0h1.2v1.2h-1.2zM327.2,191.2h1.2v1.2h-1.2zM332.5,197.4h1.2v1.2h-1.2zM340.8,198.7h1.2v1.2h-1.2zM330.7,193.5h1.2v1.2h-1.2z" fill="#f5821f"/>
<path d="M336.7,195.0h1.2v1.2h-1.2zM335.2,194.6h1.2v1.2h-1.2zM328.4,191.4h1.2v1.2h-1.2zM333.7,197.5h1.2v1.2h-1.2zM329.8,192.5h1.2v1.2h-1.2z" fill="#44d62c"/>
<path d="M405.1,219.7h1.3v1.0h-1.3zM396.5,219.9h1.3v1.0h-1.3zM395.9,219.4h1.3v1.0h-1.3zM396.8,220.4h1.3v1.0h-1.3zM405.2,223.1h1.3v1.0h-1.3zM412.8,222.3h1.3v1.0h-1.3zM389.5,220.8h1.3v1.0h-1.3zM398.6,220.4h1.3v1.0h-1.3zM396.4,219.2h1.3v1.0h-1.3zM405.7,221.1h1.3v1.0h-1.3zM418.6,219.6h1.3v1.0h-1.3zM413.9,221.0h1.3v1.0h-1.3zM416.1,222.5h1.3v1.0h-1.3zM416.8,220.4h1.3v1.0h-1.3zM416.8,220.2h1.3v1.0h-1.3zM404.8,220.5h1.3v1.0h-1.3zM416.9,222.3h1.3v1.0h-1.3z" fill="#44d62c"/>
<path d="M416.9,220.3h1.3v1.0h-1.3zM419.1,220.5h1.3v1.0h-1.3zM404.5,221.5h1.3v1.0h-1.3zM390.2,220.0h1.3v1.0h-1.3zM418.6,220.6h1.3v1.0h-1.3zM408.7,220.9h1.3v1.0h-1.3zM405.3,221.9h1.3v1.0h-1.3zM406.6,220.4h1.3v1.0h-1.3zM414.7,221.7h1.3v1.0h-1.3zM412.4,221.4h1.3v1.0h-1.3zM413.9,219.9h1.3v1.0h-1.3zM416.3,221.9h1.3v1.0h-1.3zM412.2,222.0h1.3v1.0h-1.3zM391.7,221.0h1.3v1.0h-1.3zM395.2,221.0h1.3v1.0h-1.3zM390.8,221.5h1.3v1.0h-1.3zM401.0,221.5h1.3v1.0h-1.3zM398.8,222.8h1.3v1.0h-1.3zM396.7,222.5h1.3v1.0h-1.3zM405.2,220.6h1.3v1.0h-1.3zM395.8,220.0h1.3v1.0h-1.3zM399.7,222.3h1.3v1.0h-1.3zM402.9,219.3h1.3v1.0h-1.3zM416.2,220.3h1.3v1.0h-1.3zM401.0,220.4h1.3v1.0h-1.3zM403.9,220.7h1.3v1.0h-1.3zM419.0,221.4h1.3v1.0h-1.3zM420.3,221.5h1.3v1.0h-1.3zM397.8,220.3h1.3v1.0h-1.3zM391.4,219.7h1.3v1.0h-1.3zM411.5,220.3h1.3v1.0h-1.3zM403.6,221.6h1.3v1.0h-1.3zM418.8,220.4h1.3v1.0h-1.3z" fill="#f5821f"/>
<path d="M410.0,221.2 L410.5,221.2 L411.0,221.1 L411.4,221.1 L411.9,221.0 L412.4,221.0 L412.9,220.9 L413.4,220.9 L413.9,220.8 L414.4,220.8 L414.8,220.7 L415.3,220.7 L415.8,220.6 L416.3,220.6 L416.8,220.5 L417.2,220.5 L417.7,220.4 L418.2,220.4 L418.7,220.4 L419.2,220.3 L419.7,220.4 L420.2,220.6 L420.6,220.7 L421.1,220.9 L421.6,221.0 L421.6,222.0 L421.1,222.1 L420.6,222.3 L420.2,222.4 L419.7,222.6 L419.2,222.7 L418.7,222.6 L418.2,222.6 L417.7,222.6 L417.2,222.5 L416.8,222.5 L416.3,222.4 L415.8,222.4 L415.3,222.3 L414.8,222.3 L414.4,222.2 L413.9,222.2 L413.4,222.1 L412.9,222.1 L412.4,222.0 L411.9,222.0 L411.4,221.9 L411.0,221.9 L410.5,221.8 L410.0,221.8Z" fill="#44d62c"/>
<path d="M410.0,221.3 L410.5,221.3 L411.0,221.3 L411.4,221.3 L411.9,221.3 L412.4,221.3 L412.9,221.3 L413.4,221.3 L413.9,221.3 L414.4,221.3 L414.8,221.3 L415.3,221.3 L415.8,221.2 L416.3,221.2 L416.8,221.2 L417.2,221.2 L417.7,221.2 L418.2,221.2 L418.7,221.2 L419.2,221.2 L419.7,221.2 L420.2,221.2 L420.6,221.2 L421.1,221.2 L421.6,221.2 L421.6,221.8 L421.1,221.8 L420.6,221.8 L420.2,221.8 L419.7,221.8 L419.2,221.8 L418.7,221.8 L418.2,221.8 L417.7,221.8 L417.2,221.8 L416.8,221.8 L416.3,221.8 L415.8,221.8 L415.3,221.7 L414.8,221.7 L414.4,221.7 L413.9,221.7 L413.4,221.7 L412.9,221.7 L412.4,221.7 L411.9,221.7 L411.4,221.7 L411.0,221.7 L410.5,221.7 L410.0,221.7Z" fill="#1f6a14"/>
<path d="M375.9,247.5h1.3v1.0h-1.3zM323.3,253.6h1.3v1.0h-1.3zM361.0,248.2h1.3v1.0h-1.3zM356.3,249.4h1.3v1.0h-1.3zM381.6,250.9h1.3v1.0h-1.3zM329.7,247.9h1.3v1.0h-1.3zM374.4,249.2h1.3v1.0h-1.3zM380.3,250.1h1.3v1.0h-1.3zM331.9,243.8h1.3v1.0h-1.3zM327.7,245.3h1.3v1.0h-1.3zM367.3,250.9h1.3v1.0h-1.3zM353.5,247.6h1.3v1.0h-1.3zM383.2,248.1h1.3v1.0h-1.3zM372.0,250.4h1.3v1.0h-1.3zM391.7,249.8h1.3v1.0h-1.3zM343.5,245.8h1.3v1.0h-1.3zM360.1,245.6h1.3v1.0h-1.3zM336.7,247.6h1.3v1.0h-1.3zM390.1,247.7h1.3v1.0h-1.3zM392.3,246.2h1.3v1.0h-1.3zM375.2,250.1h1.3v1.0h-1.3zM358.7,251.4h1.3v1.0h-1.3zM377.8,246.2h1.3v1.0h-1.3zM392.3,247.5h1.3v1.0h-1.3zM353.9,250.1h1.3v1.0h-1.3zM347.1,247.2h1.3v1.0h-1.3zM390.4,248.7h1.3v1.0h-1.3zM354.4,248.4h1.3v1.0h-1.3zM381.8,249.9h1.3v1.0h-1.3zM396.2,249.7h1.3v1.0h-1.3zM393.7,247.6h1.3v1.0h-1.3zM345.2,248.6h1.3v1.0h-1.3z" fill="#44d62c"/>
<path d="M343.3,243.9h1.3v1.0h-1.3zM364.3,247.6h1.3v1.0h-1.3zM383.4,249.3h1.3v1.0h-1.3zM366.4,249.0h1.3v1.0h-1.3zM383.5,247.4h1.3v1.0h-1.3zM346.1,250.3h1.3v1.0h-1.3zM343.9,247.5h1.3v1.0h-1.3zM347.3,247.9h1.3v1.0h-1.3zM393.5,246.8h1.3v1.0h-1.3zM363.0,245.1h1.3v1.0h-1.3zM373.8,249.9h1.3v1.0h-1.3zM334.2,245.4h1.3v1.0h-1.3zM394.6,249.4h1.3v1.0h-1.3zM367.0,247.6h1.3v1.0h-1.3zM349.5,250.1h1.3v1.0h-1.3zM393.3,248.0h1.3v1.0h-1.3zM331.8,249.7h1.3v1.0h-1.3zM326.8,246.8h1.3v1.0h-1.3zM352.4,245.1h1.3v1.0h-1.3zM334.6,248.0h1.3v1.0h-1.3zM366.7,246.3h1.3v1.0h-1.3zM375.0,245.5h1.3v1.0h-1.3zM335.1,244.9h1.3v1.0h-1.3zM340.9,249.7h1.3v1.0h-1.3zM333.7,248.1h1.3v1.0h-1.3zM358.0,244.2h1.3v1.0h-1.3zM391.2,248.0h1.3v1.0h-1.3zM385.3,249.3h1.3v1.0h-1.3zM335.3,244.8h1.3v1.0h-1.3zM330.3,248.5h1.3v1.0h-1.3zM379.3,250.4h1.3v1.0h-1.3zM376.6,247.0h1.3v1.0h-1.3z" fill="#d7191c"/>
<path d="M362.9,247.7h1.3v1.0h-1.3zM359.6,247.9h1.3v1.0h-1.3zM365.5,248.5h1.3v1.0h-1.3zM358.8,251.8h1.3v1.0h-1.3zM354.9,245.0h1.3v1.0h-1.3zM338.4,250.1h1.3v1.0h-1.3zM368.1,250.0h1.3v1.0h-1.3zM328.6,246.4h1.3v1.0h-1.3zM386.1,249.0h1.3v1.0h-1.3zM337.7,245.1h1.3v1.0h-1.3zM367.7,246.8h1.3v1.0h-1.3zM340.8,246.6h1.3v1.0h-1.3zM354.8,248.5h1.3v1.0h-1.3zM336.2,250.0h1.3v1.0h-1.3zM365.8,249.7h1.3v1.0h-1.3zM361.7,246.1h1.3v1.0h-1.3zM329.4,248.8h1.3v1.0h-1.3zM333.8,245.1h1.3v1.0h-1.3zM326.8,253.7h1.3v1.0h-1.3zM336.3,248.0h1.3v1.0h-1.3zM373.1,250.4h1.3v1.0h-1.3zM351.3,250.4h1.3v1.0h-1.3zM375.7,248.9h1.3v1.0h-1.3zM327.1,254.1h1.3v1.0h-1.3zM322.8,250.3h1.3v1.0h-1.3zM350.0,245.7h1.3v1.0h-1.3zM335.3,247.8h1.3v1.0h-1.3zM383.3,247.1h1.3v1.0h-1.3zM390.2,246.4h1.3v1.0h-1.3zM395.2,247.4h1.3v1.0h-1.3zM346.6,247.2h1.3v1.0h-1.3zM350.4,252.6h1.3v1.0h-1.3zM329.4,253.0h1.3v1.0h-1.3zM379.4,250.1h1.3v1.0h-1.3zM377.8,246.5h1.3v1.0h-1.3zM375.6,250.5h1.3v1.0h-1.3zM347.3,250.4h1.3v1.0h-1.3zM381.7,249.4h1.3v1.0h-1.3zM347.8,245.8h1.3v1.0h-1.3zM377.1,247.9h1.3v1.0h-1.3zM381.3,249.3h1.3v1.0h-1.3zM366.7,245.9h1.3v1.0h-1.3zM345.3,246.7h1.3v1.0h-1.3zM370.9,247.7h1.3v1.0h-1.3zM373.4,247.4h1.3v1.0h-1.3zM353.9,246.0h1.3v1.0h-1.3zM394.0,247.1h1.3v1.0h-1.3zM350.5,250.6h1.3v1.0h-1.3z" fill="#3a8de0"/>
<path d="M342.4,243.8h1.3v1.0h-1.3zM375.5,245.5h1.3v1.0h-1.3zM393.3,246.8h1.3v1.0h-1.3zM325.8,248.2h1.3v1.0h-1.3zM346.2,248.6h1.3v1.0h-1.3zM385.2,248.4h1.3v1.0h-1.3zM334.0,253.5h1.3v1.0h-1.3zM358.9,246.1h1.3v1.0h-1.3zM372.1,244.4h1.3v1.0h-1.3zM329.3,243.9h1.3v1.0h-1.3zM372.8,250.4h1.3v1.0h-1.3zM329.0,249.6h1.3v1.0h-1.3zM388.6,247.5h1.3v1.0h-1.3zM322.8,242.3h1.3v1.0h-1.3zM378.2,248.4h1.3v1.0h-1.3zM355.0,247.2h1.3v1.0h-1.3zM362.3,249.3h1.3v1.0h-1.3zM389.2,249.3h1.3v1.0h-1.3zM380.0,249.5h1.3v1.0h-1.3zM382.4,245.7h1.3v1.0h-1.3zM356.0,251.5h1.3v1.0h-1.3zM352.7,249.6h1.3v1.0h-1.3zM387.5,250.4h1.3v1.0h-1.3zM393.9,247.8h1.3v1.0h-1.3zM351.8,246.1h1.3v1.0h-1.3zM339.1,245.0h1.3v1.0h-1.3zM378.7,247.2h1.3v1.0h-1.3zM366.0,248.8h1.3v1.0h-1.3zM366.4,246.5h1.3v1.0h-1.3zM349.6,245.9h1.3v1.0h-1.3zM331.0,244.3h1.3v1.0h-1.3zM384.9,246.6h1.3v1.0h-1.3zM377.5,248.4h1.3v1.0h-1.3zM356.7,250.7h1.3v1.0h-1.3zM330.4,251.3h1.3v1.0h-1.3zM366.8,249.2h1.3v1.0h-1.3zM347.0,243.7h1.3v1.0h-1.3zM378.3,248.7h1.3v1.0h-1.3zM330.9,248.2h1.3v1.0h-1.3zM336.9,245.4h1.3v1.0h-1.3zM328.5,242.3h1.3v1.0h-1.3zM348.5,253.1h1.3v1.0h-1.3zM333.3,250.0h1.3v1.0h-1.3zM354.9,247.1h1.3v1.0h-1.3zM357.3,249.0h1.3v1.0h-1.3zM386.8,249.2h1.3v1.0h-1.3zM370.2,247.8h1.3v1.0h-1.3zM359.5,248.4h1.3v1.0h-1.3zM335.8,249.9h1.3v1.0h-1.3zM382.5,247.2h1.3v1.0h-1.3zM363.4,245.5h1.3v1.0h-1.3zM373.1,247.4h1.3v1.0h-1.3zM392.9,247.5h1.3v1.0h-1.3zM343.8,252.4h1.3v1.0h-1.3zM328.1,248.4h1.3v1.0h-1.3zM355.7,249.2h1.3v1.0h-1.3zM337.1,251.0h1.3v1.0h-1.3zM374.5,251.5h1.3v1.0h-1.3zM349.3,250.5h1.3v1.0h-1.3zM323.4,248.4h1.3v1.0h-1.3zM380.7,248.7h1.3v1.0h-1.3zM322.3,246.9h1.3v1.0h-1.3zM334.0,251.8h1.3v1.0h-1.3zM358.4,249.0h1.3v1.0h-1.3zM349.5,248.2h1.3v1.0h-1.3zM373.2,248.0h1.3v1.0h-1.3zM360.0,245.7h1.3v1.0h-1.3zM363.5,247.6h1.3v1.0h-1.3zM379.8,245.8h1.3v1.0h-1.3zM374.3,250.3h1.3v1.0h-1.3zM338.2,253.5h1.3v1.0h-1.3zM382.2,246.4h1.3v1.0h-1.3zM371.7,244.9h1.3v1.0h-1.3zM327.8,253.6h1.3v1.0h-1.3zM325.3,248.4h1.3v1.0h-1.3zM323.3,247.2h1.3v1.0h-1.3zM385.9,249.1h1.3v1.0h-1.3zM332.4,247.7h1.3v1.0h-1.3zM376.3,250.0h1.3v1.0h-1.3zM371.3,247.2h1.3v1.0h-1.3zM361.1,249.2h1.3v1.0h-1.3zM325.5,242.9h1.3v1.0h-1.3zM335.9,246.0h1.3v1.0h-1.3zM363.4,252.3h1.3v1.0h-1.3zM323.2,247.6h1.3v1.0h-1.3zM369.4,246.2h1.3v1.0h-1.3zM378.7,247.7h1.3v1.0h-1.3zM334.5,247.4h1.3v1.0h-1.3zM327.2,247.6h1.3v1.0h-1.3zM395.6,248.8h1.3v1.0h-1.3zM357.5,249.9h1.3v1.0h-1.3zM363.5,246.5h1.3v1.0h-1.3zM351.6,245.5h1.3v1.0h-1.3zM355.6,248.8h1.3v1.0h-1.3zM330.3,242.4h1.3v1.0h-1.3zM357.1,252.8h1.3v1.0h-1.3zM328.9,250.7h1.3v1.0h-1.3zM390.6,246.7h1.3v1.0h-1.3zM385.8,250.5h1.3v1.0h-1.3zM355.0,245.5h1.3v1.0h-1.3zM393.1,247.2h1.3v1.0h-1.3zM366.5,247.7h1.3v1.0h-1.3zM374.2,246.5h1.3v1.0h-1.3zM327.5,247.8h1.3v1.0h-1.3zM394.2,249.1h1.3v1.0h-1.3zM341.0,247.9h1.3v1.0h-1.3zM352.7,246.5h1.3v1.0h-1.3zM343.0,245.2h1.3v1.0h-1.3zM337.8,247.5h1.3v1.0h-1.3zM354.3,247.3h1.3v1.0h-1.3zM335.8,249.0h1.3v1.0h-1.3zM364.3,250.7h1.3v1.0h-1.3zM324.0,250.8h1.3v1.0h-1.3zM364.2,251.9h1.3v1.0h-1.3zM323.3,241.8h1.3v1.0h-1.3zM358.7,249.3h1.3v1.0h-1.3zM323.7,248.6h1.3v1.0h-1.3zM342.8,248.5h1.3v1.0h-1.3zM379.9,249.0h1.3v1.0h-1.3zM350.3,246.5h1.3v1.0h-1.3zM324.0,243.4h1.3v1.0h-1.3zM344.2,249.2h1.3v1.0h-1.3zM357.0,248.3h1.3v1.0h-1.3zM379.9,248.0h1.3v1.0h-1.3zM382.3,245.3h1.3v1.0h-1.3zM396.4,248.2h1.3v1.0h-1.3zM327.0,243.9h1.3v1.0h-1.3zM329.3,248.5h1.3v1.0h-1.3zM364.7,249.9h1.3v1.0h-1.3zM379.8,247.0h1.3v1.0h-1.3zM396.6,247.2h1.3v1.0h-1.3zM337.4,250.9h1.3v1.0h-1.3zM371.1,246.9h1.3v1.0h-1.3zM396.1,246.6h1.3v1.0h-1.3zM336.5,249.7h1.3v1.0h-1.3zM353.1,249.9h1.3v1.0h-1.3zM387.8,246.1h1.3v1.0h-1.3zM372.7,248.3h1.3v1.0h-1.3zM390.7,248.4h1.3v1.0h-1.3zM333.4,247.5h1.3v1.0h-1.3zM324.2,244.4h1.3v1.0h-1.3zM383.1,248.9h1.3v1.0h-1.3zM335.3,251.0h1.3v1.0h-1.3zM360.3,249.2h1.3v1.0h-1.3zM334.6,250.9h1.3v1.0h-1.3zM335.3,243.1h1.3v1.0h-1.3zM329.8,249.0h1.3v1.0h-1.3zM324.2,254.5h1.3v1.0h-1.3zM358.3,243.7h1.3v1.0h-1.3zM328.6,246.9h1.3v1.0h-1.3zM385.7,246.2h1.3v1.0h-1.3zM354.7,247.0h1.3v1.0h-1.3zM347.7,248.0h1.3v1.0h-1.3zM348.0,247.7h1.3v1.0h-1.3zM336.0,250.2h1.3v1.0h-1.3zM325.8,249.0h1.3v1.0h-1.3zM391.2,246.1h1.3v1.0h-1.3zM371.4,248.1h1.3v1.0h-1.3zM359.5,246.0h1.3v1.0h-1.3zM381.7,247.8h1.3v1.0h-1.3zM395.8,249.7h1.3v1.0h-1.3zM322.8,242.6h1.3v1.0h-1.3zM326.1,246.4h1.3v1.0h-1.3zM346.3,252.3h1.3v1.0h-1.3zM375.6,245.4h1.3v1.0h-1.3zM323.1,249.1h1.3v1.0h-1.3zM330.7,247.3h1.3v1.0h-1.3zM391.7,248.2h1.3v1.0h-1.3zM341.7,250.0h1.3v1.0h-1.3zM325.6,248.3h1.3v1.0h-1.3zM349.7,245.8h1.3v1.0h-1.3zM334.0,243.9h1.3v1.0h-1.3zM328.9,246.5h1.3v1.0h-1.3zM378.4,248.6h1.3v1.0h-1.3zM363.0,247.7h1.3v1.0h-1.3zM380.6,248.6h1.3v1.0h-1.3zM365.0,246.8h1.3v1.0h-1.3zM396.5,248.3h1.3v1.0h-1.3zM356.6,250.8h1.3v1.0h-1.3zM358.9,248.0h1.3v1.0h-1.3zM383.5,245.1h1.3v1.0h-1.3zM396.3,249.3h1.3v1.0h-1.3zM326.6,248.3h1.3v1.0h-1.3zM389.9,250.2h1.3v1.0h-1.3zM365.1,247.4h1.3v1.0h-1.3zM325.6,249.6h1.3v1.0h-1.3zM353.4,247.3h1.3v1.0h-1.3zM326.4,243.0h1.3v1.0h-1.3zM338.5,242.9h1.3v1.0h-1.3zM386.5,245.2h1.3v1.0h-1.3zM322.5,245.8h1.3v1.0h-1.3zM338.9,248.7h1.3v1.0h-1.3zM348.1,247.7h1.3v1.0h-1.3zM329.3,245.2h1.3v1.0h-1.3zM348.9,247.0h1.3v1.0h-1.3zM331.5,253.8h1.3v1.0h-1.3zM350.3,251.9h1.3v1.0h-1.3zM361.8,247.2h1.3v1.0h-1.3zM366.3,249.5h1.3v1.0h-1.3zM332.8,250.5h1.3v1.0h-1.3zM357.3,247.0h1.3v1.0h-1.3zM340.3,251.8h1.3v1.0h-1.3zM322.7,248.2h1.3v1.0h-1.3zM346.1,249.8h1.3v1.0h-1.3zM330.2,248.0h1.3v1.0h-1.3zM367.9,247.7h1.3v1.0h-1.3zM378.0,248.9h1.3v1.0h-1.3zM329.6,245.6h1.3v1.0h-1.3zM380.1,249.6h1.3v1.0h-1.3zM325.3,253.0h1.3v1.0h-1.3zM338.0,246.3h1.3v1.0h-1.3zM343.4,250.2h1.3v1.0h-1.3zM354.4,251.7h1.3v1.0h-1.3zM380.5,246.8h1.3v1.0h-1.3zM394.4,248.0h1.3v1.0h-1.3zM376.6,248.5h1.3v1.0h-1.3zM378.9,245.6h1.3v1.0h-1.3zM359.2,247.6h1.3v1.0h-1.3z" fill="#f5821f"/>
<path d="M322.6,247.2 L325.7,245.9 L328.8,246.0 L331.9,246.4 L335.1,246.9 L338.2,247.2 L341.3,247.2 L344.4,247.1 L347.5,247.1 L350.6,247.1 L353.7,247.0 L356.8,247.0 L360.0,247.0 L363.1,246.9 L366.2,246.9 L369.3,246.9 L372.4,246.8 L375.5,246.8 L378.6,246.6 L381.7,246.5 L384.9,246.4 L388.0,246.3 L391.1,246.4 L394.2,247.1 L397.3,247.7 L397.3,248.7 L394.2,249.3 L391.1,249.9 L388.0,250.1 L384.9,250.0 L381.7,249.9 L378.6,249.8 L375.5,249.6 L372.4,249.6 L369.3,249.5 L366.2,249.5 L363.1,249.5 L360.0,249.4 L356.8,249.4 L353.7,249.4 L350.6,249.3 L347.5,249.3 L344.4,249.3 L341.3,249.2 L338.2,249.2 L335.1,249.6 L331.9,250.1 L328.8,250.6 L325.7,250.7 L322.6,249.2Z" fill="#f5821f" fill-opacity="0.8"/>
<path d="M382.0,248.1 L382.6,248.0 L383.3,248.0 L383.9,247.9 L384.6,247.8 L385.2,247.7 L385.8,247.7 L386.5,247.6 L387.1,247.5 L387.7,247.5 L388.4,247.4 L389.0,247.3 L389.6,247.2 L390.3,247.2 L390.9,247.1 L391.6,247.0 L392.2,247.0 L392.8,246.9 L393.5,247.1 L394.1,247.2 L394.8,247.4 L395.4,247.5 L396.0,247.7 L396.7,247.8 L397.3,248.0 L397.3,248.8 L396.7,249.0 L396.0,249.1 L395.4,249.3 L394.8,249.4 L394.1,249.6 L393.5,249.7 L392.8,249.9 L392.2,249.8 L391.6,249.8 L390.9,249.7 L390.3,249.6 L389.6,249.6 L389.0,249.5 L388.4,249.4 L387.7,249.3 L387.1,249.3 L386.5,249.2 L385.8,249.1 L385.2,249.1 L384.6,249.0 L383.9,248.9 L383.3,248.8 L382.6,248.8 L382.0,248.7Z" fill="#44d62c"/>
<path d="M322.6,250.2h1.2v1.2h-1.2zM336.3,247.1h1.2v1.2h-1.2zM325.4,251.2h1.2v1.2h-1.2zM328.5,254.8h1.2v1.2h-1.2zM327.2,254.8h1.2v1.2h-1.2zM326.2,244.6h1.2v1.2h-1.2zM326.9,245.6h1.2v1.2h-1.2zM327.2,248.5h1.2v1.2h-1.2zM324.7,247.9h1.2v1.2h-1.2zM334.2,253.8h1.2v1.2h-1.2zM329.0,253.7h1.2v1.2h-1.2zM328.6,249.5h1.2v1.2h-1.2zM334.0,242.3h1.2v1.2h-1.2zM335.1,254.5h1.2v1.2h-1.2zM337.1,250.7h1.2v1.2h-1.2zM335.8,246.9h1.2v1.2h-1.2zM327.2,253.8h1.2v1.2h-1.2zM333.8,251.5h1.2v1.2h-1.2zM327.9,253.2h1.2v1.2h-1.2z" fill="#d7191c"/>
<path d="M333.8,247.6h1.2v1.2h-1.2zM330.3,251.9h1.2v1.2h-1.2zM336.2,244.2h1.2v1.2h-1.2zM336.2,247.4h1.2v1.2h-1.2zM338.0,254.2h1.2v1.2h-1.2zM326.2,248.6h1.2v1.2h-1.2zM323.6,245.1h1.2v1.2h-1.2zM337.1,249.1h1.2v1.2h-1.2zM328.0,244.2h1.2v1.2h-1.2zM333.8,243.1h1.2v1.2h-1.2zM325.8,251.0h1.2v1.2h-1.2zM333.2,245.9h1.2v1.2h-1.2zM333.1,246.0h1.2v1.2h-1.2zM331.4,247.0h1.2v1.2h-1.2zM327.6,248.4h1.2v1.2h-1.2zM329.1,243.9h1.2v1.2h-1.2zM324.3,250.1h1.2v1.2h-1.2zM330.7,249.9h1.2v1.2h-1.2zM332.9,243.0h1.2v1.2h-1.2zM329.5,248.4h1.2v1.2h-1.2zM322.9,248.6h1.2v1.2h-1.2zM329.2,249.3h1.2v1.2h-1.2zM328.4,247.7h1.2v1.2h-1.2zM327.8,254.3h1.2v1.2h-1.2zM322.7,247.1h1.2v1.2h-1.2zM324.9,243.1h1.2v1.2h-1.2zM327.8,243.9h1.2v1.2h-1.2zM325.0,253.6h1.2v1.2h-1.2zM334.0,243.3h1.2v1.2h-1.2z" fill="#f5821f"/>
<path d="M331.0,249.5h1.2v1.2h-1.2zM337.7,246.5h1.2v1.2h-1.2zM324.9,243.8h1.2v1.2h-1.2zM330.6,254.2h1.2v1.2h-1.2zM333.0,250.8h1.2v1.2h-1.2zM337.6,250.6h1.2v1.2h-1.2zM330.6,250.2h1.2v1.2h-1.2zM333.3,247.3h1.2v1.2h-1.2zM331.5,244.3h1.2v1.2h-1.2zM336.0,248.7h1.2v1.2h-1.2zM325.5,243.4h1.2v1.2h-1.2zM325.4,248.0h1.2v1.2h-1.2zM329.0,253.1h1.2v1.2h-1.2z" fill="#44d62c"/>
<path d="M327.7,254.8h1.2v1.2h-1.2zM336.7,252.3h1.2v1.2h-1.2zM325.8,248.4h1.2v1.2h-1.2zM330.9,243.1h1.2v1.2h-1.2zM327.2,249.3h1.2v1.2h-1.2zM326.8,252.6h1.2v1.2h-1.2zM334.3,246.6h1.2v1.2h-1.2zM334.1,246.1h1.2v1.2h-1.2zM325.9,253.5h1.2v1.2h-1.2z" fill="#3a8de0"/>
<path d="M322.6,247.9 L323.2,247.7 L323.7,247.5 L324.3,247.3 L324.8,247.1 L325.4,247.0 L326.0,247.1 L326.5,247.1 L327.1,247.1 L327.6,247.2 L328.2,247.2 L328.7,247.3 L329.3,247.3 L329.9,247.4 L330.4,247.4 L331.0,247.5 L331.5,247.5 L332.1,247.6 L332.6,247.6 L333.2,247.7 L333.8,247.7 L334.3,247.8 L334.9,247.8 L335.4,247.9 L336.0,247.9 L336.0,248.5 L335.4,248.6 L334.9,248.6 L334.3,248.7 L333.8,248.7 L333.2,248.8 L332.6,248.8 L332.1,248.9 L331.5,248.9 L331.0,249.0 L330.4,249.0 L329.9,249.1 L329.3,249.1 L328.7,249.2 L328.2,249.2 L327.6,249.3 L327.1,249.3 L326.5,249.4 L326.0,249.4 L325.4,249.5 L324.8,249.3 L324.3,249.1 L323.7,248.9 L323.2,248.7 L322.6,248.5Z" fill="#b81818"/>
<line x1="326" y1="248.3" x2="397" y2="248.3" stroke="#8a5a3a" stroke-width="0.4"/>
<text x="306.7" y="227.9" font-size="8.6" text-anchor="start" fill="#000">S2</text>
<text x="323.4" y="229.1" font-size="8.6" text-anchor="start" fill="#000">S0</text>
<text x="327.8" y="208.2" font-size="8.6" text-anchor="start" fill="#000">S3</text>
<text x="452.3" y="194.4" font-size="8.6" text-anchor="start" fill="#000">S4</text>
<text x="421.9" y="221.7" font-size="8.6" text-anchor="start" fill="#000">S5</text>
<text x="398.2" y="247.7" font-size="8.6" text-anchor="start" fill="#000">S1</text>
<text x="244" y="167.25" font-size="12.5" text-anchor="start" fill="#000" font-weight="bold" stroke="#000" stroke-width="0.55">D</text>
<line x1="298.75" y1="172.5" x2="298.75" y2="270.2" stroke="#000" stroke-width="1.3"/>
<line x1="298.1" y1="269.6" x2="459.5" y2="269.6" stroke="#000" stroke-width="1.3"/>
<line x1="294.5" y1="175" x2="298.5" y2="175" stroke="#000" stroke-width="1"/>
<text x="291.3" y="178" font-size="8.8" text-anchor="end" fill="#000">0.00075</text>
<line x1="294.5" y1="186.25" x2="298.5" y2="186.25" stroke="#000" stroke-width="1"/>
<text x="291.3" y="189.25" font-size="8.8" text-anchor="end" fill="#000">0.00050</text>
<line x1="294.5" y1="197.5" x2="298.5" y2="197.5" stroke="#000" stroke-width="1"/>
<text x="291.3" y="200.5" font-size="8.8" text-anchor="end" fill="#000">0.00025</text>
<line x1="294.5" y1="208.75" x2="298.5" y2="208.75" stroke="#000" stroke-width="1"/>
<text x="291.3" y="211.75" font-size="8.8" text-anchor="end" fill="#000">0.00000</text>
<line x1="294.5" y1="220" x2="298.5" y2="220" stroke="#000" stroke-width="1"/>
<text x="291.3" y="223" font-size="8.8" text-anchor="end" fill="#000">−0.00025</text>
<line x1="294.5" y1="231.25" x2="298.5" y2="231.25" stroke="#000" stroke-width="1"/>
<text x="291.3" y="234.25" font-size="8.8" text-anchor="end" fill="#000">−0.00050</text>
<line x1="294.5" y1="242.5" x2="298.5" y2="242.5" stroke="#000" stroke-width="1"/>
<text x="291.3" y="245.5" font-size="8.8" text-anchor="end" fill="#000">−0.00075</text>
<line x1="294.5" y1="253.75" x2="298.5" y2="253.75" stroke="#000" stroke-width="1"/>
<text x="291.3" y="256.75" font-size="8.8" text-anchor="end" fill="#000">−0.00100</text>
<line x1="294.5" y1="265" x2="298.5" y2="265" stroke="#000" stroke-width="1"/>
<text x="291.3" y="268" font-size="8.8" text-anchor="end" fill="#000">−0.00125</text>
<line x1="309.2" y1="269.6" x2="309.2" y2="273.2" stroke="#000" stroke-width="1"/>
<text x="314.2" y="281.5" font-size="8.8" text-anchor="end" fill="#000" transform="rotate(-33 314.2 281.5)">0.000</text>
<line x1="328.8" y1="269.6" x2="328.8" y2="273.2" stroke="#000" stroke-width="1"/>
<text x="333.8" y="281.5" font-size="8.8" text-anchor="end" fill="#000" transform="rotate(-33 333.8 281.5)">0.002</text>
<line x1="348.4" y1="269.6" x2="348.4" y2="273.2" stroke="#000" stroke-width="1"/>
<text x="353.4" y="281.5" font-size="8.8" text-anchor="end" fill="#000" transform="rotate(-33 353.4 281.5)">0.004</text>
<line x1="368.0" y1="269.6" x2="368.0" y2="273.2" stroke="#000" stroke-width="1"/>
<text x="373.0" y="281.5" font-size="8.8" text-anchor="end" fill="#000" transform="rotate(-33 373.0 281.5)">0.006</text>
<line x1="387.6" y1="269.6" x2="387.6" y2="273.2" stroke="#000" stroke-width="1"/>
<text x="392.6" y="281.5" font-size="8.8" text-anchor="end" fill="#000" transform="rotate(-33 392.6 281.5)">0.008</text>
<line x1="407.2" y1="269.6" x2="407.2" y2="273.2" stroke="#000" stroke-width="1"/>
<text x="412.2" y="281.5" font-size="8.8" text-anchor="end" fill="#000" transform="rotate(-33 412.2 281.5)">0.010</text>
<line x1="426.8" y1="269.6" x2="426.8" y2="273.2" stroke="#000" stroke-width="1"/>
<text x="431.8" y="281.5" font-size="8.8" text-anchor="end" fill="#000" transform="rotate(-33 431.8 281.5)">0.012</text>
<line x1="446.4" y1="269.6" x2="446.4" y2="273.2" stroke="#000" stroke-width="1"/>
<text x="451.4" y="281.5" font-size="8.8" text-anchor="end" fill="#000" transform="rotate(-33 451.4 281.5)">0.014</text>
<circle cx="417.9" cy="231.4" r="4.2" fill="#f5821f"/>
<text x="425.8" y="234.20000000000002" font-size="8.3" textLength="40.2" lengthAdjust="spacing"><tspan font-style="italic">runx1</tspan> 6 dpf</text>
<circle cx="417.9" cy="241.8" r="4.2" fill="#3a8de0"/>
<text x="425.8" y="244.60000000000002" font-size="8.3" textLength="45.7" lengthAdjust="spacing"><tspan font-style="italic">runx1</tspan> 10 dpf</text>
<circle cx="417.9" cy="253.6" r="4.2" fill="#44d62c"/>
<text x="425.8" y="256.4" font-size="8.3" textLength="81" lengthAdjust="spacing"><tspan font-style="italic">runx1</tspan> bloodless 16 dpf</text>
<circle cx="417.9" cy="264" r="4.2" fill="#d7191c"/>
<text x="425.8" y="266.8" font-size="8.3" textLength="82.8" lengthAdjust="spacing"><tspan font-style="italic">runx1</tspan> recovered 16 dpf</text>
<defs><clipPath id="cpB"><circle cx="76.6" cy="380.8" r="28.6"/></clipPath><clipPath id="cpO"><circle cx="113.6" cy="380.8" r="28.6"/></clipPath></defs>
<circle cx="76.6" cy="380.8" r="28.6" fill="#0c2eb2"/>
<circle cx="113.6" cy="380.8" r="28.6" fill="#fbb800"/>
<circle cx="95" cy="412.7" r="28.6" fill="#50f010"/>
<g clip-path="url(#cpB)"><circle cx="113.6" cy="380.8" r="28.6" fill="#98d878"/><circle cx="95" cy="412.7" r="28.6" fill="#108a30"/></g>
<g clip-path="url(#cpO)"><circle cx="95" cy="412.7" r="28.6" fill="#68f060"/></g>
<g clip-path="url(#cpO)"><g clip-path="url(#cpB)"><circle cx="95" cy="412.7" r="28.6" fill="#50f030"/></g></g>
<circle cx="76.6" cy="380.8" r="28.6" fill="none" stroke="#111" stroke-width="1.1"/>
<circle cx="113.6" cy="380.8" r="28.6" fill="none" stroke="#111" stroke-width="1.1"/>
<circle cx="95" cy="412.7" r="28.6" fill="none" stroke="#111" stroke-width="1.1"/>
<line x1="98.1" y1="390.6" x2="101.3" y2="390.6" stroke="#111" stroke-width="0.9"/>
<line x1="102.5" y1="390.2" x2="137.3" y2="390.2" stroke="#111" stroke-width="0.9"/>
<text x="69.5" y="376.9" font-size="7.9" text-anchor="middle" fill="#eef0ff" font-weight="bold">141</text>
<text x="95.3" y="376.9" font-size="7.9" text-anchor="middle" fill="#1a1a1a" stroke-width="0.25" stroke="#1a1a1a">19</text>
<text x="119.4" y="376.9" font-size="7.9" text-anchor="middle" fill="#1a1a1a" stroke-width="0.25" stroke="#1a1a1a">17</text>
<text x="94.3" y="393.1" font-size="7.9" text-anchor="middle" fill="#1a1a1a" stroke-width="0.25" stroke="#1a1a1a">61</text>
<text x="79" y="402.3" font-size="7.9" text-anchor="middle" fill="#1a1a1a" stroke-width="0.25" stroke="#1a1a1a">43</text>
<text x="110.4" y="402.3" font-size="7.9" text-anchor="middle" fill="#1a1a1a" stroke-width="0.25" stroke="#1a1a1a">27</text>
<text x="95.4" y="420.5" font-size="7.9" text-anchor="middle" fill="#1a1a1a" stroke-width="0.25" stroke="#1a1a1a">73</text>
<rect x="149.1" y="354.7" width="33.1" height="87.3" fill="none" stroke="#111" stroke-width="1.2"/>
<text x="165.8" y="364" font-size="8.5" text-anchor="middle" fill="#000" font-style="italic">fosb</text>
<text x="165.8" y="374.6" font-size="8.5" text-anchor="middle" fill="#000" font-style="italic">fosl2</text>
<text x="165.8" y="384.8" font-size="8.5" text-anchor="middle" fill="#000" font-style="italic">gata2b</text>
<text x="165.8" y="395.8" font-size="8.5" text-anchor="middle" fill="#000" font-style="italic">fosab</text>
<text x="165.8" y="405.6" font-size="8.5" text-anchor="middle" fill="#000" font-style="italic">klf6a</text>
<text x="165.8" y="416" font-size="8.5" text-anchor="middle" fill="#000" font-style="italic">xbp1</text>
<text x="165.8" y="426.8" font-size="8.5" text-anchor="middle" fill="#000" font-style="italic">atf4b</text>
<text x="165.8" y="437.4" font-size="8.5" text-anchor="middle" fill="#000" font-style="italic">klf2a</text>
<text x="8.5" y="330.75" font-size="12.5" text-anchor="start" fill="#000" font-weight="bold" stroke="#000" stroke-width="0.55">E</text>
<text x="52.5" y="348.6" font-size="8.8" text-anchor="start" fill="#0a30b0" font-weight="bold" textLength="35.5" lengthAdjust="spacingAndGlyphs">6 dpf UP</text>
<text x="98.8" y="348.6" font-size="8.7" text-anchor="start" fill="#f8b400" font-weight="bold" textLength="40.2" lengthAdjust="spacingAndGlyphs">10 dpf UP</text>
<text x="74.5" y="453.2" font-size="8.8" text-anchor="start" fill="#4cf02a" font-weight="bold" textLength="40.6" lengthAdjust="spacingAndGlyphs">16 dpf UP</text>
<defs><linearGradient id="gFbase" gradientUnits="userSpaceOnUse" x1="288" x2="312" y1="0" y2="0"><stop offset="0" stop-color="#f2f01e"/><stop offset="0.12" stop-color="#c8ee2a"/><stop offset="0.3" stop-color="#58e650"/><stop offset="0.5" stop-color="#30d070"/><stop offset="0.72" stop-color="#20a898"/><stop offset="1" stop-color="#2060c8"/></linearGradient><linearGradient id="gFmain" gradientUnits="userSpaceOnUse" x1="305" x2="380" y1="0" y2="0"><stop offset="0" stop-color="#2a58d8"/><stop offset="0.13" stop-color="#2238d4"/><stop offset="0.24" stop-color="#1a1cc0"/><stop offset="0.34" stop-color="#0a0a88"/><stop offset="0.45" stop-color="#000062"/><stop offset="1" stop-color="#00006a"/></linearGradient><linearGradient id="gCbar" x1="0" x2="0" y1="1" y2="0"><stop offset="0" stop-color="#00007a"/><stop offset="0.1" stop-color="#1010d0"/><stop offset="0.24" stop-color="#2040c8"/><stop offset="0.35" stop-color="#207098"/><stop offset="0.5" stop-color="#20a888"/><stop offset="0.65" stop-color="#40d040"/><stop offset="0.85" stop-color="#c0e020"/><stop offset="1" stop-color="#f4e400"/></linearGradient><linearGradient id="gFmid" gradientUnits="userSpaceOnUse" x1="318" x2="440" y1="0" y2="0"><stop offset="0" stop-color="#9090d8"/><stop offset="0.15" stop-color="#d4d4f2"/><stop offset="0.6" stop-color="#dcdcf4"/><stop offset="0.85" stop-color="#a8a8e0"/><stop offset="1" stop-color="#30309a"/></linearGradient></defs>
<path d="M288.6,377 C289.5,375.6 292,375 295,374.4 C298,373.8 301,373 304,372 L309.5,371 L309.5,402.5 L304,401.2 C301,399.8 298,398.8 295,398.3 C292,397.9 289.5,397.6 288.6,396.4 C287.8,392 287.8,381 288.6,377 Z" fill="url(#gFbase)" stroke="none" stroke-width="1"/>
<path d="M310.5,340.4 L311.6,340.2 L313.5,344 L316.2,351.9 L317.5,347 L319.2,337.5 L320.5,337.3 L323,337.5 L325.5,336.5 L327,335 L329,334 L332,333.5 L335,333.5 L338,334 L340.5,335 L342.5,336.5 L344,337.3 L345.5,336.8 L347.5,337 L349,338.2 L350.5,338.5 L352,338 L354,338.6 L355.5,339.6 L357,340 L359,340.2 L361,340.6 L363,341.5 L365,343.5 L367,345.5 L370,346.8 L375,347.3 L381,347.4 L381,348.1 L375,348.3 L370,348.8 L367,350.5 L365,352.5 L363,353.2 L360,353.4 L357.5,354 L355,355.3 L352.5,355.6 L350,356.5 L347.5,357 L345,356.6 L343.5,357.5 L341.5,359 L338.5,360.4 L335,360.9 L332,360.5 L329.5,359.5 L327.5,358 L325,356.5 L322.8,356.2 L321.2,357.2 L320.5,362 L319.5,368 L318.2,373 L317,375.4 L315.5,379 L314.6,390 L313.6,402 L313,412 L312.5,425.5 L311.2,425.5 L309.8,414 L307.5,404 L306.6,392 L306.7,380 L306.3,373 L307.4,365 L308.6,352 Z" fill="url(#gFmain)" stroke="none" stroke-width="1"/>
<path d="M378,347.7 L484,347.7" fill="none" stroke="#22228a" stroke-width="1.0"/>
<path d="M482.6,347.7 C482.8,346 484,345.3 485.5,345.3 C487,345.3 487.4,346.5 487.4,347.7 C487.4,349 487,350.1 485.5,350.1 C484,350.1 482.8,349.4 482.6,347.7 Z" fill="#0a0a70" stroke="none" stroke-width="1"/>
<path d="M315.5,375.2 C316.5,377.8 317.5,378.8 320,378.8 L438,378.8" fill="none" stroke="url(#gFmid)" stroke-width="1.3"/>
<path d="M322,378.8 L436,378.8" fill="none" stroke="#2a2a8c" stroke-width="1.2" stroke-dasharray="3 7 1.5 9 5 6 2 10" stroke-opacity="0.75"/>
<path d="M435.8,378.3 L441,376.6 C443,375.9 445.8,376 445.8,378.9 C445.8,381.8 443,381.9 441,381.2 L435.8,379.5 Z" fill="#0e0e72" stroke="none" stroke-width="1"/>
<path d="M313.2,405 C314.5,407 316,408.3 318.5,409.4 L317.5,411.2 C315.5,412 314,413 313.2,414.8 Z" fill="#20a090" stroke="none" stroke-width="1"/>
<path d="M316,410.2 L408.5,410.2" fill="none" stroke="#2232a8" stroke-width="1.5"/>
<path d="M318,410.2 L406,410.2" fill="none" stroke="#0c0c6a" stroke-width="1.5" stroke-dasharray="6 4 3 7 8 3" stroke-opacity="0.6"/>
<path d="M407,408.6 L409.5,406.5 L412,406.6 L412.2,414.6 L409.5,414.7 L407,411.8 Z" fill="#10107a" stroke="none" stroke-width="1"/>
<rect x="495.9" y="324.2" width="4.6" height="119.2" fill="url(#gCbar)" stroke="#000" stroke-width="0.9"/>
<line x1="500.5" y1="343" x2="503.2" y2="343" stroke="#000" stroke-width="0.9"/>
<text x="506.2" y="346.3" font-size="8.3" text-anchor="start" fill="#000">6</text>
<line x1="500.5" y1="376.3" x2="503.2" y2="376.3" stroke="#000" stroke-width="0.9"/>
<text x="506.2" y="379.6" font-size="8.3" text-anchor="start" fill="#000">4</text>
<line x1="500.5" y1="409.8" x2="503.2" y2="409.8" stroke="#000" stroke-width="0.9"/>
<text x="506.2" y="413.1" font-size="8.3" text-anchor="start" fill="#000">2</text>
<line x1="500.5" y1="442.8" x2="503.2" y2="442.8" stroke="#000" stroke-width="0.9"/>
<text x="506.2" y="446.1" font-size="8.3" text-anchor="start" fill="#000">0</text>
<text x="244" y="330.25" font-size="12.5" text-anchor="start" fill="#000" font-weight="bold" stroke="#000" stroke-width="0.55">F</text>
<text x="388" y="330.4" font-size="8.5" text-anchor="middle" fill="#000" font-style="italic">Gata2b</text>
<line x1="287" y1="442.8" x2="484" y2="442.8" stroke="#000" stroke-width="1.1"/>
<path d="M487.5,442.8 L482,440.1 L482,445.5 Z" fill="#000" stroke="none" stroke-width="1"/>
<text x="288.25" y="453" font-size="8.8" text-anchor="middle" fill="#000" textLength="22.3" lengthAdjust="spacingAndGlyphs">0.000</text>
<text x="315.45" y="453" font-size="8.8" text-anchor="middle" fill="#000" textLength="22.3" lengthAdjust="spacingAndGlyphs">0.002</text>
<text x="342.65" y="453" font-size="8.8" text-anchor="middle" fill="#000" textLength="22.3" lengthAdjust="spacingAndGlyphs">0.004</text>
<text x="369.85" y="453" font-size="8.8" text-anchor="middle" fill="#000" textLength="22.3" lengthAdjust="spacingAndGlyphs">0.006</text>
<text x="397.05" y="453" font-size="8.8" text-anchor="middle" fill="#000" textLength="22.3" lengthAdjust="spacingAndGlyphs">0.008</text>
<text x="424.25" y="453" font-size="8.8" text-anchor="middle" fill="#000" textLength="22.3" lengthAdjust="spacingAndGlyphs">0.010</text>
<text x="451.45" y="453" font-size="8.8" text-anchor="middle" fill="#000" textLength="22.3" lengthAdjust="spacingAndGlyphs">0.012</text>
<text x="478.65" y="453" font-size="8.8" text-anchor="middle" fill="#000" textLength="22.3" lengthAdjust="spacingAndGlyphs">0.014</text>
<text x="371.25" y="466.8" font-size="9.6" text-anchor="start" fill="#000" textLength="36.75" lengthAdjust="spacingAndGlyphs" stroke="#000" stroke-width="0.25">Pseudotime</text>
<defs><linearGradient id="gZ" x1="0" x2="1"><stop offset="0" stop-color="#0030e0"/><stop offset="0.17" stop-color="#5098f0"/><stop offset="0.35" stop-color="#c0eef0"/><stop offset="0.5" stop-color="#ffffff"/><stop offset="0.65" stop-color="#f8c8c0"/><stop offset="0.83" stop-color="#e04848"/><stop offset="1" stop-color="#a00010"/></linearGradient></defs>
<rect x="25.5" y="518.4" width="32" height="8" fill="url(#gZ)" stroke="#000" stroke-width="1"/>
<line x1="28.2" y1="526.7" x2="28.2" y2="529.6" stroke="#000" stroke-width="0.9"/>
<line x1="41.15" y1="526.7" x2="41.15" y2="529.6" stroke="#000" stroke-width="0.9"/>
<line x1="54.4" y1="526.7" x2="54.4" y2="529.6" stroke="#000" stroke-width="0.9"/>
<line x1="87.5" y1="508.75" x2="126" y2="508.75" stroke="#151515" stroke-width="1.0"/>
<line x1="87.5" y1="508.75" x2="87.5" y2="527.5" stroke="#151515" stroke-width="1.0"/>
<line x1="78" y1="527.5" x2="97.5" y2="527.5" stroke="#151515" stroke-width="1.0"/>
<line x1="97.5" y1="527.5" x2="97.5" y2="543.8" stroke="#151515" stroke-width="1.0"/>
<line x1="78" y1="527.5" x2="78" y2="533.75" stroke="#151515" stroke-width="1.0"/>
<line x1="71.25" y1="533.75" x2="84.25" y2="533.75" stroke="#151515" stroke-width="1.0"/>
<line x1="71.25" y1="533.75" x2="71.25" y2="543.8" stroke="#151515" stroke-width="1.0"/>
<line x1="84.25" y1="533.75" x2="84.25" y2="543.8" stroke="#151515" stroke-width="1.0"/>
<line x1="126" y1="508.75" x2="126" y2="536.4" stroke="#151515" stroke-width="1.0"/>
<line x1="116.6" y1="536.4" x2="135.5" y2="536.4" stroke="#151515" stroke-width="1.0"/>
<line x1="135.5" y1="536.4" x2="135.5" y2="543.8" stroke="#151515" stroke-width="1.0"/>
<line x1="116.6" y1="536.4" x2="116.6" y2="538.2" stroke="#151515" stroke-width="1.0"/>
<line x1="110" y1="538.2" x2="122.9" y2="538.2" stroke="#151515" stroke-width="1.0"/>
<line x1="110" y1="538.2" x2="110" y2="543.8" stroke="#151515" stroke-width="1.0"/>
<line x1="122.9" y1="538.2" x2="122.9" y2="543.8" stroke="#151515" stroke-width="1.0"/>
<rect x="65.20" y="546.60" width="13.03" height="2.16" fill="#bbe7f2"/>
<rect x="65.20" y="548.46" width="13.03" height="2.16" fill="#bfe9f2"/>
<rect x="65.20" y="550.32" width="13.03" height="2.16" fill="#c0e9f3"/>
<rect x="65.20" y="552.18" width="13.03" height="2.16" fill="#c5ebf4"/>
<rect x="65.20" y="554.04" width="13.03" height="2.16" fill="#bfe9f2"/>
<rect x="65.20" y="555.90" width="13.03" height="2.16" fill="#c5ebf4"/>
<rect x="65.20" y="557.76" width="13.03" height="2.16" fill="#a6d7e3"/>
<rect x="65.20" y="559.62" width="13.03" height="2.16" fill="#b5e6f1"/>
<rect x="65.20" y="561.48" width="13.03" height="2.16" fill="#c5ebf4"/>
<rect x="65.20" y="563.34" width="13.03" height="2.16" fill="#bce8f2"/>
<rect x="65.20" y="565.20" width="13.03" height="2.16" fill="#c4eaf3"/>
<rect x="65.20" y="567.06" width="13.03" height="2.16" fill="#a9dbe7"/>
<rect x="65.20" y="568.92" width="13.03" height="2.16" fill="#b6e6f1"/>
<rect x="65.20" y="570.78" width="13.03" height="2.16" fill="#aee2ee"/>
<rect x="65.20" y="572.64" width="13.03" height="2.16" fill="#b8e6f1"/>
<rect x="65.20" y="574.50" width="13.03" height="2.16" fill="#b9e7f1"/>
<rect x="65.20" y="576.36" width="13.03" height="2.16" fill="#a5d6e2"/>
<rect x="65.20" y="578.22" width="13.03" height="2.16" fill="#ade0ec"/>
<rect x="65.20" y="580.08" width="13.03" height="2.16" fill="#f7f1f3"/>
<rect x="65.20" y="581.94" width="13.03" height="2.16" fill="#f9f5f6"/>
<rect x="65.20" y="583.80" width="13.03" height="2.16" fill="#f9f4f6"/>
<rect x="65.20" y="585.66" width="13.03" height="2.16" fill="#f1ebed"/>
<rect x="65.20" y="587.52" width="13.03" height="2.16" fill="#f9f4f6"/>
<rect x="65.20" y="589.38" width="13.03" height="2.16" fill="#f0eaec"/>
<rect x="65.20" y="591.24" width="13.03" height="2.16" fill="#f8f3f5"/>
<rect x="65.20" y="593.10" width="13.03" height="2.16" fill="#f3d4d4"/>
<rect x="65.20" y="594.96" width="13.03" height="2.16" fill="#eccece"/>
<rect x="65.20" y="596.82" width="13.03" height="2.16" fill="#fce4e4"/>
<rect x="65.20" y="598.68" width="13.03" height="2.16" fill="#f4c0b8"/>
<rect x="65.20" y="600.54" width="13.03" height="2.16" fill="#f4c1b9"/>
<rect x="65.20" y="602.40" width="13.03" height="2.16" fill="#fad5cf"/>
<rect x="65.20" y="604.26" width="13.03" height="2.16" fill="#f9d2cc"/>
<rect x="65.20" y="606.12" width="13.03" height="2.16" fill="#fce8e8"/>
<rect x="65.20" y="607.98" width="13.03" height="2.16" fill="#fceeee"/>
<rect x="65.20" y="609.84" width="13.03" height="2.16" fill="#f8d5d5"/>
<rect x="65.20" y="611.70" width="13.03" height="2.16" fill="#f9d7d7"/>
<rect x="65.20" y="613.56" width="13.03" height="2.16" fill="#f3cccc"/>
<rect x="65.20" y="615.42" width="13.03" height="2.16" fill="#f9dcdc"/>
<rect x="65.20" y="617.28" width="13.03" height="2.16" fill="#e14959"/>
<rect x="65.20" y="619.14" width="13.03" height="2.16" fill="#e35563"/>
<rect x="65.20" y="621.00" width="13.03" height="2.16" fill="#e25260"/>
<rect x="65.20" y="622.86" width="13.03" height="2.16" fill="#d42737"/>
<rect x="65.20" y="624.72" width="13.03" height="2.16" fill="#d52737"/>
<rect x="65.20" y="626.58" width="13.03" height="2.16" fill="#c10f1e"/>
<rect x="65.20" y="628.44" width="13.03" height="2.16" fill="#c10f1e"/>
<rect x="65.20" y="630.30" width="13.03" height="2.16" fill="#d23544"/>
<rect x="65.20" y="632.16" width="13.03" height="2.16" fill="#d83746"/>
<rect x="65.20" y="634.02" width="13.03" height="2.16" fill="#dd3e4d"/>
<rect x="65.20" y="635.88" width="13.03" height="2.16" fill="#edcece"/>
<rect x="65.20" y="637.74" width="13.03" height="2.16" fill="#fce1e1"/>
<rect x="65.20" y="639.60" width="13.03" height="2.16" fill="#fcdcdc"/>
<rect x="65.20" y="641.46" width="13.03" height="2.16" fill="#fcdcdc"/>
<rect x="65.20" y="643.32" width="13.03" height="2.16" fill="#fce3e3"/>
<rect x="65.20" y="645.18" width="13.03" height="2.16" fill="#f8cccc"/>
<rect x="65.20" y="647.04" width="13.03" height="2.16" fill="#f8c8c8"/>
<rect x="65.20" y="648.90" width="13.03" height="2.16" fill="#f8cccc"/>
<rect x="65.20" y="650.76" width="13.03" height="2.16" fill="#f9d1d1"/>
<rect x="65.20" y="652.62" width="13.03" height="2.16" fill="#e8a79f"/>
<rect x="65.20" y="654.48" width="13.03" height="2.16" fill="#f7c6c1"/>
<rect x="65.20" y="656.34" width="13.03" height="2.16" fill="#e6a69e"/>
<rect x="77.93" y="546.60" width="13.03" height="2.16" fill="#b0e6ee"/>
<rect x="77.93" y="548.46" width="13.03" height="2.16" fill="#b4e7ee"/>
<rect x="77.93" y="550.32" width="13.03" height="2.16" fill="#95d3dc"/>
<rect x="77.93" y="552.18" width="13.03" height="2.16" fill="#b2e6ee"/>
<rect x="77.93" y="554.04" width="13.03" height="2.16" fill="#a1e1ea"/>
<rect x="77.93" y="555.90" width="13.03" height="2.16" fill="#a9e3ec"/>
<rect x="77.93" y="557.76" width="13.03" height="2.16" fill="#94d2dc"/>
<rect x="77.93" y="559.62" width="13.03" height="2.16" fill="#96d4de"/>
<rect x="77.93" y="561.48" width="13.03" height="2.16" fill="#9adbe4"/>
<rect x="77.93" y="563.34" width="13.03" height="2.16" fill="#b9e8ef"/>
<rect x="77.93" y="565.20" width="13.03" height="2.16" fill="#9bdbe5"/>
<rect x="77.93" y="567.06" width="13.03" height="2.16" fill="#b1e6ee"/>
<rect x="77.93" y="568.92" width="13.03" height="2.16" fill="#b8e8ef"/>
<rect x="77.93" y="570.78" width="13.03" height="2.16" fill="#b8e8ef"/>
<rect x="77.93" y="572.64" width="13.03" height="2.16" fill="#a0e0ea"/>
<rect x="77.93" y="574.50" width="13.03" height="2.16" fill="#a0e0ea"/>
<rect x="77.93" y="576.36" width="13.03" height="2.16" fill="#a7e3ec"/>
<rect x="77.93" y="578.22" width="13.03" height="2.16" fill="#b1e6ee"/>
<rect x="77.93" y="580.08" width="13.03" height="2.16" fill="#e8ecee"/>
<rect x="77.93" y="581.94" width="13.03" height="2.16" fill="#f4f7f9"/>
<rect x="77.93" y="583.80" width="13.03" height="2.16" fill="#f4f7f9"/>
<rect x="77.93" y="585.66" width="13.03" height="2.16" fill="#f5f8f9"/>
<rect x="77.93" y="587.52" width="13.03" height="2.16" fill="#e5e9eb"/>
<rect x="77.93" y="589.38" width="13.03" height="2.16" fill="#f5f8f9"/>
<rect x="77.93" y="591.24" width="13.03" height="2.16" fill="#e8ebed"/>
<rect x="77.93" y="593.10" width="13.03" height="2.16" fill="#f2f6f8"/>
<rect x="77.93" y="594.96" width="13.03" height="2.16" fill="#f3f7f8"/>
<rect x="77.93" y="596.82" width="13.03" height="2.16" fill="#f5f8f9"/>
<rect x="77.93" y="598.68" width="13.03" height="2.16" fill="#fce0e0"/>
<rect x="77.93" y="600.54" width="13.03" height="2.16" fill="#fce8e8"/>
<rect x="77.93" y="602.40" width="13.03" height="2.16" fill="#fce3e3"/>
<rect x="77.93" y="604.26" width="13.03" height="2.16" fill="#fcd0d0"/>
<rect x="77.93" y="606.12" width="13.03" height="2.16" fill="#fcd0d0"/>
<rect x="77.93" y="607.98" width="13.03" height="2.16" fill="#f6cbcb"/>
<rect x="77.93" y="609.84" width="13.03" height="2.16" fill="#f1c6c6"/>
<rect x="77.93" y="611.70" width="13.03" height="2.16" fill="#f4caca"/>
<rect x="77.93" y="613.56" width="13.03" height="2.16" fill="#fcd7d7"/>
<rect x="77.93" y="615.42" width="13.03" height="2.16" fill="#fcdede"/>
<rect x="77.93" y="617.28" width="13.03" height="2.16" fill="#efedf1"/>
<rect x="77.93" y="619.14" width="13.03" height="2.16" fill="#e9e7eb"/>
<rect x="77.93" y="621.00" width="13.03" height="2.16" fill="#f8f7fa"/>
<rect x="77.93" y="622.86" width="13.03" height="2.16" fill="#f6f5f8"/>
<rect x="77.93" y="624.72" width="13.03" height="2.16" fill="#f6f4f8"/>
<rect x="77.93" y="626.58" width="13.03" height="2.16" fill="#f9d5d5"/>
<rect x="77.93" y="628.44" width="13.03" height="2.16" fill="#fcdddd"/>
<rect x="77.93" y="630.30" width="13.03" height="2.16" fill="#f9f3f4"/>
<rect x="77.93" y="632.16" width="13.03" height="2.16" fill="#f8f1f2"/>
<rect x="77.93" y="634.02" width="13.03" height="2.16" fill="#f8f0f2"/>
<rect x="77.93" y="635.88" width="13.03" height="2.16" fill="#ce2635"/>
<rect x="77.93" y="637.74" width="13.03" height="2.16" fill="#db3d4c"/>
<rect x="77.93" y="639.60" width="13.03" height="2.16" fill="#be0f1e"/>
<rect x="77.93" y="641.46" width="13.03" height="2.16" fill="#c81221"/>
<rect x="77.93" y="643.32" width="13.03" height="2.16" fill="#cc2432"/>
<rect x="77.93" y="645.18" width="13.03" height="2.16" fill="#efc1c1"/>
<rect x="77.93" y="647.04" width="13.03" height="2.16" fill="#f9d2d2"/>
<rect x="77.93" y="648.90" width="13.03" height="2.16" fill="#f9d7d7"/>
<rect x="77.93" y="650.76" width="13.03" height="2.16" fill="#f9cfcf"/>
<rect x="77.93" y="652.62" width="13.03" height="2.16" fill="#fce1e1"/>
<rect x="77.93" y="654.48" width="13.03" height="2.16" fill="#f2d1d1"/>
<rect x="77.93" y="656.34" width="13.03" height="2.16" fill="#fcdcdc"/>
<rect x="90.67" y="546.60" width="13.03" height="2.16" fill="#a1d9e7"/>
<rect x="90.67" y="548.46" width="13.03" height="2.16" fill="#bae7f1"/>
<rect x="90.67" y="550.32" width="13.03" height="2.16" fill="#a6e0ee"/>
<rect x="90.67" y="552.18" width="13.03" height="2.16" fill="#ace2ef"/>
<rect x="90.67" y="554.04" width="13.03" height="2.16" fill="#c0e9f3"/>
<rect x="90.67" y="555.90" width="13.03" height="2.16" fill="#bbe7f2"/>
<rect x="90.67" y="557.76" width="13.03" height="2.16" fill="#bfe8f2"/>
<rect x="90.67" y="559.62" width="13.03" height="2.16" fill="#ace2ef"/>
<rect x="90.67" y="561.48" width="13.03" height="2.16" fill="#ade2ef"/>
<rect x="90.67" y="563.34" width="13.03" height="2.16" fill="#b6e5f1"/>
<rect x="90.67" y="565.20" width="13.03" height="2.16" fill="#ade2ef"/>
<rect x="90.67" y="567.06" width="13.03" height="2.16" fill="#a6e0ee"/>
<rect x="90.67" y="568.92" width="13.03" height="2.16" fill="#aae1ee"/>
<rect x="90.67" y="570.78" width="13.03" height="2.16" fill="#a1d9e7"/>
<rect x="90.67" y="572.64" width="13.03" height="2.16" fill="#a9e1ee"/>
<rect x="90.67" y="574.50" width="13.03" height="2.16" fill="#c0e9f3"/>
<rect x="90.67" y="576.36" width="13.03" height="2.16" fill="#bfe8f2"/>
<rect x="90.67" y="578.22" width="13.03" height="2.16" fill="#b2e4f0"/>
<rect x="90.67" y="580.08" width="13.03" height="2.16" fill="#c40210"/>
<rect x="90.67" y="581.94" width="13.03" height="2.16" fill="#c1000d"/>
<rect x="90.67" y="583.80" width="13.03" height="2.16" fill="#bc000d"/>
<rect x="90.67" y="585.66" width="13.03" height="2.16" fill="#c0000d"/>
<rect x="90.67" y="587.52" width="13.03" height="2.16" fill="#c8121f"/>
<rect x="90.67" y="589.38" width="13.03" height="2.16" fill="#c91723"/>
<rect x="90.67" y="591.24" width="13.03" height="2.16" fill="#c1000d"/>
<rect x="90.67" y="593.10" width="13.03" height="2.16" fill="#cf1a28"/>
<rect x="90.67" y="594.96" width="13.03" height="2.16" fill="#cf1928"/>
<rect x="90.67" y="596.82" width="13.03" height="2.16" fill="#ce1524"/>
<rect x="90.67" y="598.68" width="13.03" height="2.16" fill="#ce1322"/>
<rect x="90.67" y="600.54" width="13.03" height="2.16" fill="#cf1827"/>
<rect x="90.67" y="602.40" width="13.03" height="2.16" fill="#d11727"/>
<rect x="90.67" y="604.26" width="13.03" height="2.16" fill="#d62433"/>
<rect x="90.67" y="606.12" width="13.03" height="2.16" fill="#cf1727"/>
<rect x="90.67" y="607.98" width="13.03" height="2.16" fill="#d41929"/>
<rect x="90.67" y="609.84" width="13.03" height="2.16" fill="#cb1926"/>
<rect x="90.67" y="611.70" width="13.03" height="2.16" fill="#ca1422"/>
<rect x="90.67" y="613.56" width="13.03" height="2.16" fill="#c40715"/>
<rect x="90.67" y="615.42" width="13.03" height="2.16" fill="#cd222f"/>
<rect x="90.67" y="617.28" width="13.03" height="2.16" fill="#f29393"/>
<rect x="90.67" y="619.14" width="13.03" height="2.16" fill="#f18f8f"/>
<rect x="90.67" y="621.00" width="13.03" height="2.16" fill="#e27878"/>
<rect x="90.67" y="622.86" width="13.03" height="2.16" fill="#f18d8d"/>
<rect x="90.67" y="624.72" width="13.03" height="2.16" fill="#fadeda"/>
<rect x="90.67" y="626.58" width="13.03" height="2.16" fill="#fce5e1"/>
<rect x="90.67" y="628.44" width="13.03" height="2.16" fill="#fce2de"/>
<rect x="90.67" y="630.30" width="13.03" height="2.16" fill="#fce6e3"/>
<rect x="90.67" y="632.16" width="13.03" height="2.16" fill="#fce4e1"/>
<rect x="90.67" y="634.02" width="13.03" height="2.16" fill="#fce6e3"/>
<rect x="90.67" y="635.88" width="13.03" height="2.16" fill="#fce0dc"/>
<rect x="90.67" y="637.74" width="13.03" height="2.16" fill="#f9d7d0"/>
<rect x="90.67" y="639.60" width="13.03" height="2.16" fill="#f9d8d2"/>
<rect x="90.67" y="641.46" width="13.03" height="2.16" fill="#f9dad4"/>
<rect x="90.67" y="643.32" width="13.03" height="2.16" fill="#ed7666"/>
<rect x="90.67" y="645.18" width="13.03" height="2.16" fill="#f18374"/>
<rect x="90.67" y="647.04" width="13.03" height="2.16" fill="#f18475"/>
<rect x="90.67" y="648.90" width="13.03" height="2.16" fill="#f07e6f"/>
<rect x="90.67" y="650.76" width="13.03" height="2.16" fill="#f4b0a4"/>
<rect x="90.67" y="652.62" width="13.03" height="2.16" fill="#f4afa3"/>
<rect x="90.67" y="654.48" width="13.03" height="2.16" fill="#f19a8c"/>
<rect x="90.67" y="656.34" width="13.03" height="2.16" fill="#f19b8c"/>
<rect x="103.40" y="546.60" width="13.03" height="2.16" fill="#eda394"/>
<rect x="103.40" y="548.46" width="13.03" height="2.16" fill="#f6bcaf"/>
<rect x="103.40" y="550.32" width="13.03" height="2.16" fill="#f9cbbf"/>
<rect x="103.40" y="552.18" width="13.03" height="2.16" fill="#f08878"/>
<rect x="103.40" y="554.04" width="13.03" height="2.16" fill="#f08e7f"/>
<rect x="103.40" y="555.90" width="13.03" height="2.16" fill="#f08e7f"/>
<rect x="103.40" y="557.76" width="13.03" height="2.16" fill="#f08f80"/>
<rect x="103.40" y="559.62" width="13.03" height="2.16" fill="#d92e3e"/>
<rect x="103.40" y="561.48" width="13.03" height="2.16" fill="#e23e4d"/>
<rect x="103.40" y="563.34" width="13.03" height="2.16" fill="#fce3e0"/>
<rect x="103.40" y="565.20" width="13.03" height="2.16" fill="#f9d0ca"/>
<rect x="103.40" y="567.06" width="13.03" height="2.16" fill="#f8cbc3"/>
<rect x="103.40" y="568.92" width="13.03" height="2.16" fill="#f8bbad"/>
<rect x="103.40" y="570.78" width="13.03" height="2.16" fill="#f9c0b3"/>
<rect x="103.40" y="572.64" width="13.03" height="2.16" fill="#f9bbae"/>
<rect x="103.40" y="574.50" width="13.03" height="2.16" fill="#f9beb1"/>
<rect x="103.40" y="576.36" width="13.03" height="2.16" fill="#eedbd7"/>
<rect x="103.40" y="578.22" width="13.03" height="2.16" fill="#f5e1dd"/>
<rect x="103.40" y="580.08" width="13.03" height="2.16" fill="#c0edf2"/>
<rect x="103.40" y="581.94" width="13.03" height="2.16" fill="#c6eef3"/>
<rect x="103.40" y="583.80" width="13.03" height="2.16" fill="#b9e8ee"/>
<rect x="103.40" y="585.66" width="13.03" height="2.16" fill="#c7eff4"/>
<rect x="103.40" y="587.52" width="13.03" height="2.16" fill="#c5eef3"/>
<rect x="103.40" y="589.38" width="13.03" height="2.16" fill="#b2dfe5"/>
<rect x="103.40" y="591.24" width="13.03" height="2.16" fill="#c1edf3"/>
<rect x="103.40" y="593.10" width="13.03" height="2.16" fill="#a5e1eb"/>
<rect x="103.40" y="594.96" width="13.03" height="2.16" fill="#9fd8e2"/>
<rect x="103.40" y="596.82" width="13.03" height="2.16" fill="#a2dce6"/>
<rect x="103.40" y="598.68" width="13.03" height="2.16" fill="#a9e4ee"/>
<rect x="103.40" y="600.54" width="13.03" height="2.16" fill="#a4dfe8"/>
<rect x="103.40" y="602.40" width="13.03" height="2.16" fill="#a4dfe9"/>
<rect x="103.40" y="604.26" width="13.03" height="2.16" fill="#9fd8e1"/>
<rect x="103.40" y="606.12" width="13.03" height="2.16" fill="#aee6ef"/>
<rect x="103.40" y="607.98" width="13.03" height="2.16" fill="#abe5ee"/>
<rect x="103.40" y="609.84" width="13.03" height="2.16" fill="#b2e5ee"/>
<rect x="103.40" y="611.70" width="13.03" height="2.16" fill="#b1e5ee"/>
<rect x="103.40" y="613.56" width="13.03" height="2.16" fill="#a4dfe9"/>
<rect x="103.40" y="615.42" width="13.03" height="2.16" fill="#bde9f0"/>
<rect x="103.40" y="617.28" width="13.03" height="2.16" fill="#9cd4dd"/>
<rect x="103.40" y="619.14" width="13.03" height="2.16" fill="#aae3ec"/>
<rect x="103.40" y="621.00" width="13.03" height="2.16" fill="#a5e1eb"/>
<rect x="103.40" y="622.86" width="13.03" height="2.16" fill="#aae3ec"/>
<rect x="103.40" y="624.72" width="13.03" height="2.16" fill="#a0d9e3"/>
<rect x="103.40" y="626.58" width="13.03" height="2.16" fill="#bae8f0"/>
<rect x="103.40" y="628.44" width="13.03" height="2.16" fill="#a9e3ec"/>
<rect x="103.40" y="630.30" width="13.03" height="2.16" fill="#9dd6df"/>
<rect x="103.40" y="632.16" width="13.03" height="2.16" fill="#b2e5ee"/>
<rect x="103.40" y="634.02" width="13.03" height="2.16" fill="#9fd8e2"/>
<rect x="103.40" y="635.88" width="13.03" height="2.16" fill="#afe5ee"/>
<rect x="103.40" y="637.74" width="13.03" height="2.16" fill="#a8e2ec"/>
<rect x="103.40" y="639.60" width="13.03" height="2.16" fill="#b1e5ee"/>
<rect x="103.40" y="641.46" width="13.03" height="2.16" fill="#bfeaf1"/>
<rect x="103.40" y="643.32" width="13.03" height="2.16" fill="#b9e8f0"/>
<rect x="103.40" y="645.18" width="13.03" height="2.16" fill="#aae3ed"/>
<rect x="103.40" y="647.04" width="13.03" height="2.16" fill="#b9e8f0"/>
<rect x="103.40" y="648.90" width="13.03" height="2.16" fill="#b3e6ee"/>
<rect x="103.40" y="650.76" width="13.03" height="2.16" fill="#a9e3ec"/>
<rect x="103.40" y="652.62" width="13.03" height="2.16" fill="#a0dbe4"/>
<rect x="103.40" y="654.48" width="13.03" height="2.16" fill="#b1e5ee"/>
<rect x="103.40" y="656.34" width="13.03" height="2.16" fill="#b0e5ee"/>
<rect x="116.13" y="546.60" width="13.03" height="2.16" fill="#f9c6ba"/>
<rect x="116.13" y="548.46" width="13.03" height="2.16" fill="#fac6bb"/>
<rect x="116.13" y="550.32" width="13.03" height="2.16" fill="#f8baac"/>
<rect x="116.13" y="552.18" width="13.03" height="2.16" fill="#f4a293"/>
<rect x="116.13" y="554.04" width="13.03" height="2.16" fill="#f6b8ac"/>
<rect x="116.13" y="555.90" width="13.03" height="2.16" fill="#e59687"/>
<rect x="116.13" y="557.76" width="13.03" height="2.16" fill="#ea9a8a"/>
<rect x="116.13" y="559.62" width="13.03" height="2.16" fill="#fce3dc"/>
<rect x="116.13" y="561.48" width="13.03" height="2.16" fill="#fce4dd"/>
<rect x="116.13" y="563.34" width="13.03" height="2.16" fill="#d83645"/>
<rect x="116.13" y="565.20" width="13.03" height="2.16" fill="#e13f4f"/>
<rect x="116.13" y="567.06" width="13.03" height="2.16" fill="#e24b59"/>
<rect x="116.13" y="568.92" width="13.03" height="2.16" fill="#f8c2ba"/>
<rect x="116.13" y="570.78" width="13.03" height="2.16" fill="#f4a596"/>
<rect x="116.13" y="572.64" width="13.03" height="2.16" fill="#f09e8e"/>
<rect x="116.13" y="574.50" width="13.03" height="2.16" fill="#f4a090"/>
<rect x="116.13" y="576.36" width="13.03" height="2.16" fill="#f7bbb0"/>
<rect x="116.13" y="578.22" width="13.03" height="2.16" fill="#f4a394"/>
<rect x="116.13" y="580.08" width="13.03" height="2.16" fill="#c9eff4"/>
<rect x="116.13" y="581.94" width="13.03" height="2.16" fill="#c7eff3"/>
<rect x="116.13" y="583.80" width="13.03" height="2.16" fill="#bdecf1"/>
<rect x="116.13" y="585.66" width="13.03" height="2.16" fill="#b3e8ee"/>
<rect x="116.13" y="587.52" width="13.03" height="2.16" fill="#c9f0f4"/>
<rect x="116.13" y="589.38" width="13.03" height="2.16" fill="#baebf1"/>
<rect x="116.13" y="591.24" width="13.03" height="2.16" fill="#b8ebf0"/>
<rect x="116.13" y="593.10" width="13.03" height="2.16" fill="#b5eaf0"/>
<rect x="116.13" y="594.96" width="13.03" height="2.16" fill="#caf0f4"/>
<rect x="116.13" y="596.82" width="13.03" height="2.16" fill="#baebf1"/>
<rect x="116.13" y="598.68" width="13.03" height="2.16" fill="#a4e2ec"/>
<rect x="116.13" y="600.54" width="13.03" height="2.16" fill="#abe4ed"/>
<rect x="116.13" y="602.40" width="13.03" height="2.16" fill="#9edae3"/>
<rect x="116.13" y="604.26" width="13.03" height="2.16" fill="#b0e6ee"/>
<rect x="116.13" y="606.12" width="13.03" height="2.16" fill="#aae3ed"/>
<rect x="116.13" y="607.98" width="13.03" height="2.16" fill="#a4e2ec"/>
<rect x="116.13" y="609.84" width="13.03" height="2.16" fill="#b5e6ee"/>
<rect x="116.13" y="611.70" width="13.03" height="2.16" fill="#b7e7ee"/>
<rect x="116.13" y="613.56" width="13.03" height="2.16" fill="#98d3dc"/>
<rect x="116.13" y="615.42" width="13.03" height="2.16" fill="#abe3ec"/>
<rect x="116.13" y="617.28" width="13.03" height="2.16" fill="#a1dfe9"/>
<rect x="116.13" y="619.14" width="13.03" height="2.16" fill="#bbe8ef"/>
<rect x="116.13" y="621.00" width="13.03" height="2.16" fill="#b5e6ee"/>
<rect x="116.13" y="622.86" width="13.03" height="2.16" fill="#a0dee8"/>
<rect x="116.13" y="624.72" width="13.03" height="2.16" fill="#a1dfe9"/>
<rect x="116.13" y="626.58" width="13.03" height="2.16" fill="#9dd9e3"/>
<rect x="116.13" y="628.44" width="13.03" height="2.16" fill="#bde9f0"/>
<rect x="116.13" y="630.30" width="13.03" height="2.16" fill="#a2e0ea"/>
<rect x="116.13" y="632.16" width="13.03" height="2.16" fill="#aee4ec"/>
<rect x="116.13" y="634.02" width="13.03" height="2.16" fill="#a9e2eb"/>
<rect x="116.13" y="635.88" width="13.03" height="2.16" fill="#b0e4ed"/>
<rect x="116.13" y="637.74" width="13.03" height="2.16" fill="#aee4ec"/>
<rect x="116.13" y="639.60" width="13.03" height="2.16" fill="#b3e5ee"/>
<rect x="116.13" y="641.46" width="13.03" height="2.16" fill="#9cd8e1"/>
<rect x="116.13" y="643.32" width="13.03" height="2.16" fill="#b4e6ee"/>
<rect x="116.13" y="645.18" width="13.03" height="2.16" fill="#a2e0ea"/>
<rect x="116.13" y="647.04" width="13.03" height="2.16" fill="#abe3ec"/>
<rect x="116.13" y="648.90" width="13.03" height="2.16" fill="#a3e0ea"/>
<rect x="116.13" y="650.76" width="13.03" height="2.16" fill="#a2e0ea"/>
<rect x="116.13" y="652.62" width="13.03" height="2.16" fill="#abe3ec"/>
<rect x="116.13" y="654.48" width="13.03" height="2.16" fill="#a8e2eb"/>
<rect x="116.13" y="656.34" width="13.03" height="2.16" fill="#a4e0ea"/>
<rect x="128.87" y="546.60" width="13.03" height="2.16" fill="#f9ccbf"/>
<rect x="128.87" y="548.46" width="13.03" height="2.16" fill="#f8c8ba"/>
<rect x="128.87" y="550.32" width="13.03" height="2.16" fill="#ebb5a6"/>
<rect x="128.87" y="552.18" width="13.03" height="2.16" fill="#fad6ce"/>
<rect x="128.87" y="554.04" width="13.03" height="2.16" fill="#fcdad3"/>
<rect x="128.87" y="555.90" width="13.03" height="2.16" fill="#fce2dc"/>
<rect x="128.87" y="557.76" width="13.03" height="2.16" fill="#fce1db"/>
<rect x="128.87" y="559.62" width="13.03" height="2.16" fill="#fceae3"/>
<rect x="128.87" y="561.48" width="13.03" height="2.16" fill="#eddad3"/>
<rect x="128.87" y="563.34" width="13.03" height="2.16" fill="#fcece6"/>
<rect x="128.87" y="565.20" width="13.03" height="2.16" fill="#fce9e1"/>
<rect x="128.87" y="567.06" width="13.03" height="2.16" fill="#fceae3"/>
<rect x="128.87" y="568.92" width="13.03" height="2.16" fill="#f08777"/>
<rect x="128.87" y="570.78" width="13.03" height="2.16" fill="#f08475"/>
<rect x="128.87" y="572.64" width="13.03" height="2.16" fill="#f08070"/>
<rect x="128.87" y="574.50" width="13.03" height="2.16" fill="#ea5361"/>
<rect x="128.87" y="576.36" width="13.03" height="2.16" fill="#e63f4f"/>
<rect x="128.87" y="578.22" width="13.03" height="2.16" fill="#e63f4f"/>
<rect x="128.87" y="580.08" width="13.03" height="2.16" fill="#d8f2f6"/>
<rect x="128.87" y="581.94" width="13.03" height="2.16" fill="#c8eaef"/>
<rect x="128.87" y="583.80" width="13.03" height="2.16" fill="#cceff4"/>
<rect x="128.87" y="585.66" width="13.03" height="2.16" fill="#d7f2f6"/>
<rect x="128.87" y="587.52" width="13.03" height="2.16" fill="#c2e3e8"/>
<rect x="128.87" y="589.38" width="13.03" height="2.16" fill="#d7f2f6"/>
<rect x="128.87" y="591.24" width="13.03" height="2.16" fill="#d4f1f5"/>
<rect x="128.87" y="593.10" width="13.03" height="2.16" fill="#cfeff4"/>
<rect x="128.87" y="594.96" width="13.03" height="2.16" fill="#cceff4"/>
<rect x="128.87" y="596.82" width="13.03" height="2.16" fill="#d6f2f6"/>
<rect x="128.87" y="598.68" width="13.03" height="2.16" fill="#d9f3f6"/>
<rect x="128.87" y="600.54" width="13.03" height="2.16" fill="#c5e7ec"/>
<rect x="128.87" y="602.40" width="13.03" height="2.16" fill="#d0f0f4"/>
<rect x="128.87" y="604.26" width="13.03" height="2.16" fill="#d1f0f5"/>
<rect x="128.87" y="606.12" width="13.03" height="2.16" fill="#d0f0f4"/>
<rect x="128.87" y="607.98" width="13.03" height="2.16" fill="#cceff4"/>
<rect x="128.87" y="609.84" width="13.03" height="2.16" fill="#c6e8ed"/>
<rect x="128.87" y="611.70" width="13.03" height="2.16" fill="#d2f1f5"/>
<rect x="128.87" y="613.56" width="13.03" height="2.16" fill="#d7f2f6"/>
<rect x="128.87" y="615.42" width="13.03" height="2.16" fill="#c2e4e8"/>
<rect x="128.87" y="617.28" width="13.03" height="2.16" fill="#c9ecf1"/>
<rect x="128.87" y="619.14" width="13.03" height="2.16" fill="#d7f2f6"/>
<rect x="128.87" y="621.00" width="13.03" height="2.16" fill="#d6f2f6"/>
<rect x="128.87" y="622.86" width="13.03" height="2.16" fill="#d4f1f5"/>
<rect x="128.87" y="624.72" width="13.03" height="2.16" fill="#c0e1e6"/>
<rect x="128.87" y="626.58" width="13.03" height="2.16" fill="#d5f1f6"/>
<rect x="128.87" y="628.44" width="13.03" height="2.16" fill="#daf3f7"/>
<rect x="128.87" y="630.30" width="13.03" height="2.16" fill="#dbf3f7"/>
<rect x="128.87" y="632.16" width="13.03" height="2.16" fill="#d4f1f5"/>
<rect x="128.87" y="634.02" width="13.03" height="2.16" fill="#c1e3e7"/>
<rect x="128.87" y="635.88" width="13.03" height="2.16" fill="#d7f2f6"/>
<rect x="128.87" y="637.74" width="13.03" height="2.16" fill="#c9ebf0"/>
<rect x="128.87" y="639.60" width="13.03" height="2.16" fill="#d3f1f5"/>
<rect x="128.87" y="641.46" width="13.03" height="2.16" fill="#daf3f7"/>
<rect x="128.87" y="643.32" width="13.03" height="2.16" fill="#d5f1f5"/>
<rect x="128.87" y="645.18" width="13.03" height="2.16" fill="#c5e7ec"/>
<rect x="128.87" y="647.04" width="13.03" height="2.16" fill="#cceff4"/>
<rect x="128.87" y="648.90" width="13.03" height="2.16" fill="#d9f3f6"/>
<rect x="128.87" y="650.76" width="13.03" height="2.16" fill="#c6e8ed"/>
<rect x="128.87" y="652.62" width="13.03" height="2.16" fill="#d2f1f5"/>
<rect x="128.87" y="654.48" width="13.03" height="2.16" fill="#ceeff4"/>
<rect x="128.87" y="656.34" width="13.03" height="2.16" fill="#c6e8ed"/>
<rect x="65.2" y="546.6" width="76.39999999999999" height="111.60000000000002" fill="none" stroke="#111" stroke-width="1.3"/>
<rect x="56.8" y="546.6" width="6.4" height="33.8" fill="#fcc8b0"/>
<rect x="56.8" y="580.4" width="6.4" height="77.8" fill="#b0f6c0"/>
<rect x="56.8" y="546.6" width="6.4" height="111.6" fill="none" stroke="#111" stroke-width="1.2"/>
<line x1="71.56666666666666" y1="658.2" x2="71.56666666666666" y2="662" stroke="#000" stroke-width="1"/>
<line x1="84.3" y1="658.2" x2="84.3" y2="662" stroke="#000" stroke-width="1"/>
<line x1="97.03333333333333" y1="658.2" x2="97.03333333333333" y2="662" stroke="#000" stroke-width="1"/>
<line x1="109.76666666666667" y1="658.2" x2="109.76666666666667" y2="662" stroke="#000" stroke-width="1"/>
<line x1="122.5" y1="658.2" x2="122.5" y2="662" stroke="#000" stroke-width="1"/>
<line x1="135.23333333333335" y1="658.2" x2="135.23333333333335" y2="662" stroke="#000" stroke-width="1"/>
<line x1="27.2" y1="562.3" x2="27.2" y2="615.4" stroke="#151515" stroke-width="1.0"/>
<line x1="27.2" y1="562.3" x2="51.3" y2="562.3" stroke="#151515" stroke-width="1.0"/>
<line x1="27.2" y1="615.4" x2="46" y2="615.4" stroke="#151515" stroke-width="1.0"/>
<line x1="46" y1="596.4" x2="46" y2="634.9" stroke="#151515" stroke-width="1.0"/>
<line x1="46" y1="596.4" x2="51.7" y2="596.4" stroke="#151515" stroke-width="1.0"/>
<line x1="46" y1="634.9" x2="48.8" y2="634.9" stroke="#151515" stroke-width="1.0"/>
<line x1="49.3" y1="623.8" x2="49.3" y2="645.5" stroke="#151515" stroke-width="1.0"/>
<line x1="48.8" y1="634.9" x2="49.3" y2="634.9" stroke="#151515" stroke-width="1.0"/>
<line x1="49.3" y1="623.8" x2="51.5" y2="623.8" stroke="#151515" stroke-width="1.0"/>
<line x1="49.3" y1="645.5" x2="51.5" y2="645.5" stroke="#151515" stroke-width="1.0"/>
<line x1="56" y1="547.5590909090909" x2="56.4" y2="547.5590909090909" stroke="#151515" stroke-width="0.9"/>
<line x1="55.92321209036691" y1="549.0772727272727" x2="56.4" y2="549.0772727272727" stroke="#151515" stroke-width="0.9"/>
<line x1="55.44351000878731" y1="547.5590909090909" x2="55.44351000878731" y2="549.0772727272727" stroke="#151515" stroke-width="0.9"/>
<line x1="55.44351000878731" y1="547.5590909090909" x2="56" y2="547.5590909090909" stroke="#151515" stroke-width="0.9"/>
<line x1="55.44351000878731" y1="549.0772727272727" x2="55.92321209036691" y2="549.0772727272727" stroke="#151515" stroke-width="0.9"/>
<line x1="56" y1="550.5954545454545" x2="56.4" y2="550.5954545454545" stroke="#151515" stroke-width="0.9"/>
<line x1="54.507056317964704" y1="548.3181818181818" x2="54.507056317964704" y2="550.5954545454545" stroke="#151515" stroke-width="0.9"/>
<line x1="54.507056317964704" y1="548.3181818181818" x2="55.44351000878731" y2="548.3181818181818" stroke="#151515" stroke-width="0.9"/>
<line x1="54.507056317964704" y1="550.5954545454545" x2="56" y2="550.5954545454545" stroke="#151515" stroke-width="0.9"/>
<line x1="56" y1="552.1136363636364" x2="56.4" y2="552.1136363636364" stroke="#151515" stroke-width="0.9"/>
<line x1="56" y1="553.6318181818182" x2="56.4" y2="553.6318181818182" stroke="#151515" stroke-width="0.9"/>
<line x1="56" y1="552.1136363636364" x2="56" y2="553.6318181818182" stroke="#151515" stroke-width="0.9"/>
<line x1="56" y1="552.1136363636364" x2="56" y2="552.1136363636364" stroke="#151515" stroke-width="0.9"/>
<line x1="56" y1="553.6318181818182" x2="56" y2="553.6318181818182" stroke="#151515" stroke-width="0.9"/>
<line x1="56" y1="555.15" x2="56.4" y2="555.15" stroke="#151515" stroke-width="0.9"/>
<line x1="55.10940783137292" y1="552.8727272727273" x2="55.10940783137292" y2="555.15" stroke="#151515" stroke-width="0.9"/>
<line x1="55.10940783137292" y1="552.8727272727273" x2="56" y2="552.8727272727273" stroke="#151515" stroke-width="0.9"/>
<line x1="55.10940783137292" y1="555.15" x2="56" y2="555.15" stroke="#151515" stroke-width="0.9"/>
<line x1="56" y1="556.6681818181818" x2="56.4" y2="556.6681818181818" stroke="#151515" stroke-width="0.9"/>
<line x1="56" y1="558.1863636363636" x2="56.4" y2="558.1863636363636" stroke="#151515" stroke-width="0.9"/>
<line x1="56" y1="556.6681818181818" x2="56" y2="558.1863636363636" stroke="#151515" stroke-width="0.9"/>
<line x1="56" y1="556.6681818181818" x2="56" y2="556.6681818181818" stroke="#151515" stroke-width="0.9"/>
<line x1="56" y1="558.1863636363636" x2="56" y2="558.1863636363636" stroke="#151515" stroke-width="0.9"/>
<line x1="56" y1="559.7045454545455" x2="56.4" y2="559.7045454545455" stroke="#151515" stroke-width="0.9"/>
<line x1="56" y1="561.2227272727273" x2="56.4" y2="561.2227272727273" stroke="#151515" stroke-width="0.9"/>
<line x1="56" y1="559.7045454545455" x2="56" y2="561.2227272727273" stroke="#151515" stroke-width="0.9"/>
<line x1="56" y1="559.7045454545455" x2="56" y2="559.7045454545455" stroke="#151515" stroke-width="0.9"/>
<line x1="56" y1="561.2227272727273" x2="56" y2="561.2227272727273" stroke="#151515" stroke-width="0.9"/>
<line x1="55.733715573656326" y1="557.4272727272727" x2="55.733715573656326" y2="560.4636363636364" stroke="#151515" stroke-width="0.9"/>
<line x1="55.733715573656326" y1="557.4272727272727" x2="56" y2="557.4272727272727" stroke="#151515" stroke-width="0.9"/>
<line x1="55.733715573656326" y1="560.4636363636364" x2="56" y2="560.4636363636364" stroke="#151515" stroke-width="0.9"/>
<line x1="54.612965861060005" y1="554.0113636363636" x2="54.612965861060005" y2="558.9454545454546" stroke="#151515" stroke-width="0.9"/>
<line x1="54.612965861060005" y1="554.0113636363636" x2="55.10940783137292" y2="554.0113636363636" stroke="#151515" stroke-width="0.9"/>
<line x1="54.612965861060005" y1="558.9454545454546" x2="55.733715573656326" y2="558.9454545454546" stroke="#151515" stroke-width="0.9"/>
<line x1="54.19409675452185" y1="549.4568181818181" x2="54.19409675452185" y2="556.478409090909" stroke="#151515" stroke-width="0.9"/>
<line x1="54.19409675452185" y1="549.4568181818181" x2="54.507056317964704" y2="549.4568181818181" stroke="#151515" stroke-width="0.9"/>
<line x1="54.19409675452185" y1="556.478409090909" x2="54.612965861060005" y2="556.478409090909" stroke="#151515" stroke-width="0.9"/>
<line x1="55.56282111192056" y1="562.7409090909091" x2="56.4" y2="562.7409090909091" stroke="#151515" stroke-width="0.9"/>
<line x1="55.24065136638223" y1="564.2590909090909" x2="56.4" y2="564.2590909090909" stroke="#151515" stroke-width="0.9"/>
<line x1="55.284348723083184" y1="565.7772727272727" x2="56.4" y2="565.7772727272727" stroke="#151515" stroke-width="0.9"/>
<line x1="54.82211960936724" y1="564.2590909090909" x2="54.82211960936724" y2="565.7772727272727" stroke="#151515" stroke-width="0.9"/>
<line x1="54.82211960936724" y1="564.2590909090909" x2="55.24065136638223" y2="564.2590909090909" stroke="#151515" stroke-width="0.9"/>
<line x1="54.82211960936724" y1="565.7772727272727" x2="55.284348723083184" y2="565.7772727272727" stroke="#151515" stroke-width="0.9"/>
<line x1="54.41130324653034" y1="562.7409090909091" x2="54.41130324653034" y2="565.0181818181818" stroke="#151515" stroke-width="0.9"/>
<line x1="54.41130324653034" y1="562.7409090909091" x2="55.56282111192056" y2="562.7409090909091" stroke="#151515" stroke-width="0.9"/>
<line x1="54.41130324653034" y1="565.0181818181818" x2="54.82211960936724" y2="565.0181818181818" stroke="#151515" stroke-width="0.9"/>
<line x1="53.14626433439729" y1="552.9676136363636" x2="53.14626433439729" y2="563.8795454545455" stroke="#151515" stroke-width="0.9"/>
<line x1="53.14626433439729" y1="552.9676136363636" x2="54.19409675452185" y2="552.9676136363636" stroke="#151515" stroke-width="0.9"/>
<line x1="53.14626433439729" y1="563.8795454545455" x2="54.41130324653034" y2="563.8795454545455" stroke="#151515" stroke-width="0.9"/>
<line x1="56" y1="567.2954545454545" x2="56.4" y2="567.2954545454545" stroke="#151515" stroke-width="0.9"/>
<line x1="56" y1="568.8136363636364" x2="56.4" y2="568.8136363636364" stroke="#151515" stroke-width="0.9"/>
<line x1="56" y1="570.3318181818182" x2="56.4" y2="570.3318181818182" stroke="#151515" stroke-width="0.9"/>
<line x1="56" y1="568.8136363636364" x2="56" y2="570.3318181818182" stroke="#151515" stroke-width="0.9"/>
<line x1="56" y1="568.8136363636364" x2="56" y2="568.8136363636364" stroke="#151515" stroke-width="0.9"/>
<line x1="56" y1="570.3318181818182" x2="56" y2="570.3318181818182" stroke="#151515" stroke-width="0.9"/>
<line x1="54.69337126462642" y1="567.2954545454545" x2="54.69337126462642" y2="569.5727272727273" stroke="#151515" stroke-width="0.9"/>
<line x1="54.69337126462642" y1="567.2954545454545" x2="56" y2="567.2954545454545" stroke="#151515" stroke-width="0.9"/>
<line x1="54.69337126462642" y1="569.5727272727273" x2="56" y2="569.5727272727273" stroke="#151515" stroke-width="0.9"/>
<line x1="55.59758064816832" y1="571.85" x2="56.4" y2="571.85" stroke="#151515" stroke-width="0.9"/>
<line x1="54.35507199312682" y1="568.4340909090909" x2="54.35507199312682" y2="571.85" stroke="#151515" stroke-width="0.9"/>
<line x1="54.35507199312682" y1="568.4340909090909" x2="54.69337126462642" y2="568.4340909090909" stroke="#151515" stroke-width="0.9"/>
<line x1="54.35507199312682" y1="571.85" x2="55.59758064816832" y2="571.85" stroke="#151515" stroke-width="0.9"/>
<line x1="54.15073579088948" y1="573.3681818181818" x2="56.4" y2="573.3681818181818" stroke="#151515" stroke-width="0.9"/>
<line x1="53.430463683915306" y1="570.1420454545455" x2="53.430463683915306" y2="573.3681818181818" stroke="#151515" stroke-width="0.9"/>
<line x1="53.430463683915306" y1="570.1420454545455" x2="54.35507199312682" y2="570.1420454545455" stroke="#151515" stroke-width="0.9"/>
<line x1="53.430463683915306" y1="573.3681818181818" x2="54.15073579088948" y2="573.3681818181818" stroke="#151515" stroke-width="0.9"/>
<line x1="53.75663000819067" y1="574.8863636363636" x2="56.4" y2="574.8863636363636" stroke="#151515" stroke-width="0.9"/>
<line x1="54.832550436526894" y1="576.4045454545455" x2="56.4" y2="576.4045454545455" stroke="#151515" stroke-width="0.9"/>
<line x1="53.34771973990996" y1="574.8863636363636" x2="53.34771973990996" y2="576.4045454545455" stroke="#151515" stroke-width="0.9"/>
<line x1="53.34771973990996" y1="574.8863636363636" x2="53.75663000819067" y2="574.8863636363636" stroke="#151515" stroke-width="0.9"/>
<line x1="53.34771973990996" y1="576.4045454545455" x2="54.832550436526894" y2="576.4045454545455" stroke="#151515" stroke-width="0.9"/>
<line x1="52.54091199287371" y1="571.7551136363636" x2="52.54091199287371" y2="575.6454545454546" stroke="#151515" stroke-width="0.9"/>
<line x1="52.54091199287371" y1="571.7551136363636" x2="53.430463683915306" y2="571.7551136363636" stroke="#151515" stroke-width="0.9"/>
<line x1="52.54091199287371" y1="575.6454545454546" x2="53.34771973990996" y2="575.6454545454546" stroke="#151515" stroke-width="0.9"/>
<line x1="51.877080445413526" y1="558.4235795454545" x2="51.877080445413526" y2="573.7002840909091" stroke="#151515" stroke-width="0.9"/>
<line x1="51.877080445413526" y1="558.4235795454545" x2="53.14626433439729" y2="558.4235795454545" stroke="#151515" stroke-width="0.9"/>
<line x1="51.877080445413526" y1="573.7002840909091" x2="52.54091199287371" y2="573.7002840909091" stroke="#151515" stroke-width="0.9"/>
<line x1="53.688939412799705" y1="577.9227272727273" x2="56.4" y2="577.9227272727273" stroke="#151515" stroke-width="0.9"/>
<line x1="52.803859165702875" y1="579.4409090909091" x2="56.4" y2="579.4409090909091" stroke="#151515" stroke-width="0.9"/>
<line x1="52.32216437563806" y1="577.9227272727273" x2="52.32216437563806" y2="579.4409090909091" stroke="#151515" stroke-width="0.9"/>
<line x1="52.32216437563806" y1="577.9227272727273" x2="53.688939412799705" y2="577.9227272727273" stroke="#151515" stroke-width="0.9"/>
<line x1="52.32216437563806" y1="579.4409090909091" x2="52.803859165702875" y2="579.4409090909091" stroke="#151515" stroke-width="0.9"/>
<line x1="51.3" y1="566.0619318181818" x2="51.3" y2="578.6818181818182" stroke="#151515" stroke-width="0.9"/>
<line x1="51.3" y1="566.0619318181818" x2="51.877080445413526" y2="566.0619318181818" stroke="#151515" stroke-width="0.9"/>
<line x1="51.3" y1="578.6818181818182" x2="52.32216437563806" y2="578.6818181818182" stroke="#151515" stroke-width="0.9"/>
<line x1="56" y1="581.385" x2="56.4" y2="581.385" stroke="#151515" stroke-width="0.9"/>
<line x1="56" y1="582.955" x2="56.4" y2="582.955" stroke="#151515" stroke-width="0.9"/>
<line x1="55.9041269104666" y1="581.385" x2="55.9041269104666" y2="582.955" stroke="#151515" stroke-width="0.9"/>
<line x1="55.9041269104666" y1="581.385" x2="56" y2="581.385" stroke="#151515" stroke-width="0.9"/>
<line x1="55.9041269104666" y1="582.955" x2="56" y2="582.955" stroke="#151515" stroke-width="0.9"/>
<line x1="56" y1="584.525" x2="56.4" y2="584.525" stroke="#151515" stroke-width="0.9"/>
<line x1="56" y1="586.095" x2="56.4" y2="586.095" stroke="#151515" stroke-width="0.9"/>
<line x1="56" y1="584.525" x2="56" y2="586.095" stroke="#151515" stroke-width="0.9"/>
<line x1="56" y1="584.525" x2="56" y2="584.525" stroke="#151515" stroke-width="0.9"/>
<line x1="56" y1="586.095" x2="56" y2="586.095" stroke="#151515" stroke-width="0.9"/>
<line x1="54.76187030272037" y1="582.1700000000001" x2="54.76187030272037" y2="585.31" stroke="#151515" stroke-width="0.9"/>
<line x1="54.76187030272037" y1="582.1700000000001" x2="55.9041269104666" y2="582.1700000000001" stroke="#151515" stroke-width="0.9"/>
<line x1="54.76187030272037" y1="585.31" x2="56" y2="585.31" stroke="#151515" stroke-width="0.9"/>
<line x1="56" y1="587.665" x2="56.4" y2="587.665" stroke="#151515" stroke-width="0.9"/>
<line x1="55.63592740605109" y1="589.235" x2="56.4" y2="589.235" stroke="#151515" stroke-width="0.9"/>
<line x1="55.2098290291792" y1="587.665" x2="55.2098290291792" y2="589.235" stroke="#151515" stroke-width="0.9"/>
<line x1="55.2098290291792" y1="587.665" x2="56" y2="587.665" stroke="#151515" stroke-width="0.9"/>
<line x1="55.2098290291792" y1="589.235" x2="55.63592740605109" y2="589.235" stroke="#151515" stroke-width="0.9"/>
<line x1="53.970289751026385" y1="583.74" x2="53.970289751026385" y2="588.45" stroke="#151515" stroke-width="0.9"/>
<line x1="53.970289751026385" y1="583.74" x2="54.76187030272037" y2="583.74" stroke="#151515" stroke-width="0.9"/>
<line x1="53.970289751026385" y1="588.45" x2="55.2098290291792" y2="588.45" stroke="#151515" stroke-width="0.9"/>
<line x1="54.21975468324844" y1="590.8050000000001" x2="56.4" y2="590.8050000000001" stroke="#151515" stroke-width="0.9"/>
<line x1="56" y1="592.375" x2="56.4" y2="592.375" stroke="#151515" stroke-width="0.9"/>
<line x1="56" y1="593.945" x2="56.4" y2="593.945" stroke="#151515" stroke-width="0.9"/>
<line x1="55.98839450303064" y1="592.375" x2="55.98839450303064" y2="593.945" stroke="#151515" stroke-width="0.9"/>
<line x1="55.98839450303064" y1="592.375" x2="56" y2="592.375" stroke="#151515" stroke-width="0.9"/>
<line x1="55.98839450303064" y1="593.945" x2="56" y2="593.945" stroke="#151515" stroke-width="0.9"/>
<line x1="56" y1="595.515" x2="56.4" y2="595.515" stroke="#151515" stroke-width="0.9"/>
<line x1="56" y1="597.085" x2="56.4" y2="597.085" stroke="#151515" stroke-width="0.9"/>
<line x1="56" y1="595.515" x2="56" y2="597.085" stroke="#151515" stroke-width="0.9"/>
<line x1="56" y1="595.515" x2="56" y2="595.515" stroke="#151515" stroke-width="0.9"/>
<line x1="56" y1="597.085" x2="56" y2="597.085" stroke="#151515" stroke-width="0.9"/>
<line x1="55.68782298124863" y1="593.1600000000001" x2="55.68782298124863" y2="596.3" stroke="#151515" stroke-width="0.9"/>
<line x1="55.68782298124863" y1="593.1600000000001" x2="55.98839450303064" y2="593.1600000000001" stroke="#151515" stroke-width="0.9"/>
<line x1="55.68782298124863" y1="596.3" x2="56" y2="596.3" stroke="#151515" stroke-width="0.9"/>
<line x1="56" y1="598.655" x2="56.4" y2="598.655" stroke="#151515" stroke-width="0.9"/>
<line x1="56" y1="600.225" x2="56.4" y2="600.225" stroke="#151515" stroke-width="0.9"/>
<line x1="55.15707798190971" y1="598.655" x2="55.15707798190971" y2="600.225" stroke="#151515" stroke-width="0.9"/>
<line x1="55.15707798190971" y1="598.655" x2="56" y2="598.655" stroke="#151515" stroke-width="0.9"/>
<line x1="55.15707798190971" y1="600.225" x2="56" y2="600.225" stroke="#151515" stroke-width="0.9"/>
<line x1="54.23178829246107" y1="594.73" x2="54.23178829246107" y2="599.44" stroke="#151515" stroke-width="0.9"/>
<line x1="54.23178829246107" y1="594.73" x2="55.68782298124863" y2="594.73" stroke="#151515" stroke-width="0.9"/>
<line x1="54.23178829246107" y1="599.44" x2="55.15707798190971" y2="599.44" stroke="#151515" stroke-width="0.9"/>
<line x1="53.67751041903969" y1="590.8050000000001" x2="53.67751041903969" y2="597.085" stroke="#151515" stroke-width="0.9"/>
<line x1="53.67751041903969" y1="590.8050000000001" x2="54.21975468324844" y2="590.8050000000001" stroke="#151515" stroke-width="0.9"/>
<line x1="53.67751041903969" y1="597.085" x2="54.23178829246107" y2="597.085" stroke="#151515" stroke-width="0.9"/>
<line x1="52.46058774133446" y1="586.095" x2="52.46058774133446" y2="593.945" stroke="#151515" stroke-width="0.9"/>
<line x1="52.46058774133446" y1="586.095" x2="53.970289751026385" y2="586.095" stroke="#151515" stroke-width="0.9"/>
<line x1="52.46058774133446" y1="593.945" x2="53.67751041903969" y2="593.945" stroke="#151515" stroke-width="0.9"/>
<line x1="54.51032523386978" y1="601.795" x2="56.4" y2="601.795" stroke="#151515" stroke-width="0.9"/>
<line x1="55.632491943584" y1="603.365" x2="56.4" y2="603.365" stroke="#151515" stroke-width="0.9"/>
<line x1="54.167226254972995" y1="601.795" x2="54.167226254972995" y2="603.365" stroke="#151515" stroke-width="0.9"/>
<line x1="54.167226254972995" y1="601.795" x2="54.51032523386978" y2="601.795" stroke="#151515" stroke-width="0.9"/>
<line x1="54.167226254972995" y1="603.365" x2="55.632491943584" y2="603.365" stroke="#151515" stroke-width="0.9"/>
<line x1="55.580626613983455" y1="604.9350000000001" x2="56.4" y2="604.9350000000001" stroke="#151515" stroke-width="0.9"/>
<line x1="54.85840926377832" y1="606.505" x2="56.4" y2="606.505" stroke="#151515" stroke-width="0.9"/>
<line x1="54.07875082841213" y1="604.9350000000001" x2="54.07875082841213" y2="606.505" stroke="#151515" stroke-width="0.9"/>
<line x1="54.07875082841213" y1="604.9350000000001" x2="55.580626613983455" y2="604.9350000000001" stroke="#151515" stroke-width="0.9"/>
<line x1="54.07875082841213" y1="606.505" x2="54.85840926377832" y2="606.505" stroke="#151515" stroke-width="0.9"/>
<line x1="52.803272591489744" y1="602.5799999999999" x2="52.803272591489744" y2="605.72" stroke="#151515" stroke-width="0.9"/>
<line x1="52.803272591489744" y1="602.5799999999999" x2="54.167226254972995" y2="602.5799999999999" stroke="#151515" stroke-width="0.9"/>
<line x1="52.803272591489744" y1="605.72" x2="54.07875082841213" y2="605.72" stroke="#151515" stroke-width="0.9"/>
<line x1="54.129840252908444" y1="608.075" x2="56.4" y2="608.075" stroke="#151515" stroke-width="0.9"/>
<line x1="55.515206894596915" y1="609.645" x2="56.4" y2="609.645" stroke="#151515" stroke-width="0.9"/>
<line x1="54.61452982848134" y1="611.215" x2="56.4" y2="611.215" stroke="#151515" stroke-width="0.9"/>
<line x1="54.11176959286412" y1="609.645" x2="54.11176959286412" y2="611.215" stroke="#151515" stroke-width="0.9"/>
<line x1="54.11176959286412" y1="609.645" x2="55.515206894596915" y2="609.645" stroke="#151515" stroke-width="0.9"/>
<line x1="54.11176959286412" y1="611.215" x2="54.61452982848134" y2="611.215" stroke="#151515" stroke-width="0.9"/>
<line x1="52.93581172913351" y1="608.075" x2="52.93581172913351" y2="610.4300000000001" stroke="#151515" stroke-width="0.9"/>
<line x1="52.93581172913351" y1="608.075" x2="54.129840252908444" y2="608.075" stroke="#151515" stroke-width="0.9"/>
<line x1="52.93581172913351" y1="610.4300000000001" x2="54.11176959286412" y2="610.4300000000001" stroke="#151515" stroke-width="0.9"/>
<line x1="52.305524497305925" y1="604.15" x2="52.305524497305925" y2="609.2525" stroke="#151515" stroke-width="0.9"/>
<line x1="52.305524497305925" y1="604.15" x2="52.803272591489744" y2="604.15" stroke="#151515" stroke-width="0.9"/>
<line x1="52.305524497305925" y1="609.2525" x2="52.93581172913351" y2="609.2525" stroke="#151515" stroke-width="0.9"/>
<line x1="51.7" y1="590.02" x2="51.7" y2="606.7012500000001" stroke="#151515" stroke-width="0.9"/>
<line x1="51.7" y1="590.02" x2="52.46058774133446" y2="590.02" stroke="#151515" stroke-width="0.9"/>
<line x1="51.7" y1="606.7012500000001" x2="52.305524497305925" y2="606.7012500000001" stroke="#151515" stroke-width="0.9"/>
<line x1="53.84239797889377" y1="613.125" x2="56.4" y2="613.125" stroke="#151515" stroke-width="0.9"/>
<line x1="55.951570679425124" y1="615.375" x2="56.4" y2="615.375" stroke="#151515" stroke-width="0.9"/>
<line x1="55.306707336954126" y1="617.625" x2="56.4" y2="617.625" stroke="#151515" stroke-width="0.9"/>
<line x1="54.766888257253655" y1="615.375" x2="54.766888257253655" y2="617.625" stroke="#151515" stroke-width="0.9"/>
<line x1="54.766888257253655" y1="615.375" x2="55.951570679425124" y2="615.375" stroke="#151515" stroke-width="0.9"/>
<line x1="54.766888257253655" y1="617.625" x2="55.306707336954126" y2="617.625" stroke="#151515" stroke-width="0.9"/>
<line x1="55.896779524041186" y1="619.875" x2="56.4" y2="619.875" stroke="#151515" stroke-width="0.9"/>
<line x1="55.99711345772054" y1="622.125" x2="56.4" y2="622.125" stroke="#151515" stroke-width="0.9"/>
<line x1="55.38442035038125" y1="619.875" x2="55.38442035038125" y2="622.125" stroke="#151515" stroke-width="0.9"/>
<line x1="55.38442035038125" y1="619.875" x2="55.896779524041186" y2="619.875" stroke="#151515" stroke-width="0.9"/>
<line x1="55.38442035038125" y1="622.125" x2="55.99711345772054" y2="622.125" stroke="#151515" stroke-width="0.9"/>
<line x1="55.9683861958228" y1="624.375" x2="56.4" y2="624.375" stroke="#151515" stroke-width="0.9"/>
<line x1="54.71633418007339" y1="621.0" x2="54.71633418007339" y2="624.375" stroke="#151515" stroke-width="0.9"/>
<line x1="54.71633418007339" y1="621.0" x2="55.38442035038125" y2="621.0" stroke="#151515" stroke-width="0.9"/>
<line x1="54.71633418007339" y1="624.375" x2="55.9683861958228" y2="624.375" stroke="#151515" stroke-width="0.9"/>
<line x1="53.6134782337904" y1="616.5" x2="53.6134782337904" y2="622.6875" stroke="#151515" stroke-width="0.9"/>
<line x1="53.6134782337904" y1="616.5" x2="54.766888257253655" y2="616.5" stroke="#151515" stroke-width="0.9"/>
<line x1="53.6134782337904" y1="622.6875" x2="54.71633418007339" y2="622.6875" stroke="#151515" stroke-width="0.9"/>
<line x1="53.28106881133962" y1="613.125" x2="53.28106881133962" y2="619.59375" stroke="#151515" stroke-width="0.9"/>
<line x1="53.28106881133962" y1="613.125" x2="53.84239797889377" y2="613.125" stroke="#151515" stroke-width="0.9"/>
<line x1="53.28106881133962" y1="619.59375" x2="53.6134782337904" y2="619.59375" stroke="#151515" stroke-width="0.9"/>
<line x1="54.260812714202515" y1="626.625" x2="56.4" y2="626.625" stroke="#151515" stroke-width="0.9"/>
<line x1="52.66913511024101" y1="616.359375" x2="52.66913511024101" y2="626.625" stroke="#151515" stroke-width="0.9"/>
<line x1="52.66913511024101" y1="616.359375" x2="53.28106881133962" y2="616.359375" stroke="#151515" stroke-width="0.9"/>
<line x1="52.66913511024101" y1="626.625" x2="54.260812714202515" y2="626.625" stroke="#151515" stroke-width="0.9"/>
<line x1="52.17843087010117" y1="628.875" x2="56.4" y2="628.875" stroke="#151515" stroke-width="0.9"/>
<line x1="51.5" y1="621.4921875" x2="51.5" y2="628.875" stroke="#151515" stroke-width="0.9"/>
<line x1="51.5" y1="621.4921875" x2="52.66913511024101" y2="621.4921875" stroke="#151515" stroke-width="0.9"/>
<line x1="51.5" y1="628.875" x2="52.17843087010117" y2="628.875" stroke="#151515" stroke-width="0.9"/>
<line x1="55.16678683141273" y1="630.7777777777778" x2="56.4" y2="630.7777777777778" stroke="#151515" stroke-width="0.9"/>
<line x1="54.98935272937301" y1="632.3333333333334" x2="56.4" y2="632.3333333333334" stroke="#151515" stroke-width="0.9"/>
<line x1="54.64610217745679" y1="630.7777777777778" x2="54.64610217745679" y2="632.3333333333334" stroke="#151515" stroke-width="0.9"/>
<line x1="54.64610217745679" y1="630.7777777777778" x2="55.16678683141273" y2="630.7777777777778" stroke="#151515" stroke-width="0.9"/>
<line x1="54.64610217745679" y1="632.3333333333334" x2="54.98935272937301" y2="632.3333333333334" stroke="#151515" stroke-width="0.9"/>
<line x1="56" y1="633.8888888888889" x2="56.4" y2="633.8888888888889" stroke="#151515" stroke-width="0.9"/>
<line x1="56" y1="635.4444444444445" x2="56.4" y2="635.4444444444445" stroke="#151515" stroke-width="0.9"/>
<line x1="55.580017571232354" y1="633.8888888888889" x2="55.580017571232354" y2="635.4444444444445" stroke="#151515" stroke-width="0.9"/>
<line x1="55.580017571232354" y1="633.8888888888889" x2="56" y2="633.8888888888889" stroke="#151515" stroke-width="0.9"/>
<line x1="55.580017571232354" y1="635.4444444444445" x2="56" y2="635.4444444444445" stroke="#151515" stroke-width="0.9"/>
<line x1="54.26697526145845" y1="631.5555555555557" x2="54.26697526145845" y2="634.6666666666667" stroke="#151515" stroke-width="0.9"/>
<line x1="54.26697526145845" y1="631.5555555555557" x2="54.64610217745679" y2="631.5555555555557" stroke="#151515" stroke-width="0.9"/>
<line x1="54.26697526145845" y1="634.6666666666667" x2="55.580017571232354" y2="634.6666666666667" stroke="#151515" stroke-width="0.9"/>
<line x1="55.14298051006648" y1="637.0" x2="56.4" y2="637.0" stroke="#151515" stroke-width="0.9"/>
<line x1="54.98294916504928" y1="638.5555555555555" x2="56.4" y2="638.5555555555555" stroke="#151515" stroke-width="0.9"/>
<line x1="55.22956193478631" y1="640.1111111111111" x2="56.4" y2="640.1111111111111" stroke="#151515" stroke-width="0.9"/>
<line x1="54.61305923152553" y1="638.5555555555555" x2="54.61305923152553" y2="640.1111111111111" stroke="#151515" stroke-width="0.9"/>
<line x1="54.61305923152553" y1="638.5555555555555" x2="54.98294916504928" y2="638.5555555555555" stroke="#151515" stroke-width="0.9"/>
<line x1="54.61305923152553" y1="640.1111111111111" x2="55.22956193478631" y2="640.1111111111111" stroke="#151515" stroke-width="0.9"/>
<line x1="53.67455096218923" y1="637.0" x2="53.67455096218923" y2="639.3333333333333" stroke="#151515" stroke-width="0.9"/>
<line x1="53.67455096218923" y1="637.0" x2="55.14298051006648" y2="637.0" stroke="#151515" stroke-width="0.9"/>
<line x1="53.67455096218923" y1="639.3333333333333" x2="54.61305923152553" y2="639.3333333333333" stroke="#151515" stroke-width="0.9"/>
<line x1="53.02262632665856" y1="633.1111111111112" x2="53.02262632665856" y2="638.1666666666666" stroke="#151515" stroke-width="0.9"/>
<line x1="53.02262632665856" y1="633.1111111111112" x2="54.26697526145845" y2="633.1111111111112" stroke="#151515" stroke-width="0.9"/>
<line x1="53.02262632665856" y1="638.1666666666666" x2="53.67455096218923" y2="638.1666666666666" stroke="#151515" stroke-width="0.9"/>
<line x1="53.58627915760726" y1="641.6666666666666" x2="56.4" y2="641.6666666666666" stroke="#151515" stroke-width="0.9"/>
<line x1="54.58770767266245" y1="643.2222222222222" x2="56.4" y2="643.2222222222222" stroke="#151515" stroke-width="0.9"/>
<line x1="56" y1="644.7777777777778" x2="56.4" y2="644.7777777777778" stroke="#151515" stroke-width="0.9"/>
<line x1="56" y1="646.3333333333334" x2="56.4" y2="646.3333333333334" stroke="#151515" stroke-width="0.9"/>
<line x1="56" y1="644.7777777777778" x2="56" y2="646.3333333333334" stroke="#151515" stroke-width="0.9"/>
<line x1="56" y1="644.7777777777778" x2="56" y2="644.7777777777778" stroke="#151515" stroke-width="0.9"/>
<line x1="56" y1="646.3333333333334" x2="56" y2="646.3333333333334" stroke="#151515" stroke-width="0.9"/>
<line x1="56" y1="647.8888888888889" x2="56.4" y2="647.8888888888889" stroke="#151515" stroke-width="0.9"/>
<line x1="56" y1="649.4444444444445" x2="56.4" y2="649.4444444444445" stroke="#151515" stroke-width="0.9"/>
<line x1="56" y1="647.8888888888889" x2="56" y2="649.4444444444445" stroke="#151515" stroke-width="0.9"/>
<line x1="56" y1="647.8888888888889" x2="56" y2="647.8888888888889" stroke="#151515" stroke-width="0.9"/>
<line x1="56" y1="649.4444444444445" x2="56" y2="649.4444444444445" stroke="#151515" stroke-width="0.9"/>
<line x1="56" y1="651.0" x2="56.4" y2="651.0" stroke="#151515" stroke-width="0.9"/>
<line x1="56" y1="648.6666666666667" x2="56" y2="651.0" stroke="#151515" stroke-width="0.9"/>
<line x1="56" y1="648.6666666666667" x2="56" y2="648.6666666666667" stroke="#151515" stroke-width="0.9"/>
<line x1="56" y1="651.0" x2="56" y2="651.0" stroke="#151515" stroke-width="0.9"/>
<line x1="55.918003769337005" y1="645.5555555555557" x2="55.918003769337005" y2="649.8333333333334" stroke="#151515" stroke-width="0.9"/>
<line x1="55.918003769337005" y1="645.5555555555557" x2="56" y2="645.5555555555557" stroke="#151515" stroke-width="0.9"/>
<line x1="55.918003769337005" y1="649.8333333333334" x2="56" y2="649.8333333333334" stroke="#151515" stroke-width="0.9"/>
<line x1="56" y1="652.5555555555555" x2="56.4" y2="652.5555555555555" stroke="#151515" stroke-width="0.9"/>
<line x1="56" y1="654.1111111111111" x2="56.4" y2="654.1111111111111" stroke="#151515" stroke-width="0.9"/>
<line x1="56" y1="655.6666666666666" x2="56.4" y2="655.6666666666666" stroke="#151515" stroke-width="0.9"/>
<line x1="56" y1="654.1111111111111" x2="56" y2="655.6666666666666" stroke="#151515" stroke-width="0.9"/>
<line x1="56" y1="654.1111111111111" x2="56" y2="654.1111111111111" stroke="#151515" stroke-width="0.9"/>
<line x1="56" y1="655.6666666666666" x2="56" y2="655.6666666666666" stroke="#151515" stroke-width="0.9"/>
<line x1="56" y1="657.2222222222222" x2="56.4" y2="657.2222222222222" stroke="#151515" stroke-width="0.9"/>
<line x1="56" y1="654.8888888888889" x2="56" y2="657.2222222222222" stroke="#151515" stroke-width="0.9"/>
<line x1="56" y1="654.8888888888889" x2="56" y2="654.8888888888889" stroke="#151515" stroke-width="0.9"/>
<line x1="56" y1="657.2222222222222" x2="56" y2="657.2222222222222" stroke="#151515" stroke-width="0.9"/>
<line x1="56" y1="652.5555555555555" x2="56" y2="656.0555555555555" stroke="#151515" stroke-width="0.9"/>
<line x1="56" y1="652.5555555555555" x2="56" y2="652.5555555555555" stroke="#151515" stroke-width="0.9"/>
<line x1="56" y1="656.0555555555555" x2="56" y2="656.0555555555555" stroke="#151515" stroke-width="0.9"/>
<line x1="54.78536215461124" y1="647.6944444444446" x2="54.78536215461124" y2="654.3055555555555" stroke="#151515" stroke-width="0.9"/>
<line x1="54.78536215461124" y1="647.6944444444446" x2="55.918003769337005" y2="647.6944444444446" stroke="#151515" stroke-width="0.9"/>
<line x1="54.78536215461124" y1="654.3055555555555" x2="56" y2="654.3055555555555" stroke="#151515" stroke-width="0.9"/>
<line x1="53.955648609023285" y1="643.2222222222222" x2="53.955648609023285" y2="651.0" stroke="#151515" stroke-width="0.9"/>
<line x1="53.955648609023285" y1="643.2222222222222" x2="54.58770767266245" y2="643.2222222222222" stroke="#151515" stroke-width="0.9"/>
<line x1="53.955648609023285" y1="651.0" x2="54.78536215461124" y2="651.0" stroke="#151515" stroke-width="0.9"/>
<line x1="52.639635713333526" y1="641.6666666666666" x2="52.639635713333526" y2="647.1111111111111" stroke="#151515" stroke-width="0.9"/>
<line x1="52.639635713333526" y1="641.6666666666666" x2="53.58627915760726" y2="641.6666666666666" stroke="#151515" stroke-width="0.9"/>
<line x1="52.639635713333526" y1="647.1111111111111" x2="53.955648609023285" y2="647.1111111111111" stroke="#151515" stroke-width="0.9"/>
<line x1="51.5" y1="635.6388888888889" x2="51.5" y2="644.3888888888889" stroke="#151515" stroke-width="0.9"/>
<line x1="51.5" y1="635.6388888888889" x2="53.02262632665856" y2="635.6388888888889" stroke="#151515" stroke-width="0.9"/>
<line x1="51.5" y1="644.3888888888889" x2="52.639635713333526" y2="644.3888888888889" stroke="#151515" stroke-width="0.9"/>
<text x="72.77" y="665.8" font-size="8.7" text-anchor="end" fill="#000" transform="rotate(-90 72.77 665.8)">control_3</text>
<text x="85.5" y="665.8" font-size="8.7" text-anchor="end" fill="#000" transform="rotate(-90 85.5 665.8)">control_2</text>
<text x="98.23" y="665.8" font-size="8.7" text-anchor="end" fill="#000" transform="rotate(-90 98.23 665.8)">control_1</text>
<text x="110.97" y="665.8" font-size="8.7" text-anchor="end" transform="rotate(-90 110.97 665.8)"><tspan font-style="italic">Runx1</tspan>_3</text>
<text x="123.70" y="665.8" font-size="8.7" text-anchor="end" transform="rotate(-90 123.70 665.8)"><tspan font-style="italic">Runx1</tspan>_2</text>
<text x="136.43" y="665.8" font-size="8.7" text-anchor="end" transform="rotate(-90 136.43 665.8)"><tspan font-style="italic">Runx1</tspan>_1</text>
<text x="8.5" y="491.25" font-size="12.5" text-anchor="start" fill="#000" font-weight="bold" stroke="#000" stroke-width="0.55">G</text>
<text x="21" y="504.4" font-size="8.4" text-anchor="start" fill="#000" textLength="41.1" lengthAdjust="spacingAndGlyphs">Normalized</text>
<text x="27" y="514.7" font-size="8.4" text-anchor="start" fill="#000" textLength="27.9" lengthAdjust="spacingAndGlyphs">Z-score</text>
<text x="18.4" y="539.2" font-size="8.6" text-anchor="start" fill="#000" textLength="16.8" lengthAdjust="spacingAndGlyphs">−2.5</text>
<text x="38.6" y="539.2" font-size="8.6" text-anchor="start" fill="#000" textLength="4.3" lengthAdjust="spacingAndGlyphs">0</text>
<text x="48.7" y="539.2" font-size="8.6" text-anchor="start" fill="#000" textLength="11.5" lengthAdjust="spacingAndGlyphs">2.5</text>
<rect x="146.9" y="521.7" width="5.9" height="22.6" fill="#0a2fb2"/>
<rect x="154.68" y="526.4" width="5.9" height="17.9" fill="#0a2fb2"/>
<rect x="162.46" y="527.4" width="5.9" height="16.9" fill="#0a2fb2"/>
<rect x="170.24" y="529" width="5.9" height="15.3" fill="#0a2fb2"/>
<rect x="178.02" y="529" width="5.9" height="15.3" fill="#0a2fb2"/>
<rect x="185.8" y="531.4" width="5.9" height="12.9" fill="#0a2fb2"/>
<rect x="193.58" y="531.6" width="5.9" height="12.7" fill="#0a2fb2"/>
<rect x="201.36" y="531.6" width="5.9" height="12.7" fill="#0a2fb2"/>
<rect x="209.14" y="531.6" width="5.9" height="12.7" fill="#0a2fb2"/>
<rect x="216.92" y="531.6" width="5.9" height="12.7" fill="#0a2fb2"/>
<line x1="146" y1="544.6" x2="225.4" y2="544.6" stroke="#000" stroke-width="1.2"/>
<line x1="225.4" y1="518.4" x2="225.4" y2="544.6" stroke="#000" stroke-width="1.1"/>
<line x1="225.4" y1="518.8" x2="228.2" y2="518.8" stroke="#000" stroke-width="1"/>
<text x="228.8" y="521.9" font-size="8.6" text-anchor="start" fill="#000">20</text>
<line x1="225.4" y1="531.2" x2="228.2" y2="531.2" stroke="#000" stroke-width="1"/>
<text x="228.8" y="534.3000000000001" font-size="8.6" text-anchor="start" fill="#000">10</text>
<line x1="225.4" y1="543.8" x2="228.2" y2="543.8" stroke="#000" stroke-width="1"/>
<text x="228.8" y="546.9" font-size="8.6" text-anchor="start" fill="#000">0</text>
<text x="256.4" y="557.6" font-size="9" transform="rotate(-90 256.4 557.6)" textLength="50.5" lengthAdjust="spacingAndGlyphs">−log10 (pvalue)</text>
<rect x="146.3" y="545.6" width="77.29999999999998" height="112.69999999999993" fill="#f6fafb"/>
<rect x="193.28" y="612.36" width="6.53" height="0.8" fill="#cce2de"/>
<rect x="162.36" y="574.15" width="14.26" height="0.7" fill="#b0d0cb"/>
<rect x="216.47" y="592.85" width="6.53" height="0.8" fill="#e2efed"/>
<rect x="185.55" y="641.11" width="14.26" height="0.8" fill="#cce2de"/>
<rect x="201.01" y="639.84" width="14.26" height="0.7" fill="#bed8d4"/>
<rect x="208.74" y="556.23" width="14.26" height="1.1" fill="#bed8d4"/>
<rect x="146.9" y="547.44" width="6.53" height="0.9" fill="#cce2de"/>
<rect x="208.74" y="603.5" width="6.53" height="1.1" fill="#cce2de"/>
<rect x="146.9" y="570.28" width="6.53" height="0.8" fill="#a6c8c4"/>
<rect x="201.01" y="654.42" width="14.26" height="0.8" fill="#e2efed"/>
<rect x="146.9" y="565.38" width="6.53" height="1.1" fill="#a6c8c4"/>
<rect x="154.63" y="615.93" width="21.99" height="0.9" fill="#cce2de"/>
<rect x="216.47" y="582.77" width="6.53" height="1.1" fill="#e2efed"/>
<rect x="170.09" y="653.43" width="21.99" height="0.8" fill="#a6c8c4"/>
<rect x="201.01" y="590.93" width="6.53" height="0.9" fill="#cce2de"/>
<rect x="201.01" y="560.96" width="21.99" height="0.8" fill="#a6c8c4"/>
<rect x="216.47" y="560.24" width="6.63" height="0.8" fill="#d8eae6"/>
<rect x="177.82" y="566.09" width="6.53" height="0.8" fill="#cce2de"/>
<rect x="208.74" y="601.35" width="6.53" height="0.9" fill="#cce2de"/>
<rect x="154.63" y="586.28" width="21.99" height="0.7" fill="#a6c8c4"/>
<rect x="208.74" y="610.85" width="6.53" height="0.9" fill="#d8eae6"/>
<rect x="170.09" y="583.54" width="6.53" height="1.1" fill="#b0d0cb"/>
<rect x="193.28" y="605.22" width="14.26" height="0.7" fill="#cce2de"/>
<rect x="185.55" y="590.32" width="14.26" height="0.8" fill="#b0d0cb"/>
<rect x="177.82" y="571.4" width="21.99" height="0.9" fill="#a6c8c4"/>
<rect x="154.63" y="625.66" width="21.99" height="0.8" fill="#cce2de"/>
<rect x="193.28" y="629.04" width="6.53" height="1.1" fill="#d8eae6"/>
<rect x="193.28" y="574.71" width="21.99" height="0.9" fill="#e2efed"/>
<rect x="185.55" y="605.1" width="14.26" height="1.1" fill="#bed8d4"/>
<rect x="177.82" y="618.81" width="6.53" height="0.8" fill="#e2efed"/>
<rect x="177.82" y="621.02" width="6.53" height="1.1" fill="#e2efed"/>
<rect x="170.09" y="643.96" width="6.53" height="0.7" fill="#bed8d4"/>
<rect x="185.55" y="652.42" width="14.26" height="0.8" fill="#cce2de"/>
<rect x="177.82" y="628.11" width="14.26" height="0.8" fill="#a6c8c4"/>
<rect x="193.28" y="584.51" width="21.99" height="0.7" fill="#b0d0cb"/>
<rect x="154.63" y="568.81" width="6.53" height="0.9" fill="#e2efed"/>
<rect x="162.36" y="635.0" width="6.53" height="0.9" fill="#cce2de"/>
<rect x="193.28" y="604.85" width="6.53" height="0.9" fill="#e2efed"/>
<rect x="170.09" y="656.25" width="14.26" height="0.7" fill="#bed8d4"/>
<rect x="216.47" y="553.0" width="6.53" height="0.9" fill="#bed8d4"/>
<rect x="208.74" y="624.59" width="14.26" height="0.9" fill="#e2efed"/>
<rect x="170.09" y="655.4" width="14.26" height="1.1" fill="#b0d0cb"/>
<rect x="162.36" y="582.7" width="6.53" height="1.1" fill="#cce2de"/>
<rect x="193.28" y="651.29" width="6.53" height="0.9" fill="#cce2de"/>
<rect x="177.82" y="597.41" width="6.53" height="1.1" fill="#a6c8c4"/>
<rect x="162.36" y="649.38" width="14.26" height="1.1" fill="#b0d0cb"/>
<rect x="162.36" y="604.92" width="21.99" height="0.7" fill="#b0d0cb"/>
<rect x="154.63" y="600.81" width="6.53" height="0.7" fill="#bed8d4"/>
<rect x="216.47" y="576.81" width="6.63" height="0.9" fill="#d8eae6"/>
<rect x="193.28" y="561.54" width="6.53" height="1.1" fill="#d8eae6"/>
<rect x="146.9" y="602.69" width="6.53" height="0.9" fill="#e2efed"/>
<rect x="162.36" y="552.91" width="14.26" height="0.8" fill="#b0d0cb"/>
<rect x="170.09" y="565.45" width="6.53" height="0.9" fill="#bed8d4"/>
<rect x="154.63" y="568.35" width="14.26" height="0.8" fill="#e2efed"/>
<rect x="185.55" y="636.03" width="14.26" height="0.7" fill="#d8eae6"/>
<rect x="162.36" y="563.08" width="14.26" height="0.7" fill="#d8eae6"/>
<rect x="208.74" y="564.87" width="14.26" height="0.8" fill="#a6c8c4"/>
<rect x="216.47" y="652.86" width="6.63" height="0.9" fill="#cce2de"/>
<rect x="146.9" y="635.39" width="21.99" height="0.8" fill="#b0d0cb"/>
<rect x="177.82" y="558.79" width="6.53" height="0.7" fill="#b0d0cb"/>
<rect x="170.09" y="621.43" width="6.53" height="0.8" fill="#d8eae6"/>
<rect x="216.47" y="633.59" width="6.53" height="0.8" fill="#d8eae6"/>
<rect x="162.36" y="587.53" width="14.26" height="0.7" fill="#bed8d4"/>
<rect x="216.47" y="579.58" width="6.53" height="0.8" fill="#cce2de"/>
<rect x="146.9" y="635.42" width="21.99" height="0.9" fill="#bed8d4"/>
<rect x="154.63" y="634.54" width="6.53" height="0.9" fill="#d8eae6"/>
<rect x="162.36" y="581.41" width="14.26" height="0.9" fill="#bed8d4"/>
<rect x="146.9" y="576.29" width="6.53" height="0.8" fill="#cce2de"/>
<rect x="146.9" y="649.59" width="14.26" height="1.1" fill="#a6c8c4"/>
<rect x="193.28" y="645.47" width="6.53" height="0.8" fill="#cce2de"/>
<rect x="208.74" y="552.59" width="6.53" height="0.9" fill="#cce2de"/>
<rect x="162.36" y="556.91" width="14.26" height="0.7" fill="#d8eae6"/>
<rect x="170.09" y="651.18" width="6.53" height="0.9" fill="#a6c8c4"/>
<rect x="146.9" y="574.53" width="21.99" height="1.1" fill="#e2efed"/>
<rect x="162.36" y="617.2" width="6.53" height="1.1" fill="#e2efed"/>
<rect x="201.01" y="611.13" width="6.53" height="1.1" fill="#bed8d4"/>
<rect x="162.36" y="613.76" width="6.53" height="0.8" fill="#bed8d4"/>
<rect x="170.09" y="599.77" width="14.26" height="0.7" fill="#a6c8c4"/>
<rect x="193.28" y="646.01" width="14.26" height="0.8" fill="#cce2de"/>
<rect x="201.01" y="573.85" width="14.26" height="0.9" fill="#a6c8c4"/>
<rect x="162.36" y="620.35" width="14.26" height="0.7" fill="#e2efed"/>
<rect x="170.09" y="571.48" width="6.53" height="1.1" fill="#a6c8c4"/>
<rect x="193.28" y="554.55" width="6.53" height="0.9" fill="#bed8d4"/>
<rect x="216.47" y="567.34" width="6.53" height="0.7" fill="#a6c8c4"/>
<rect x="146.9" y="581.18" width="6.53" height="0.9" fill="#d8eae6"/>
<rect x="162.36" y="647.87" width="6.53" height="0.7" fill="#bed8d4"/>
<rect x="216.47" y="568.13" width="6.53" height="0.7" fill="#bed8d4"/>
<rect x="162.36" y="562.21" width="6.53" height="0.9" fill="#bed8d4"/>
<rect x="170.09" y="650.11" width="6.53" height="0.9" fill="#d8eae6"/>
<rect x="170.09" y="555.19" width="6.53" height="0.7" fill="#b0d0cb"/>
<rect x="185.55" y="644.22" width="21.99" height="0.8" fill="#cce2de"/>
<rect x="154.63" y="565.9" width="6.53" height="0.9" fill="#cce2de"/>
<rect x="216.47" y="649.87" width="6.53" height="0.7" fill="#a6c8c4"/>
<rect x="193.28" y="594.41" width="6.53" height="0.9" fill="#a6c8c4"/>
<rect x="201.01" y="642.71" width="6.53" height="0.9" fill="#e2efed"/>
<rect x="185.55" y="635.28" width="14.26" height="0.8" fill="#bed8d4"/>
<rect x="154.63" y="570.7" width="21.99" height="0.7" fill="#bed8d4"/>
<rect x="177.82" y="614.76" width="21.99" height="0.8" fill="#cce2de"/>
<rect x="201.01" y="603.86" width="14.26" height="0.9" fill="#e2efed"/>
<rect x="154.63" y="559.98" width="14.26" height="0.9" fill="#d8eae6"/>
<rect x="201.01" y="645.56" width="14.26" height="1.1" fill="#a6c8c4"/>
<rect x="193.28" y="629.38" width="14.26" height="0.8" fill="#e2efed"/>
<rect x="216.47" y="647.81" width="6.63" height="0.9" fill="#d8eae6"/>
<rect x="193.28" y="554.07" width="14.26" height="1.1" fill="#bed8d4"/>
<rect x="201.01" y="611.91" width="6.53" height="0.7" fill="#a6c8c4"/>
<rect x="146.9" y="616.18" width="14.26" height="0.8" fill="#b0d0cb"/>
<rect x="193.28" y="618.75" width="21.99" height="0.7" fill="#e2efed"/>
<rect x="146.9" y="581.75" width="6.53" height="0.7" fill="#cce2de"/>
<rect x="146.9" y="637.69" width="21.99" height="0.8" fill="#bed8d4"/>
<rect x="162.36" y="622.37" width="14.26" height="1.1" fill="#cce2de"/>
<rect x="154.63" y="566.87" width="6.53" height="1.1" fill="#b0d0cb"/>
<rect x="154.63" y="650.66" width="6.53" height="0.9" fill="#bed8d4"/>
<rect x="162.36" y="626.42" width="14.26" height="0.7" fill="#d8eae6"/>
<rect x="177.82" y="560.69" width="6.53" height="1.1" fill="#bed8d4"/>
<rect x="170.09" y="641.14" width="14.26" height="0.9" fill="#e2efed"/>
<rect x="201.01" y="574.35" width="6.53" height="1.1" fill="#cce2de"/>
<rect x="177.82" y="582.7" width="6.53" height="0.8" fill="#cce2de"/>
<rect x="216.47" y="603.21" width="6.53" height="1.1" fill="#cce2de"/>
<rect x="162.36" y="583.65" width="14.26" height="1.1" fill="#a6c8c4"/>
<rect x="216.47" y="547.76" width="6.63" height="1.1" fill="#d8eae6"/>
<rect x="201.01" y="547.13" width="6.53" height="0.8" fill="#d8eae6"/>
<rect x="177.82" y="562.68" width="6.53" height="0.9" fill="#bed8d4"/>
<rect x="162.36" y="620.82" width="14.26" height="0.7" fill="#cce2de"/>
<rect x="216.47" y="549.36" width="6.53" height="0.9" fill="#cce2de"/>
<rect x="193.28" y="551.3" width="6.53" height="0.9" fill="#a6c8c4"/>
<rect x="201.01" y="584.93" width="6.53" height="0.8" fill="#bed8d4"/>
<rect x="146.9" y="622.92" width="14.26" height="0.8" fill="#e2efed"/>
<rect x="170.09" y="615.5" width="14.26" height="1.1" fill="#e2efed"/>
<rect x="201.01" y="612.83" width="21.99" height="0.8" fill="#e2efed"/>
<rect x="208.74" y="605.17" width="14.26" height="0.7" fill="#d8eae6"/>
<rect x="147" y="645" width="22" height="1.6" fill="#b8d2d2"/>
<rect x="147" y="606" width="6" height="3" fill="#c0d8dc"/>
<rect x="186" y="644" width="8" height="3" fill="#b4cccc"/>
<rect x="216" y="566" width="7" height="3" fill="#b0cccc"/>
<rect x="178" y="565.5" width="14" height="1.8" fill="#a8c8c8"/>
<rect x="162" y="591" width="8" height="3" fill="#c4dae0"/>
<rect x="215" y="592" width="8" height="2.5" fill="#c8dce0"/>
<rect x="146.3" y="545.6" width="77.29999999999998" height="112.69999999999993" fill="none" stroke="#111" stroke-width="1.3"/>
<rect x="224.2" y="545.6" width="4.6" height="33" fill="#fcc8b0"/>
<rect x="224.2" y="578.6" width="4.6" height="79.7" fill="#b0f6c0"/>
<line x1="150.0" y1="658.3" x2="150.0" y2="662.5" stroke="#000" stroke-width="1"/>
<text x="152.0" y="665.8" font-size="8.6" text-anchor="end" fill="#000" font-style="italic" transform="rotate(-90 152.0 665.8)">Gata2</text>
<line x1="157.76" y1="658.3" x2="157.76" y2="662.5" stroke="#000" stroke-width="1"/>
<text x="159.76" y="665.8" font-size="8.6" text-anchor="end" fill="#000" font-style="italic" transform="rotate(-90 159.76 665.8)">Mrtfb</text>
<line x1="165.52" y1="658.3" x2="165.52" y2="662.5" stroke="#000" stroke-width="1"/>
<text x="167.52" y="665.8" font-size="8.6" text-anchor="end" fill="#000" font-style="italic" transform="rotate(-90 167.52 665.8)">Mrtfa</text>
<line x1="173.28" y1="658.3" x2="173.28" y2="662.5" stroke="#000" stroke-width="1"/>
<text x="175.28" y="665.8" font-size="8.6" text-anchor="end" fill="#000" font-style="italic" transform="rotate(-90 175.28 665.8)">Ep300</text>
<line x1="181.04" y1="658.3" x2="181.04" y2="662.5" stroke="#000" stroke-width="1"/>
<text x="183.04" y="665.8" font-size="8.6" text-anchor="end" fill="#000" font-style="italic" transform="rotate(-90 183.04 665.8)">Srf</text>
<line x1="188.8" y1="658.3" x2="188.8" y2="662.5" stroke="#000" stroke-width="1"/>
<text x="190.8" y="665.8" font-size="8.6" text-anchor="end" fill="#000" font-style="italic" transform="rotate(-90 190.8 665.8)">Stat3</text>
<line x1="196.56" y1="658.3" x2="196.56" y2="662.5" stroke="#000" stroke-width="1"/>
<text x="198.56" y="665.8" font-size="8.6" text-anchor="end" fill="#000" font-style="italic" transform="rotate(-90 198.56 665.8)">Stat6</text>
<line x1="204.32" y1="658.3" x2="204.32" y2="662.5" stroke="#000" stroke-width="1"/>
<text x="206.32" y="665.8" font-size="8.6" text-anchor="end" fill="#000" font-style="italic" transform="rotate(-90 206.32 665.8)">Runx1</text>
<line x1="212.07999999999998" y1="658.3" x2="212.07999999999998" y2="662.5" stroke="#000" stroke-width="1"/>
<text x="214.08" y="665.8" font-size="8.6" text-anchor="end" fill="#000" font-style="italic" transform="rotate(-90 214.08 665.8)">Crebbp</text>
<line x1="219.84" y1="658.3" x2="219.84" y2="662.5" stroke="#000" stroke-width="1"/>
<text x="221.84" y="665.8" font-size="8.6" text-anchor="end" fill="#000" font-style="italic" transform="rotate(-90 221.84 665.8)">Stat1</text>
<text x="134.2" y="491.25" font-size="12.5" text-anchor="start" fill="#000" font-weight="bold" stroke="#000" stroke-width="0.55">H</text>
<line x1="322.5" y1="528.4" x2="322.5" y2="670.3" stroke="#000" stroke-width="1.4"/>
<line x1="321.8" y1="669.6" x2="393.8" y2="669.6" stroke="#000" stroke-width="1.4"/>
<line x1="319.1" y1="669.6" x2="322.5" y2="669.6" stroke="#000" stroke-width="1.1"/>
<text x="316.4" y="672.5" font-size="8.2" text-anchor="end" fill="#000" textLength="5" lengthAdjust="spacingAndGlyphs">0</text>
<line x1="319.1" y1="641.48" x2="322.5" y2="641.48" stroke="#000" stroke-width="1.1"/>
<text x="316.4" y="644.38" font-size="8.2" text-anchor="end" fill="#000" textLength="10" lengthAdjust="spacingAndGlyphs">30</text>
<line x1="319.1" y1="613.36" x2="322.5" y2="613.36" stroke="#000" stroke-width="1.1"/>
<text x="316.4" y="616.26" font-size="8.2" text-anchor="end" fill="#000" textLength="10" lengthAdjust="spacingAndGlyphs">60</text>
<line x1="319.1" y1="585.24" x2="322.5" y2="585.24" stroke="#000" stroke-width="1.1"/>
<text x="316.4" y="588.14" font-size="8.2" text-anchor="end" fill="#000" textLength="10" lengthAdjust="spacingAndGlyphs">90</text>
<line x1="319.1" y1="557.12" x2="322.5" y2="557.12" stroke="#000" stroke-width="1.1"/>
<text x="316.4" y="560.02" font-size="8.2" text-anchor="end" fill="#000" textLength="15" lengthAdjust="spacingAndGlyphs">120</text>
<line x1="319.1" y1="529.0" x2="322.5" y2="529.0" stroke="#000" stroke-width="1.1"/>
<text x="316.4" y="531.9" font-size="8.2" text-anchor="end" fill="#000" textLength="15" lengthAdjust="spacingAndGlyphs">150</text>
<line x1="340" y1="669.6" x2="340" y2="672.8" stroke="#000" stroke-width="1.1"/>
<line x1="375.8" y1="669.6" x2="375.8" y2="672.8" stroke="#000" stroke-width="1.1"/>
<text x="340.4" y="683.4" font-size="8.4" text-anchor="middle" fill="#000" textLength="26.1" lengthAdjust="spacingAndGlyphs">control</text>
<text x="375.6" y="683.4" font-size="8.4" text-anchor="middle" fill="#000" font-style="italic" textLength="23.8" lengthAdjust="spacingAndGlyphs">Runx1</text>
<text x="375.6" y="693.9" font-size="8.4" text-anchor="middle" fill="#000" font-style="italic" textLength="12" lengthAdjust="spacingAndGlyphs">KO</text>
<text x="294.4" y="622.8" font-size="8.6" transform="rotate(-90 294.4 622.8)" textLength="47.5" lengthAdjust="spacingAndGlyphs"><tspan font-style="italic">Gata2</tspan> (TPM)</text>
<circle cx="340" cy="595.7" r="2.9" fill="none" stroke="#000" stroke-width="1.3"/>
<circle cx="340" cy="613.9" r="2.9" fill="none" stroke="#000" stroke-width="1.3"/>
<circle cx="340" cy="625.4" r="2.9" fill="none" stroke="#000" stroke-width="1.3"/>
<path d="M375.8,547.1 L379.2,552.7 L372.4,552.7 Z" fill="none" stroke="#000" stroke-width="1.2"/>
<path d="M375.8,558.3 L379.2,563.9 L372.4,563.9 Z" fill="none" stroke="#000" stroke-width="1.2"/>
<path d="M375.8,562.7 L379.2,568.3 L372.4,568.3 Z" fill="none" stroke="#000" stroke-width="1.2"/>
<line x1="340" y1="597" x2="340" y2="612" stroke="#c8d8ec" stroke-width="0.8" stroke-dasharray="1 1"/>
<line x1="372.6" y1="557.9" x2="379" y2="557.9" stroke="#e01818" stroke-width="1.6"/>
<line x1="340.5" y1="611.5" x2="375.5" y2="558.5" stroke="#e01818" stroke-width="1.1" stroke-dasharray="1.2 1"/>
<text x="285.5" y="491.05" font-size="12.5" text-anchor="start" fill="#000" font-weight="bold" stroke="#000" stroke-width="0.55">I</text>
<rect x="0.75" y="0.75" width="518.5" height="707.5" fill="none" stroke="#000" stroke-width="1.5"/>
</svg></body></html>
